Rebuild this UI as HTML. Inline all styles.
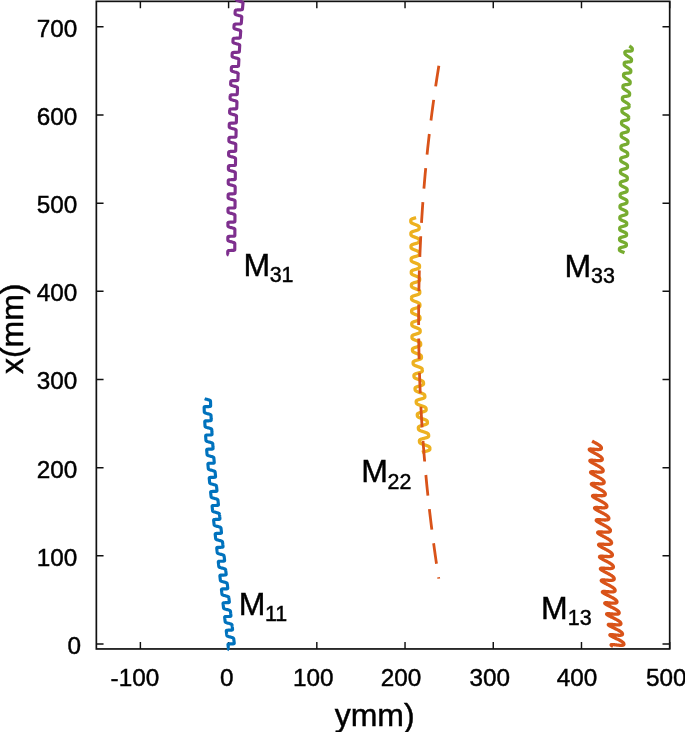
<!DOCTYPE html>
<html><head><meta charset="utf-8"><title>plot</title>
<style>html,body{margin:0;padding:0;background:#fff;overflow:hidden;}svg{display:block;}text{font-family:"Liberation Sans",Arial,sans-serif;fill:#000;stroke:#000;stroke-width:0.45px;}</style></head><body>
<svg width="685" height="732" viewBox="0 0 685 732">
<rect width="685" height="732" fill="#fff"/>
<rect x="96.35" y="1.35" width="573.35" height="647.60" fill="none" stroke="#111" stroke-width="1.70"/>
<path d="M140.38 648.95V641.95M140.38 1.35V8.35M228.60 648.95V641.95M228.60 1.35V8.35M316.82 648.95V641.95M316.82 1.35V8.35M405.04 648.95V641.95M405.04 1.35V8.35M493.26 648.95V641.95M493.26 1.35V8.35M581.48 648.95V641.95M581.48 1.35V8.35M669.70 648.95V641.95M669.70 1.35V8.35M96.35 644.00H103.55M669.70 644.00H662.50M96.35 555.83H103.55M669.70 555.83H662.50M96.35 467.66H103.55M669.70 467.66H662.50M96.35 379.49H103.55M669.70 379.49H662.50M96.35 291.32H103.55M669.70 291.32H662.50M96.35 203.15H103.55M669.70 203.15H662.50M96.35 114.98H103.55M669.70 114.98H662.50M96.35 26.81H103.55M669.70 26.81H662.50" stroke="#111" stroke-width="1.45" fill="none"/>
<path d="M243.82 -5.55L243.80 -5.45L243.79 -5.35L243.78 -5.25L243.76 -5.15L243.74 -5.05L243.71 -4.95L243.67 -4.86L243.62 -4.76L243.55 -4.67L243.44 -4.58L243.28 -4.50L243.06 -4.43L242.74 -4.36L242.30 -4.32L241.75 -4.29L241.08 -4.27L240.35 -4.26L239.61 -4.26L238.93 -4.24L238.34 -4.22L237.87 -4.18L237.51 -4.12L237.24 -4.05L237.05 -3.98L236.90 -3.89L236.80 -3.80L236.73 -3.71L236.67 -3.62L236.63 -3.52L236.59 -3.42L236.57 -3.32L236.54 -3.23L236.53 -3.13L236.51 -3.03L236.49 -2.93L236.48 -2.83L236.47 -2.73L236.46 -2.63L236.45 -2.53L236.43 -2.43L236.42 -2.32L236.41 -2.22L236.40 -2.12L236.39 -2.02L236.38 -1.92L236.38 -1.82L236.37 -1.72L236.36 -1.62L236.35 -1.52L236.34 -1.42L236.33 -1.32L236.33 -1.22L236.32 -1.12L236.31 -1.02L236.31 -0.91L236.30 -0.81L236.30 -0.71L236.31 -0.61L236.31 -0.51L236.32 -0.40L236.34 -0.30L236.38 -0.19L236.43 -0.08L236.50 0.03L236.61 0.14L236.77 0.27L236.99 0.40L237.30 0.54L237.71 0.69L238.24 0.86L238.88 1.05L239.59 1.24L240.31 1.43L240.98 1.62L241.56 1.80L242.01 1.96L242.35 2.10L242.59 2.24L242.74 2.36L242.85 2.47L242.91 2.58L242.95 2.69L242.97 2.79L242.98 2.90L242.99 3.00L242.99 3.10L242.98 3.20L242.98 3.30L242.97 3.40L242.96 3.51L242.95 3.61L242.95 3.71L242.94 3.81L242.93 3.91L242.92 4.01L242.91 4.11L242.90 4.21L242.89 4.31L242.88 4.41L242.87 4.51L242.86 4.61L242.86 4.71L242.85 4.81L242.84 4.91L242.83 5.01L242.82 5.12L242.81 5.22L242.80 5.32L242.79 5.42L242.78 5.52L242.77 5.62L242.77 5.72L242.76 5.82L242.75 5.92L242.74 6.02L242.73 6.12L242.72 6.22L242.71 6.32L242.70 6.42L242.69 6.52L242.68 6.62L242.68 6.73L242.67 6.83L242.66 6.93L242.65 7.03L242.64 7.13L242.63 7.23L242.62 7.33L242.61 7.43L242.60 7.53L242.60 7.63L242.59 7.73L242.58 7.83L242.57 7.93L242.56 8.03L242.55 8.13L242.54 8.23L242.53 8.33L242.52 8.44L242.51 8.54L242.50 8.64L242.49 8.74L242.48 8.84L242.47 8.94L242.45 9.04L242.43 9.14L242.40 9.23L242.36 9.33L242.30 9.42L242.22 9.51L242.09 9.60L241.91 9.68L241.66 9.75L241.30 9.80L240.82 9.84L240.22 9.87L239.53 9.88L238.79 9.89L238.06 9.90L237.41 9.91L236.87 9.95L236.44 9.99L236.12 10.05L235.88 10.12L235.71 10.20L235.58 10.29L235.49 10.38L235.42 10.47L235.37 10.57L235.33 10.66L235.31 10.76L235.28 10.86L235.26 10.96L235.24 11.06L235.23 11.16L235.22 11.26L235.20 11.36L235.19 11.46L235.18 11.56L235.17 11.66L235.16 11.76L235.15 11.86L235.14 11.96L235.14 12.06L235.13 12.16L235.12 12.26L235.11 12.37L235.10 12.47L235.09 12.57L235.09 12.67L235.08 12.77L235.07 12.87L235.07 12.97L235.06 13.07L235.06 13.17L235.05 13.27L235.05 13.37L235.05 13.48L235.06 13.58L235.07 13.68L235.08 13.79L235.11 13.89L235.15 14.00L235.21 14.11L235.29 14.22L235.42 14.34L235.60 14.46L235.85 14.60L236.20 14.74L236.66 14.90L237.23 15.08L237.90 15.27L238.62 15.46L239.33 15.65L239.97 15.84L240.51 16.01L240.92 16.16L241.22 16.30L241.42 16.43L241.56 16.55L241.65 16.66L241.70 16.77L241.74 16.88L241.75 16.98L241.76 17.08L241.76 17.19L241.76 17.29L241.76 17.39L241.75 17.49L241.75 17.59L241.74 17.69L241.73 17.79L241.73 17.89L241.72 17.99L241.71 18.09L241.70 18.20L241.69 18.30L241.69 18.40L241.68 18.50L241.67 18.60L241.66 18.70L241.65 18.80L241.65 18.90L241.64 19.00L241.63 19.10L241.62 19.20L241.61 19.30L241.61 19.40L241.60 19.50L241.59 19.60L241.58 19.70L241.57 19.81L241.57 19.91L241.56 20.01L241.55 20.11L241.54 20.21L241.53 20.31L241.53 20.41L241.52 20.51L241.51 20.61L241.50 20.71L241.49 20.81L241.49 20.91L241.48 21.01L241.47 21.11L241.46 21.21L241.45 21.31L241.45 21.41L241.44 21.52L241.43 21.62L241.42 21.72L241.41 21.82L241.41 21.92L241.40 22.02L241.39 22.12L241.38 22.22L241.37 22.32L241.37 22.42L241.36 22.52L241.35 22.62L241.34 22.72L241.33 22.82L241.32 22.92L241.31 23.02L241.29 23.12L241.28 23.22L241.25 23.32L241.22 23.42L241.18 23.51L241.11 23.61L241.02 23.70L240.88 23.78L240.67 23.86L240.38 23.92L239.98 23.97L239.46 24.01L238.82 24.02L238.11 24.03L237.36 24.04L236.66 24.05L236.05 24.07L235.55 24.11L235.16 24.16L234.87 24.23L234.66 24.30L234.51 24.38L234.40 24.47L234.32 24.56L234.26 24.66L234.22 24.75L234.18 24.85L234.16 24.95L234.13 25.05L234.12 25.15L234.10 25.25L234.09 25.35L234.08 25.45L234.07 25.55L234.06 25.65L234.05 25.75L234.04 25.85L234.03 25.95L234.02 26.05L234.01 26.15L234.00 26.25L234.00 26.35L233.99 26.45L233.98 26.55L233.98 26.65L233.97 26.75L233.96 26.85L233.96 26.95L233.95 27.06L233.95 27.16L233.94 27.26L233.94 27.36L233.94 27.46L233.94 27.56L233.94 27.66L233.95 27.77L233.96 27.87L233.98 27.97L234.01 28.08L234.06 28.19L234.12 28.30L234.22 28.41L234.37 28.53L234.57 28.66L234.86 28.80L235.25 28.95L235.75 29.12L236.36 29.30L237.06 29.49L237.78 29.68L238.48 29.87L239.08 30.05L239.57 30.22L239.94 30.37L240.20 30.50L240.38 30.63L240.50 30.74L240.58 30.85L240.62 30.96L240.65 31.07L240.67 31.17L240.67 31.27L240.68 31.37L240.67 31.48L240.67 31.58L240.67 31.68L240.66 31.78L240.65 31.88L240.65 31.98L240.64 32.08L240.63 32.18L240.63 32.28L240.62 32.38L240.61 32.48L240.61 32.58L240.60 32.68L240.59 32.78L240.58 32.89L240.58 32.99L240.57 33.09L240.56 33.19L240.56 33.29L240.55 33.39L240.54 33.49L240.53 33.59L240.53 33.69L240.52 33.79L240.51 33.89L240.51 33.99L240.50 34.09L240.49 34.19L240.48 34.29L240.48 34.39L240.47 34.50L240.46 34.60L240.46 34.70L240.45 34.80L240.44 34.90L240.43 35.00L240.43 35.10L240.42 35.20L240.41 35.30L240.41 35.40L240.40 35.50L240.39 35.60L240.39 35.70L240.38 35.80L240.37 35.90L240.36 36.00L240.36 36.10L240.35 36.21L240.34 36.31L240.34 36.41L240.33 36.51L240.32 36.61L240.31 36.71L240.31 36.81L240.30 36.91L240.29 37.01L240.28 37.11L240.27 37.21L240.25 37.31L240.23 37.41L240.21 37.51L240.17 37.60L240.12 37.70L240.05 37.79L239.94 37.88L239.78 37.96L239.55 38.03L239.22 38.09L238.78 38.13L238.21 38.16L237.54 38.18L236.81 38.19L236.08 38.19L235.40 38.21L234.83 38.24L234.38 38.28L234.03 38.34L233.77 38.40L233.58 38.48L233.45 38.57L233.35 38.66L233.28 38.75L233.23 38.84L233.19 38.94L233.16 39.04L233.14 39.13L233.12 39.23L233.10 39.33L233.09 39.43L233.08 39.53L233.07 39.63L233.06 39.73L233.05 39.83L233.04 39.93L233.03 40.03L233.02 40.14L233.02 40.24L233.01 40.34L233.00 40.44L233.00 40.54L232.99 40.64L232.98 40.74L232.98 40.84L232.97 40.94L232.97 41.04L232.96 41.14L232.96 41.24L232.95 41.34L232.95 41.44L232.95 41.55L232.95 41.65L232.95 41.75L232.95 41.85L232.96 41.95L232.98 42.06L233.00 42.16L233.04 42.27L233.09 42.38L233.17 42.49L233.29 42.60L233.46 42.73L233.69 42.86L234.01 43.00L234.44 43.16L234.98 43.33L235.63 43.51L236.35 43.71L237.07 43.90L237.74 44.09L238.30 44.26L238.75 44.42L239.08 44.57L239.31 44.70L239.46 44.82L239.57 44.93L239.63 45.04L239.67 45.15L239.69 45.25L239.71 45.36L239.71 45.46L239.71 45.56L239.71 45.66L239.71 45.76L239.70 45.86L239.70 45.96L239.69 46.07L239.69 46.17L239.68 46.27L239.68 46.37L239.67 46.47L239.66 46.57L239.66 46.67L239.65 46.77L239.64 46.87L239.64 46.97L239.63 47.07L239.62 47.17L239.62 47.27L239.61 47.37L239.61 47.47L239.60 47.58L239.59 47.68L239.59 47.78L239.58 47.88L239.57 47.98L239.57 48.08L239.56 48.18L239.56 48.28L239.55 48.38L239.54 48.48L239.54 48.58L239.53 48.68L239.52 48.78L239.52 48.88L239.51 48.98L239.51 49.08L239.50 49.18L239.49 49.29L239.49 49.39L239.48 49.49L239.47 49.59L239.47 49.69L239.46 49.79L239.46 49.89L239.45 49.99L239.44 50.09L239.44 50.19L239.43 50.29L239.43 50.39L239.42 50.49L239.41 50.59L239.41 50.69L239.40 50.79L239.39 50.90L239.39 51.00L239.38 51.10L239.37 51.20L239.36 51.30L239.35 51.40L239.33 51.50L239.31 51.59L239.29 51.69L239.25 51.79L239.19 51.88L239.11 51.97L238.98 52.06L238.80 52.14L238.53 52.20L238.17 52.26L237.68 52.30L237.07 52.32L236.38 52.33L235.64 52.34L234.92 52.35L234.28 52.37L233.75 52.40L233.34 52.45L233.03 52.51L232.80 52.58L232.63 52.66L232.51 52.75L232.43 52.84L232.37 52.93L232.32 53.03L232.29 53.12L232.26 53.22L232.24 53.32L232.22 53.42L232.21 53.52L232.20 53.62L232.18 53.72L232.18 53.82L232.17 53.92L232.16 54.02L232.15 54.12L232.15 54.22L232.14 54.32L232.13 54.42L232.13 54.52L232.12 54.62L232.11 54.72L232.11 54.82L232.10 54.93L232.10 55.03L232.09 55.13L232.09 55.23L232.08 55.33L232.08 55.43L232.08 55.53L232.08 55.63L232.08 55.73L232.08 55.83L232.08 55.94L232.09 56.04L232.10 56.14L232.12 56.25L232.15 56.35L232.19 56.46L232.26 56.57L232.35 56.68L232.48 56.80L232.67 56.92L232.93 57.06L233.29 57.21L233.77 57.37L234.35 57.55L235.03 57.73L235.76 57.93L236.47 58.12L237.10 58.31L237.63 58.47L238.03 58.63L238.32 58.77L238.52 58.89L238.65 59.01L238.74 59.12L238.80 59.23L238.83 59.34L238.85 59.44L238.86 59.54L238.87 59.65L238.87 59.75L238.87 59.85L238.86 59.95L238.86 60.05L238.85 60.15L238.85 60.25L238.84 60.35L238.84 60.45L238.83 60.55L238.83 60.66L238.82 60.76L238.82 60.86L238.81 60.96L238.81 61.06L238.80 61.16L238.80 61.26L238.79 61.36L238.78 61.46L238.78 61.56L238.77 61.66L238.77 61.76L238.76 61.86L238.76 61.96L238.75 62.06L238.75 62.16L238.74 62.26L238.73 62.37L238.73 62.47L238.72 62.57L238.72 62.67L238.71 62.77L238.71 62.87L238.70 62.97L238.70 63.07L238.69 63.17L238.69 63.27L238.68 63.37L238.67 63.47L238.67 63.57L238.66 63.67L238.66 63.77L238.65 63.87L238.65 63.98L238.64 64.08L238.64 64.18L238.63 64.28L238.63 64.38L238.62 64.48L238.62 64.58L238.61 64.68L238.60 64.78L238.60 64.88L238.59 64.98L238.59 65.08L238.58 65.18L238.57 65.28L238.56 65.38L238.56 65.48L238.54 65.58L238.53 65.68L238.51 65.78L238.48 65.88L238.43 65.97L238.37 66.07L238.27 66.16L238.13 66.24L237.92 66.31L237.62 66.38L237.21 66.42L236.68 66.46L236.04 66.48L235.32 66.48L234.58 66.49L233.89 66.50L233.29 66.53L232.80 66.57L232.43 66.62L232.15 66.69L231.95 66.76L231.80 66.84L231.70 66.93L231.62 67.02L231.57 67.12L231.53 67.21L231.50 67.31L231.47 67.41L231.45 67.51L231.44 67.61L231.43 67.71L231.42 67.81L231.41 67.91L231.40 68.01L231.39 68.11L231.38 68.21L231.38 68.31L231.37 68.41L231.37 68.51L231.36 68.61L231.35 68.71L231.35 68.81L231.34 68.91L231.34 69.01L231.34 69.11L231.33 69.21L231.33 69.31L231.32 69.41L231.32 69.52L231.32 69.62L231.32 69.72L231.32 69.82L231.32 69.92L231.32 70.02L231.33 70.12L231.33 70.23L231.35 70.33L231.37 70.43L231.41 70.54L231.46 70.65L231.53 70.76L231.64 70.87L231.79 70.99L232.01 71.12L232.30 71.26L232.70 71.41L233.22 71.58L233.84 71.76L234.55 71.96L235.28 72.15L235.97 72.34L236.56 72.52L237.04 72.68L237.40 72.83L237.66 72.96L237.83 73.09L237.95 73.20L238.02 73.31L238.07 73.42L238.10 73.53L238.12 73.63L238.12 73.73L238.13 73.83L238.13 73.93L238.13 74.04L238.13 74.14L238.12 74.24L238.12 74.34L238.11 74.44L238.11 74.54L238.11 74.64L238.10 74.74L238.10 74.84L238.09 74.94L238.09 75.04L238.08 75.14L238.08 75.24L238.07 75.34L238.07 75.45L238.06 75.55L238.06 75.65L238.05 75.75L238.05 75.85L238.04 75.95L238.04 76.05L238.03 76.15L238.03 76.25L238.03 76.35L238.02 76.45L238.02 76.55L238.01 76.65L238.01 76.75L238.00 76.85L238.00 76.95L237.99 77.06L237.99 77.16L237.98 77.26L237.98 77.36L237.97 77.46L237.97 77.56L237.96 77.66L237.96 77.76L237.95 77.86L237.95 77.96L237.95 78.06L237.94 78.16L237.94 78.26L237.93 78.36L237.93 78.46L237.92 78.56L237.92 78.67L237.91 78.77L237.91 78.87L237.90 78.97L237.90 79.07L237.89 79.17L237.89 79.27L237.88 79.37L237.87 79.47L237.87 79.57L237.86 79.67L237.84 79.77L237.83 79.87L237.80 79.97L237.77 80.06L237.72 80.16L237.65 80.25L237.54 80.34L237.37 80.42L237.13 80.49L236.80 80.55L236.35 80.59L235.77 80.62L235.10 80.63L234.36 80.64L233.63 80.64L232.97 80.66L232.41 80.69L231.97 80.73L231.63 80.79L231.39 80.86L231.21 80.94L231.08 81.02L230.99 81.11L230.92 81.21L230.87 81.30L230.84 81.40L230.81 81.50L230.79 81.59L230.77 81.69L230.76 81.79L230.75 81.89L230.74 81.99L230.73 82.09L230.73 82.19L230.72 82.29L230.71 82.39L230.71 82.49L230.70 82.59L230.70 82.70L230.69 82.80L230.69 82.90L230.68 83.00L230.68 83.10L230.67 83.20L230.67 83.30L230.67 83.40L230.66 83.50L230.66 83.60L230.66 83.70L230.66 83.80L230.66 83.90L230.66 84.01L230.66 84.11L230.67 84.21L230.67 84.31L230.68 84.41L230.70 84.52L230.73 84.62L230.77 84.73L230.83 84.84L230.92 84.95L231.04 85.07L231.21 85.19L231.46 85.32L231.79 85.47L232.23 85.62L232.79 85.80L233.45 85.98L234.17 86.18L234.89 86.37L235.55 86.56L236.11 86.73L236.55 86.89L236.87 87.03L237.09 87.16L237.24 87.28L237.34 87.39L237.40 87.50L237.44 87.61L237.47 87.71L237.48 87.82L237.49 87.92L237.49 88.02L237.49 88.12L237.49 88.22L237.49 88.32L237.49 88.42L237.48 88.53L237.48 88.63L237.48 88.73L237.47 88.83L237.47 88.93L237.47 89.03L237.46 89.13L237.46 89.23L237.45 89.33L237.45 89.43L237.45 89.53L237.44 89.63L237.44 89.73L237.43 89.83L237.43 89.93L237.42 90.03L237.42 90.14L237.42 90.24L237.41 90.34L237.41 90.44L237.40 90.54L237.40 90.64L237.40 90.74L237.39 90.84L237.39 90.94L237.38 91.04L237.38 91.14L237.38 91.24L237.37 91.34L237.37 91.44L237.36 91.54L237.36 91.64L237.36 91.75L237.35 91.85L237.35 91.95L237.34 92.05L237.34 92.15L237.34 92.25L237.33 92.35L237.33 92.45L237.32 92.55L237.32 92.65L237.32 92.75L237.31 92.85L237.31 92.95L237.30 93.05L237.30 93.15L237.29 93.25L237.29 93.35L237.29 93.46L237.28 93.56L237.27 93.66L237.27 93.76L237.26 93.86L237.24 93.96L237.22 94.05L237.20 94.15L237.16 94.25L237.10 94.34L237.02 94.43L236.89 94.52L236.70 94.59L236.43 94.66L236.06 94.71L235.56 94.75L234.95 94.77L234.24 94.78L233.50 94.79L232.79 94.80L232.17 94.82L231.65 94.85L231.25 94.90L230.95 94.97L230.73 95.04L230.57 95.12L230.46 95.21L230.38 95.30L230.32 95.39L230.28 95.49L230.25 95.58L230.22 95.68L230.21 95.78L230.19 95.88L230.18 95.98L230.17 96.08L230.16 96.18L230.15 96.28L230.15 96.38L230.14 96.48L230.14 96.58L230.13 96.68L230.13 96.78L230.12 96.88L230.12 96.98L230.12 97.08L230.11 97.18L230.11 97.28L230.11 97.39L230.10 97.49L230.10 97.59L230.10 97.69L230.10 97.79L230.09 97.89L230.09 97.99L230.09 98.09L230.10 98.19L230.10 98.29L230.11 98.40L230.12 98.50L230.13 98.60L230.15 98.71L230.18 98.81L230.23 98.92L230.30 99.03L230.40 99.14L230.54 99.26L230.74 99.39L231.01 99.52L231.38 99.67L231.87 99.84L232.46 100.01L233.15 100.20L233.88 100.40L234.59 100.59L235.22 100.77L235.73 100.94L236.13 101.09L236.41 101.23L236.60 101.35L236.73 101.47L236.82 101.58L236.87 101.69L236.91 101.80L236.93 101.90L236.94 102.00L236.95 102.11L236.95 102.21L236.95 102.31L236.95 102.41L236.95 102.51L236.95 102.61L236.94 102.71L236.94 102.81L236.94 102.91L236.93 103.01L236.93 103.11L236.93 103.22L236.92 103.32L236.92 103.42L236.92 103.52L236.91 103.62L236.91 103.72L236.91 103.82L236.90 103.92L236.90 104.02L236.90 104.12L236.89 104.22L236.89 104.32L236.89 104.42L236.88 104.52L236.88 104.62L236.88 104.72L236.87 104.83L236.87 104.93L236.86 105.03L236.86 105.13L236.86 105.23L236.85 105.33L236.85 105.43L236.85 105.53L236.84 105.63L236.84 105.73L236.84 105.83L236.83 105.93L236.83 106.03L236.83 106.13L236.82 106.23L236.82 106.33L236.82 106.44L236.81 106.54L236.81 106.64L236.81 106.74L236.80 106.84L236.80 106.94L236.80 107.04L236.79 107.14L236.79 107.24L236.79 107.34L236.78 107.44L236.78 107.54L236.77 107.64L236.77 107.74L236.76 107.84L236.75 107.94L236.74 108.04L236.73 108.14L236.71 108.24L236.68 108.34L236.64 108.43L236.57 108.53L236.47 108.61L236.33 108.70L236.11 108.77L235.80 108.83L235.39 108.88L234.85 108.91L234.20 108.93L233.47 108.94L232.74 108.94L232.06 108.96L231.47 108.98L231.00 109.02L230.63 109.08L230.36 109.14L230.17 109.22L230.03 109.30L229.93 109.39L229.86 109.48L229.81 109.58L229.77 109.67L229.75 109.77L229.72 109.87L229.71 109.97L229.70 110.07L229.69 110.17L229.68 110.27L229.67 110.37L229.66 110.47L229.66 110.57L229.65 110.67L229.65 110.77L229.65 110.87L229.64 110.97L229.64 111.07L229.63 111.17L229.63 111.27L229.63 111.37L229.63 111.47L229.62 111.57L229.62 111.67L229.62 111.77L229.62 111.87L229.62 111.98L229.62 112.08L229.62 112.18L229.62 112.28L229.62 112.38L229.63 112.48L229.63 112.58L229.65 112.69L229.66 112.79L229.69 112.89L229.73 113.00L229.78 113.11L229.86 113.22L229.97 113.33L230.13 113.46L230.36 113.59L230.66 113.73L231.08 113.88L231.60 114.05L232.24 114.23L232.95 114.42L233.68 114.62L234.37 114.81L234.96 114.99L235.43 115.15L235.78 115.29L236.02 115.43L236.19 115.55L236.31 115.66L236.38 115.77L236.43 115.88L236.46 115.99L236.47 116.09L236.48 116.19L236.49 116.29L236.49 116.39L236.49 116.50L236.49 116.60L236.49 116.70L236.49 116.80L236.49 116.90L236.48 117.00L236.48 117.10L236.48 117.20L236.48 117.30L236.47 117.40L236.47 117.50L236.47 117.60L236.46 117.70L236.46 117.80L236.46 117.91L236.46 118.01L236.45 118.11L236.45 118.21L236.45 118.31L236.44 118.41L236.44 118.51L236.44 118.61L236.43 118.71L236.43 118.81L236.43 118.91L236.43 119.01L236.42 119.11L236.42 119.21L236.42 119.31L236.41 119.41L236.41 119.52L236.41 119.62L236.41 119.72L236.40 119.82L236.40 119.92L236.40 120.02L236.39 120.12L236.39 120.22L236.39 120.32L236.39 120.42L236.38 120.52L236.38 120.62L236.38 120.72L236.37 120.82L236.37 120.92L236.37 121.02L236.37 121.13L236.36 121.23L236.36 121.33L236.36 121.43L236.35 121.53L236.35 121.63L236.35 121.73L236.34 121.83L236.34 121.93L236.33 122.03L236.32 122.13L236.31 122.23L236.30 122.33L236.27 122.43L236.24 122.52L236.19 122.62L236.12 122.71L236.00 122.79L235.83 122.87L235.59 122.94L235.24 123.00L234.78 123.04L234.20 123.07L233.52 123.08L232.78 123.09L232.06 123.10L231.41 123.11L230.86 123.14L230.43 123.19L230.11 123.25L229.87 123.32L229.70 123.40L229.58 123.48L229.49 123.57L229.43 123.67L229.38 123.76L229.35 123.86L229.32 123.96L229.31 124.05L229.29 124.15L229.28 124.25L229.27 124.35L229.26 124.45L229.26 124.55L229.25 124.65L229.25 124.75L229.24 124.85L229.24 124.95L229.24 125.05L229.23 125.16L229.23 125.26L229.23 125.36L229.23 125.46L229.22 125.56L229.22 125.66L229.22 125.76L229.22 125.86L229.22 125.96L229.21 126.06L229.21 126.16L229.21 126.26L229.22 126.36L229.22 126.47L229.22 126.57L229.23 126.67L229.24 126.77L229.25 126.87L229.27 126.98L229.31 127.08L229.35 127.19L229.41 127.30L229.50 127.41L229.63 127.53L229.81 127.65L230.06 127.79L230.41 127.93L230.86 128.09L231.43 128.26L232.10 128.45L232.83 128.65L233.55 128.84L234.21 129.02L234.75 129.20L235.18 129.35L235.49 129.49L235.71 129.62L235.85 129.74L235.95 129.85L236.01 129.96L236.05 130.07L236.08 130.17L236.09 130.28L236.10 130.38L236.11 130.48L236.11 130.58L236.11 130.68L236.11 130.78L236.11 130.88L236.11 130.99L236.10 131.09L236.10 131.19L236.10 131.29L236.10 131.39L236.10 131.49L236.09 131.59L236.09 131.69L236.09 131.79L236.09 131.89L236.08 131.99L236.08 132.09L236.08 132.19L236.08 132.29L236.07 132.39L236.07 132.49L236.07 132.60L236.07 132.70L236.06 132.80L236.06 132.90L236.06 133.00L236.06 133.10L236.06 133.20L236.05 133.30L236.05 133.40L236.05 133.50L236.05 133.60L236.04 133.70L236.04 133.80L236.04 133.90L236.04 134.00L236.03 134.10L236.03 134.21L236.03 134.31L236.03 134.41L236.02 134.51L236.02 134.61L236.02 134.71L236.02 134.81L236.02 134.91L236.01 135.01L236.01 135.11L236.01 135.21L236.01 135.31L236.00 135.41L236.00 135.51L236.00 135.61L236.00 135.71L235.99 135.81L235.99 135.92L235.98 136.02L235.98 136.12L235.97 136.22L235.97 136.32L235.95 136.42L235.94 136.51L235.91 136.61L235.87 136.71L235.82 136.80L235.73 136.89L235.60 136.97L235.40 137.05L235.13 137.12L234.74 137.17L234.23 137.20L233.61 137.22L232.90 137.23L232.17 137.24L231.46 137.25L230.85 137.27L230.35 137.31L229.96 137.36L229.67 137.42L229.46 137.50L229.30 137.58L229.20 137.67L229.12 137.76L229.07 137.85L229.03 137.95L229.00 138.04L228.98 138.14L228.96 138.24L228.95 138.34L228.94 138.44L228.93 138.54L228.92 138.64L228.92 138.74L228.91 138.84L228.91 138.94L228.91 139.04L228.90 139.14L228.90 139.24L228.90 139.34L228.89 139.44L228.89 139.54L228.89 139.64L228.89 139.74L228.89 139.85L228.89 139.95L228.88 140.05L228.88 140.15L228.88 140.25L228.88 140.35L228.88 140.45L228.89 140.55L228.89 140.65L228.90 140.75L228.90 140.86L228.92 140.96L228.93 141.06L228.96 141.17L228.99 141.27L229.04 141.38L229.11 141.49L229.22 141.60L229.36 141.72L229.57 141.85L229.85 141.99L230.24 142.14L230.74 142.30L231.35 142.48L232.04 142.67L232.78 142.87L233.48 143.06L234.10 143.24L234.60 143.40L234.98 143.55L235.26 143.69L235.45 143.82L235.58 143.93L235.66 144.05L235.71 144.15L235.75 144.26L235.77 144.36L235.78 144.46L235.79 144.57L235.79 144.67L235.80 144.77L235.80 144.87L235.80 144.97L235.79 145.07L235.79 145.17L235.79 145.27L235.79 145.37L235.79 145.47L235.79 145.57L235.78 145.68L235.78 145.78L235.78 145.88L235.78 145.98L235.78 146.08L235.77 146.18L235.77 146.28L235.77 146.38L235.77 146.48L235.77 146.58L235.76 146.68L235.76 146.78L235.76 146.88L235.76 146.98L235.76 147.08L235.76 147.18L235.75 147.29L235.75 147.39L235.75 147.49L235.75 147.59L235.75 147.69L235.74 147.79L235.74 147.89L235.74 147.99L235.74 148.09L235.74 148.19L235.73 148.29L235.73 148.39L235.73 148.49L235.73 148.59L235.73 148.69L235.72 148.79L235.72 148.89L235.72 149.00L235.72 149.10L235.72 149.20L235.71 149.30L235.71 149.40L235.71 149.50L235.71 149.60L235.71 149.70L235.70 149.80L235.70 149.90L235.70 150.00L235.70 150.10L235.69 150.20L235.69 150.30L235.68 150.40L235.67 150.50L235.66 150.60L235.64 150.70L235.61 150.80L235.57 150.89L235.50 150.98L235.40 151.07L235.25 151.15L235.03 151.23L234.71 151.29L234.28 151.33L233.73 151.36L233.07 151.38L232.35 151.39L231.62 151.39L230.94 151.41L230.37 151.43L229.91 151.48L229.56 151.53L229.30 151.60L229.11 151.68L228.98 151.76L228.89 151.85L228.82 151.94L228.77 152.04L228.74 152.13L228.71 152.23L228.69 152.33L228.68 152.43L228.67 152.53L228.66 152.63L228.65 152.73L228.64 152.83L228.64 152.93L228.64 153.03L228.63 153.13L228.63 153.23L228.63 153.33L228.62 153.43L228.62 153.53L228.62 153.63L228.62 153.73L228.62 153.83L228.62 153.93L228.61 154.03L228.61 154.13L228.61 154.23L228.61 154.33L228.61 154.44L228.61 154.54L228.62 154.64L228.62 154.74L228.62 154.84L228.63 154.94L228.64 155.04L228.65 155.15L228.67 155.25L228.70 155.35L228.74 155.46L228.80 155.57L228.88 155.68L229.00 155.80L229.17 155.92L229.40 156.05L229.72 156.19L230.14 156.35L230.68 156.52L231.33 156.70L232.05 156.89L232.78 157.09L233.46 157.28L234.04 157.45L234.50 157.61L234.84 157.76L235.08 157.89L235.24 158.01L235.35 158.12L235.42 158.24L235.47 158.34L235.50 158.45L235.52 158.55L235.53 158.65L235.53 158.75L235.54 158.85L235.54 158.96L235.54 159.06L235.54 159.16L235.54 159.26L235.54 159.36L235.54 159.46L235.54 159.56L235.53 159.66L235.53 159.76L235.53 159.86L235.53 159.96L235.53 160.06L235.53 160.16L235.53 160.26L235.52 160.37L235.52 160.47L235.52 160.57L235.52 160.67L235.52 160.77L235.52 160.87L235.51 160.97L235.51 161.07L235.51 161.17L235.51 161.27L235.51 161.37L235.51 161.47L235.51 161.57L235.50 161.67L235.50 161.77L235.50 161.87L235.50 161.98L235.50 162.08L235.50 162.18L235.49 162.28L235.49 162.38L235.49 162.48L235.49 162.58L235.49 162.68L235.49 162.78L235.49 162.88L235.48 162.98L235.48 163.08L235.48 163.18L235.48 163.28L235.48 163.38L235.48 163.48L235.47 163.58L235.47 163.69L235.47 163.79L235.47 163.89L235.47 163.99L235.47 164.09L235.46 164.19L235.46 164.29L235.46 164.39L235.45 164.49L235.44 164.59L235.43 164.69L235.42 164.79L235.40 164.89L235.36 164.98L235.31 165.08L235.24 165.17L235.12 165.25L234.94 165.33L234.69 165.40L234.34 165.45L233.87 165.49L233.27 165.52L232.58 165.53L231.85 165.54L231.13 165.55L230.49 165.57L229.96 165.60L229.54 165.64L229.23 165.70L229.00 165.78L228.83 165.86L228.72 165.94L228.63 166.03L228.57 166.12L228.53 166.22L228.50 166.32L228.48 166.42L228.46 166.51L228.45 166.61L228.44 166.71L228.43 166.81L228.43 166.91L228.42 167.01L228.42 167.11L228.41 167.21L228.41 167.31L228.41 167.41L228.41 167.51L228.40 167.62L228.40 167.72L228.40 167.82L228.40 167.92L228.40 168.02L228.40 168.12L228.40 168.22L228.40 168.32L228.40 168.42L228.40 168.52L228.40 168.62L228.40 168.72L228.40 168.82L228.41 168.93L228.41 169.03L228.42 169.13L228.43 169.23L228.45 169.33L228.47 169.44L228.50 169.54L228.55 169.65L228.62 169.76L228.71 169.87L228.84 169.99L229.03 170.11L229.29 170.25L229.65 170.40L230.12 170.56L230.70 170.73L231.38 170.92L232.11 171.11L232.83 171.31L233.47 171.49L234.01 171.66L234.42 171.82L234.73 171.96L234.94 172.08L235.08 172.20L235.18 172.32L235.24 172.42L235.28 172.53L235.30 172.63L235.32 172.74L235.33 172.84L235.33 172.94L235.33 173.04L235.34 173.14L235.34 173.24L235.34 173.34L235.34 173.44L235.34 173.55L235.33 173.65L235.33 173.75L235.33 173.85L235.33 173.95L235.33 174.05L235.33 174.15L235.33 174.25L235.33 174.35L235.33 174.45L235.32 174.55L235.32 174.65L235.32 174.75L235.32 174.85L235.32 174.95L235.32 175.06L235.32 175.16L235.32 175.26L235.31 175.36L235.31 175.46L235.31 175.56L235.31 175.66L235.31 175.76L235.31 175.86L235.31 175.96L235.31 176.06L235.30 176.16L235.30 176.26L235.30 176.36L235.30 176.46L235.30 176.56L235.30 176.66L235.30 176.77L235.30 176.87L235.29 176.97L235.29 177.07L235.29 177.17L235.29 177.27L235.29 177.37L235.29 177.47L235.29 177.57L235.29 177.67L235.28 177.77L235.28 177.87L235.28 177.97L235.28 178.07L235.28 178.17L235.28 178.27L235.27 178.37L235.27 178.48L235.27 178.58L235.26 178.68L235.25 178.78L235.24 178.87L235.23 178.97L235.20 179.07L235.16 179.17L235.10 179.26L235.01 179.35L234.88 179.43L234.68 179.51L234.39 179.57L234.00 179.62L233.48 179.66L232.85 179.68L232.14 179.68L231.40 179.69L230.71 179.70L230.10 179.73L229.61 179.76L229.23 179.82L228.95 179.88L228.75 179.95L228.61 180.04L228.50 180.12L228.43 180.22L228.38 180.31L228.34 180.41L228.31 180.50L228.29 180.60L228.28 180.70L228.27 180.80L228.26 180.90L228.25 181.00L228.25 181.10L228.24 181.20L228.24 181.30L228.24 181.40L228.23 181.50L228.23 181.60L228.23 181.70L228.23 181.80L228.23 181.90L228.23 182.00L228.23 182.10L228.22 182.20L228.22 182.31L228.22 182.41L228.22 182.51L228.22 182.61L228.23 182.71L228.23 182.81L228.23 182.91L228.23 183.01L228.24 183.11L228.24 183.21L228.25 183.32L228.27 183.42L228.29 183.52L228.31 183.63L228.35 183.73L228.40 183.84L228.48 183.95L228.59 184.06L228.74 184.18L228.95 184.31L229.25 184.45L229.64 184.60L230.15 184.77L230.77 184.95L231.48 185.14L232.21 185.34L232.91 185.53L233.52 185.71L234.01 185.87L234.38 186.02L234.65 186.15L234.83 186.28L234.96 186.39L235.04 186.51L235.09 186.61L235.12 186.72L235.15 186.82L235.16 186.92L235.17 187.03L235.17 187.13L235.17 187.23L235.18 187.33L235.18 187.43L235.18 187.53L235.18 187.63L235.18 187.73L235.17 187.83L235.17 187.93L235.17 188.03L235.17 188.14L235.17 188.24L235.17 188.34L235.17 188.44L235.17 188.54L235.17 188.64L235.17 188.74L235.17 188.84L235.16 188.94L235.16 189.04L235.16 189.14L235.16 189.24L235.16 189.34L235.16 189.44L235.16 189.54L235.16 189.64L235.16 189.74L235.16 189.85L235.15 189.95L235.15 190.05L235.15 190.15L235.15 190.25L235.15 190.35L235.15 190.45L235.15 190.55L235.15 190.65L235.15 190.75L235.15 190.85L235.15 190.95L235.14 191.05L235.14 191.15L235.14 191.25L235.14 191.35L235.14 191.46L235.14 191.56L235.14 191.66L235.14 191.76L235.14 191.86L235.14 191.96L235.13 192.06L235.13 192.16L235.13 192.26L235.13 192.36L235.13 192.46L235.13 192.56L235.12 192.66L235.12 192.76L235.11 192.86L235.10 192.96L235.09 193.06L235.07 193.16L235.04 193.26L235.00 193.35L234.93 193.44L234.83 193.53L234.67 193.61L234.44 193.68L234.12 193.74L233.68 193.79L233.12 193.81L232.45 193.83L231.72 193.84L231.00 193.84L230.33 193.86L229.77 193.89L229.32 193.93L228.98 193.99L228.73 194.06L228.55 194.13L228.42 194.22L228.33 194.31L228.27 194.40L228.22 194.49L228.19 194.59L228.17 194.69L228.15 194.79L228.14 194.89L228.13 194.99L228.12 195.09L228.11 195.19L228.11 195.29L228.10 195.39L228.10 195.49L228.10 195.59L228.10 195.69L228.09 195.79L228.09 195.89L228.09 195.99L228.09 196.09L228.09 196.19L228.09 196.29L228.09 196.39L228.09 196.49L228.09 196.59L228.09 196.69L228.09 196.79L228.09 196.90L228.09 197.00L228.10 197.10L228.10 197.20L228.11 197.30L228.11 197.40L228.12 197.50L228.14 197.61L228.16 197.71L228.19 197.81L228.23 197.92L228.29 198.03L228.38 198.14L228.50 198.26L228.68 198.38L228.92 198.51L229.25 198.66L229.68 198.81L230.24 198.98L230.89 199.17L231.61 199.36L232.34 199.56L233.01 199.74L233.58 199.92L234.03 200.08L234.36 200.22L234.60 200.35L234.76 200.47L234.86 200.59L234.93 200.70L234.98 200.80L235.01 200.91L235.02 201.01L235.03 201.11L235.04 201.21L235.05 201.31L235.05 201.42L235.05 201.52L235.05 201.62L235.05 201.72L235.05 201.82L235.05 201.92L235.05 202.02L235.05 202.12L235.05 202.22L235.05 202.32L235.05 202.42L235.05 202.52L235.04 202.62L235.04 202.72L235.04 202.82L235.04 202.93L235.04 203.03L235.04 203.13L235.04 203.23L235.04 203.33L235.04 203.43L235.04 203.53L235.04 203.63L235.04 203.73L235.04 203.83L235.03 203.93L235.03 204.03L235.03 204.13L235.03 204.23L235.03 204.33L235.03 204.43L235.03 204.54L235.03 204.64L235.03 204.74L235.03 204.84L235.03 204.94L235.03 205.04L235.03 205.14L235.03 205.24L235.02 205.34L235.02 205.44L235.02 205.54L235.02 205.64L235.02 205.74L235.02 205.84L235.02 205.94L235.02 206.04L235.02 206.15L235.02 206.25L235.02 206.35L235.01 206.45L235.01 206.55L235.01 206.65L235.01 206.75L235.01 206.85L235.00 206.95L235.00 207.05L234.99 207.15L234.97 207.25L234.95 207.34L234.92 207.44L234.86 207.54L234.78 207.63L234.66 207.71L234.48 207.79L234.22 207.86L233.86 207.91L233.37 207.95L232.77 207.97L232.08 207.98L231.34 207.99L230.63 208.00L230.00 208.02L229.48 208.05L229.07 208.10L228.77 208.16L228.55 208.23L228.39 208.31L228.28 208.40L228.20 208.49L228.14 208.58L228.10 208.68L228.07 208.78L228.05 208.87L228.03 208.97L228.02 209.07L228.01 209.17L228.01 209.27L228.00 209.37L228.00 209.47L227.99 209.57L227.99 209.67L227.99 209.77L227.99 209.87L227.99 209.97L227.98 210.07L227.98 210.18L227.98 210.28L227.98 210.38L227.98 210.48L227.98 210.58L227.98 210.68L227.98 210.78L227.98 210.88L227.98 210.98L227.99 211.08L227.99 211.18L227.99 211.28L228.00 211.39L228.00 211.49L228.01 211.59L228.02 211.69L228.04 211.79L228.07 211.90L228.10 212.00L228.15 212.11L228.22 212.22L228.32 212.33L228.46 212.45L228.65 212.58L228.92 212.71L229.29 212.86L229.77 213.02L230.36 213.20L231.05 213.39L231.78 213.58L232.50 213.78L233.13 213.96L233.66 214.13L234.06 214.28L234.36 214.42L234.56 214.55L234.70 214.66L234.79 214.78L234.85 214.88L234.89 214.99L234.91 215.09L234.93 215.20L234.94 215.30L234.94 215.40L234.95 215.50L234.95 215.60L234.95 215.70L234.95 215.80L234.95 215.90L234.95 216.01L234.95 216.11L234.95 216.21L234.95 216.31L234.95 216.41L234.95 216.51L234.95 216.61L234.95 216.71L234.95 216.81L234.95 216.91L234.95 217.01L234.94 217.11L234.94 217.21L234.94 217.31L234.94 217.41L234.94 217.51L234.94 217.62L234.94 217.72L234.94 217.82L234.94 217.92L234.94 218.02L234.94 218.12L234.94 218.22L234.94 218.32L234.94 218.42L234.94 218.52L234.94 218.62L234.93 218.72L234.93 218.82L234.93 218.92L234.93 219.02L234.93 219.12L234.93 219.23L234.93 219.33L234.93 219.43L234.93 219.53L234.93 219.63L234.93 219.73L234.93 219.83L234.93 219.93L234.93 220.03L234.93 220.13L234.93 220.23L234.92 220.33L234.92 220.43L234.92 220.53L234.92 220.63L234.92 220.73L234.92 220.83L234.92 220.94L234.91 221.04L234.91 221.14L234.90 221.24L234.89 221.33L234.87 221.43L234.85 221.53L234.81 221.63L234.75 221.72L234.65 221.81L234.51 221.89L234.31 221.96L234.01 222.03L233.60 222.08L233.08 222.11L232.44 222.13L231.72 222.14L230.99 222.14L230.30 222.15L229.71 222.18L229.23 222.22L228.86 222.27L228.59 222.34L228.39 222.41L228.25 222.49L228.15 222.58L228.08 222.67L228.03 222.77L228.00 222.87L227.97 222.96L227.95 223.06L227.94 223.16L227.93 223.26L227.92 223.36L227.92 223.46L227.91 223.56L227.91 223.66L227.91 223.76L227.90 223.86L227.90 223.96L227.90 224.06L227.90 224.16L227.90 224.26L227.90 224.36L227.90 224.46L227.90 224.56L227.90 224.66L227.90 224.76L227.90 224.87L227.90 224.97L227.90 225.07L227.90 225.17L227.90 225.27L227.90 225.37L227.91 225.47L227.91 225.57L227.92 225.67L227.93 225.78L227.94 225.88L227.96 225.98L227.99 226.09L228.03 226.19L228.09 226.30L228.17 226.41L228.28 226.53L228.44 226.65L228.66 226.78L228.96 226.92L229.37 227.07L229.89 227.24L230.52 227.42L231.23 227.61L231.96 227.81L232.66 227.99L233.26 228.17L233.74 228.34L234.10 228.48L234.36 228.62L234.53 228.74L234.65 228.86L234.73 228.97L234.78 229.07L234.82 229.18L234.84 229.28L234.85 229.38L234.86 229.49L234.86 229.59L234.87 229.69L234.87 229.79L234.87 229.89L234.87 229.99L234.87 230.09L234.87 230.19L234.87 230.29L234.87 230.39L234.87 230.49L234.87 230.59L234.87 230.70L234.87 230.80L234.87 230.90L234.87 231.00L234.87 231.10L234.86 231.20L234.86 231.30L234.86 231.40L234.86 231.50L234.86 231.60L234.86 231.70L234.86 231.80L234.86 231.90L234.86 232.00L234.86 232.10L234.86 232.20L234.86 232.31L234.86 232.41L234.86 232.51L234.86 232.61L234.86 232.71L234.86 232.81L234.86 232.91L234.86 233.01L234.85 233.11L234.85 233.21L234.85 233.31L234.85 233.41L234.85 233.51L234.85 233.61L234.85 233.71L234.85 233.81L234.85 233.92L234.85 234.02L234.85 234.12L234.85 234.22L234.85 234.32L234.85 234.42L234.85 234.52L234.85 234.62L234.85 234.72L234.84 234.82L234.84 234.92L234.84 235.02L234.84 235.12L234.83 235.22L234.83 235.32L234.82 235.42L234.81 235.52L234.79 235.62L234.76 235.72L234.71 235.81L234.64 235.90L234.53 235.99L234.37 236.07L234.13 236.14L233.80 236.20L233.35 236.24L232.78 236.27L232.10 236.28L231.37 236.29L230.65 236.29L229.99 236.31L229.44 236.34L229.01 236.39L228.68 236.44L228.43 236.51L228.26 236.59L228.14 236.68L228.05 236.77L227.99 236.86L227.94 236.95L227.91 237.05L227.89 237.15L227.87 237.25L227.86 237.35L227.85 237.45L227.85 237.55L227.84 237.65L227.84 237.75L227.83 237.85L227.83 237.95L227.83 238.05L227.83 238.15L227.83 238.25L227.82 238.35L227.82 238.45L227.82 238.55L227.82 238.65L227.82 238.75L227.82 238.85L227.82 238.95L227.82 239.05L227.82 239.15L227.82 239.25L227.83 239.35L227.83 239.46L227.83 239.56L227.84 239.66L227.84 239.76L227.85 239.86L227.86 239.96L227.88 240.07L227.90 240.17L227.93 240.27L227.98 240.38L228.04 240.49L228.13 240.60L228.26 240.72L228.44 240.84L228.68 240.98L229.02 241.12L229.47 241.28L230.04 241.45L230.70 241.64L231.43 241.83L232.15 242.03L232.82 242.21L233.37 242.38L233.81 242.54L234.13 242.68L234.36 242.81L234.51 242.93L234.61 243.05L234.68 243.16L234.72 243.26L234.75 243.37L234.77 243.47L234.78 243.57L234.79 243.67L234.79 243.77L234.79 243.88L234.80 243.98L234.80 244.08L234.80 244.18L234.80 244.28L234.80 244.38L234.80 244.48L234.80 244.58L234.80 244.68L234.80 244.78L234.80 244.88L234.79 244.98L234.79 245.08L234.79 245.18L234.79 245.28L234.79 245.39L234.79 245.49L234.79 245.59L234.79 245.69L234.79 245.79L234.79 245.89L234.79 245.99L234.79 246.09L234.79 246.19L234.79 246.29L234.79 246.39L234.79 246.49L234.79 246.59L234.79 246.69L234.79 246.79L234.79 246.89L234.79 247.00L234.78 247.10L234.78 247.20L234.78 247.30L234.78 247.40L234.78 247.50L234.78 247.60L234.78 247.70L234.78 247.80L234.78 247.90L234.78 248.00L234.78 248.10L234.78 248.20L234.78 248.30L234.78 248.40L234.78 248.50L234.78 248.60L234.78 248.71L234.78 248.81L234.77 248.91L234.77 249.01L234.77 249.11L234.77 249.21L234.77 249.31L234.76 249.41L234.76 249.51L234.75 249.61L234.73 249.71L234.71 249.80L234.67 249.90L234.62 249.99L234.54 250.08L234.41 250.17L234.22 250.25L233.95 250.31L233.58 250.36L233.08 250.40L232.47 250.42L231.77 250.43L231.03 250.44L230.33 250.45L229.71 250.47L229.20 250.51L228.80 250.56L228.51 250.62L228.29 250.69L228.14 250.77L228.03 250.86L227.96 250.95L227.90 251.04L227.86 251.14L227.83 251.24L227.81 251.33L227.80 251.43L227.79 251.53L227.78 251.63L227.77 251.73L227.77 251.83L227.76 251.93L227.76 252.03L227.76 252.13L227.76 252.23L227.76 252.33L227.75 252.43L227.75 252.53L227.75 252.64L227.75 252.74L227.75 252.84L227.75 252.94L227.75 253.04L227.75 253.14L227.75 253.24L227.75 253.34L227.75 253.44L227.76 253.54L227.76 253.64L227.76 253.74L227.77 253.85L227.77 253.95L227.78 254.05L227.80 254.15L227.82 254.25L227.84 254.36L227.88 254.46L227.93 254.57L228.00 254.68L228.10 254.79L228.25 254.91L228.45 255.04L228.73 255.18" fill="none" stroke="#7E2F8E" stroke-width="3.15" stroke-linejoin="round" stroke-linecap="butt"/>
<path d="M204.69 398.66L205.03 398.80L205.49 398.96L206.07 399.14L206.73 399.32L207.43 399.52L208.11 399.71L208.71 399.88L209.21 400.05L209.59 400.20L209.87 400.33L210.07 400.45L210.21 400.57L210.31 400.68L210.37 400.78L210.42 400.89L210.45 400.99L210.47 401.09L210.49 401.19L210.50 401.28L210.51 401.38L210.51 401.48L210.52 401.58L210.52 401.67L210.53 401.77L210.53 401.87L210.53 401.96L210.54 402.06L210.54 402.16L210.54 402.25L210.55 402.35L210.55 402.45L210.55 402.54L210.55 402.64L210.56 402.74L210.56 402.83L210.56 402.93L210.56 403.03L210.57 403.12L210.57 403.22L210.57 403.32L210.57 403.41L210.58 403.51L210.58 403.61L210.58 403.70L210.59 403.80L210.59 403.90L210.59 403.99L210.59 404.09L210.60 404.19L210.60 404.28L210.60 404.38L210.60 404.48L210.61 404.57L210.61 404.67L210.61 404.77L210.61 404.86L210.62 404.96L210.62 405.06L210.62 405.15L210.62 405.25L210.62 405.34L210.62 405.44L210.62 405.54L210.62 405.63L210.61 405.73L210.60 405.82L210.59 405.92L210.56 406.01L210.52 406.10L210.46 406.19L210.38 406.27L210.24 406.35L210.05 406.42L209.78 406.48L209.41 406.53L208.92 406.56L208.33 406.57L207.66 406.58L206.96 406.58L206.30 406.58L205.73 406.60L205.27 406.64L204.92 406.68L204.67 406.75L204.49 406.82L204.37 406.90L204.29 406.98L204.24 407.07L204.20 407.16L204.18 407.26L204.16 407.35L204.16 407.45L204.15 407.54L204.15 407.64L204.15 407.73L204.15 407.83L204.15 407.93L204.15 408.02L204.15 408.12L204.16 408.22L204.16 408.31L204.16 408.41L204.17 408.51L204.17 408.60L204.17 408.70L204.18 408.80L204.18 408.89L204.18 408.99L204.19 409.09L204.19 409.18L204.19 409.28L204.20 409.38L204.20 409.47L204.21 409.57L204.21 409.67L204.21 409.76L204.22 409.86L204.22 409.96L204.22 410.05L204.23 410.15L204.23 410.24L204.23 410.34L204.24 410.44L204.24 410.53L204.25 410.63L204.25 410.73L204.25 410.82L204.26 410.92L204.26 411.02L204.27 411.12L204.27 411.21L204.28 411.31L204.28 411.41L204.29 411.50L204.29 411.60L204.30 411.70L204.31 411.79L204.32 411.89L204.33 411.99L204.35 412.09L204.38 412.19L204.41 412.29L204.47 412.39L204.54 412.50L204.65 412.61L204.81 412.73L205.03 412.85L205.34 412.99L205.76 413.15L206.30 413.31L206.93 413.50L207.63 413.69L208.33 413.88L208.97 414.06L209.51 414.23L209.94 414.39L210.26 414.53L210.49 414.65L210.65 414.77L210.76 414.88L210.84 414.99L210.89 415.09L210.93 415.19L210.95 415.29L210.97 415.39L210.99 415.49L211.00 415.59L211.01 415.69L211.02 415.78L211.02 415.88L211.03 415.98L211.03 416.07L211.04 416.17L211.04 416.27L211.05 416.36L211.05 416.46L211.06 416.56L211.06 416.65L211.07 416.75L211.07 416.85L211.08 416.94L211.08 417.04L211.09 417.14L211.09 417.23L211.10 417.33L211.10 417.43L211.10 417.52L211.11 417.62L211.11 417.72L211.12 417.81L211.12 417.91L211.13 418.01L211.13 418.10L211.14 418.20L211.14 418.30L211.15 418.39L211.15 418.49L211.15 418.59L211.16 418.68L211.16 418.78L211.17 418.88L211.17 418.97L211.18 419.07L211.18 419.17L211.19 419.26L211.19 419.36L211.19 419.46L211.20 419.55L211.20 419.65L211.20 419.75L211.20 419.84L211.19 419.94L211.19 420.03L211.18 420.13L211.15 420.22L211.12 420.31L211.07 420.40L210.99 420.48L210.87 420.56L210.70 420.64L210.44 420.70L210.09 420.75L209.63 420.78L209.06 420.80L208.40 420.80L207.70 420.80L207.03 420.81L206.44 420.82L205.96 420.85L205.59 420.90L205.32 420.96L205.13 421.03L205.01 421.11L204.92 421.19L204.86 421.28L204.83 421.37L204.81 421.46L204.79 421.56L204.79 421.65L204.78 421.75L204.78 421.85L204.78 421.94L204.78 422.04L204.79 422.13L204.79 422.23L204.80 422.33L204.80 422.42L204.80 422.52L204.81 422.62L204.81 422.71L204.82 422.81L204.82 422.91L204.83 423.00L204.83 423.10L204.84 423.20L204.85 423.29L204.85 423.39L204.86 423.49L204.86 423.58L204.87 423.68L204.87 423.78L204.88 423.87L204.88 423.97L204.89 424.07L204.89 424.16L204.90 424.26L204.90 424.36L204.91 424.45L204.92 424.55L204.92 424.65L204.93 424.74L204.93 424.84L204.94 424.94L204.94 425.03L204.95 425.13L204.96 425.23L204.96 425.32L204.97 425.42L204.97 425.52L204.98 425.61L204.99 425.71L205.00 425.81L205.00 425.90L205.01 426.00L205.03 426.10L205.04 426.20L205.06 426.30L205.09 426.40L205.13 426.50L205.18 426.60L205.26 426.71L205.36 426.82L205.52 426.93L205.75 427.06L206.06 427.20L206.48 427.35L207.01 427.52L207.65 427.70L208.34 427.89L209.05 428.09L209.69 428.27L210.24 428.44L210.67 428.59L210.99 428.73L211.23 428.86L211.39 428.98L211.50 429.09L211.58 429.20L211.64 429.30L211.68 429.40L211.70 429.50L211.73 429.60L211.74 429.70L211.75 429.80L211.77 429.89L211.77 429.99L211.78 430.09L211.79 430.18L211.80 430.28L211.80 430.38L211.81 430.48L211.82 430.57L211.82 430.67L211.83 430.77L211.84 430.86L211.84 430.96L211.85 431.06L211.86 431.15L211.86 431.25L211.87 431.35L211.87 431.44L211.88 431.54L211.89 431.64L211.89 431.73L211.90 431.83L211.90 431.93L211.91 432.02L211.92 432.12L211.92 432.22L211.93 432.31L211.93 432.41L211.94 432.51L211.95 432.60L211.95 432.70L211.96 432.80L211.97 432.89L211.97 432.99L211.98 433.08L211.98 433.18L211.99 433.28L212.00 433.37L212.00 433.47L212.01 433.57L212.01 433.66L212.02 433.76L212.02 433.86L212.02 433.95L212.02 434.05L212.02 434.14L212.01 434.24L212.00 434.33L211.98 434.43L211.95 434.52L211.89 434.61L211.81 434.69L211.68 434.77L211.50 434.84L211.24 434.90L210.87 434.95L210.39 434.98L209.81 434.99L209.13 435.00L208.44 435.00L207.78 435.00L207.20 435.02L206.74 435.05L206.39 435.10L206.14 435.16L205.96 435.23L205.84 435.31L205.77 435.40L205.72 435.49L205.68 435.58L205.67 435.67L205.65 435.77L205.65 435.86L205.65 435.96L205.65 436.05L205.65 436.15L205.66 436.25L205.66 436.34L205.67 436.44L205.67 436.53L205.68 436.63L205.68 436.73L205.69 436.82L205.70 436.92L205.70 437.02L205.71 437.11L205.72 437.21L205.72 437.31L205.73 437.40L205.74 437.50L205.74 437.60L205.75 437.69L205.76 437.79L205.76 437.89L205.77 437.98L205.78 438.08L205.78 438.18L205.79 438.27L205.80 438.37L205.80 438.47L205.81 438.56L205.82 438.66L205.83 438.76L205.83 438.85L205.84 438.95L205.85 439.05L205.85 439.14L205.86 439.24L205.87 439.34L205.87 439.43L205.88 439.53L205.89 439.63L205.90 439.72L205.91 439.82L205.91 439.92L205.92 440.02L205.93 440.11L205.95 440.21L205.96 440.31L205.98 440.41L206.00 440.50L206.03 440.60L206.08 440.71L206.14 440.81L206.22 440.92L206.35 441.03L206.53 441.15L206.78 441.28L207.13 441.42L207.59 441.58L208.16 441.76L208.82 441.94L209.53 442.13L210.23 442.32L210.85 442.50L211.35 442.67L211.75 442.82L212.04 442.95L212.25 443.08L212.39 443.19L212.49 443.30L212.57 443.41L212.62 443.51L212.65 443.61L212.68 443.71L212.70 443.81L212.71 443.91L212.73 444.00L212.74 444.10L212.75 444.20L212.76 444.30L212.77 444.39L212.78 444.49L212.78 444.59L212.79 444.68L212.80 444.78L212.81 444.88L212.81 444.97L212.82 445.07L212.83 445.17L212.84 445.26L212.84 445.36L212.85 445.46L212.86 445.55L212.87 445.65L212.87 445.75L212.88 445.84L212.89 445.94L212.90 446.04L212.90 446.13L212.91 446.23L212.92 446.33L212.93 446.42L212.93 446.52L212.94 446.62L212.95 446.71L212.96 446.81L212.96 446.91L212.97 447.00L212.98 447.10L212.99 447.20L212.99 447.29L213.00 447.39L213.01 447.49L213.01 447.58L213.02 447.68L213.03 447.78L213.03 447.87L213.04 447.97L213.04 448.06L213.04 448.16L213.05 448.26L213.04 448.35L213.04 448.45L213.02 448.54L213.00 448.63L212.95 448.72L212.89 448.81L212.79 448.89L212.64 448.97L212.41 449.03L212.10 449.08L211.68 449.12L211.14 449.14L210.51 449.15L209.82 449.15L209.13 449.16L208.51 449.17L207.99 449.19L207.59 449.23L207.29 449.29L207.08 449.36L206.94 449.43L206.85 449.51L206.79 449.60L206.75 449.69L206.73 449.78L206.71 449.88L206.71 449.97L206.71 450.07L206.71 450.16L206.71 450.26L206.72 450.36L206.72 450.45L206.73 450.55L206.73 450.65L206.74 450.74L206.75 450.84L206.76 450.94L206.76 451.03L206.77 451.13L206.78 451.23L206.79 451.32L206.79 451.42L206.80 451.52L206.81 451.61L206.82 451.71L206.83 451.81L206.83 451.90L206.84 452.00L206.85 452.10L206.86 452.19L206.87 452.29L206.87 452.39L206.88 452.48L206.89 452.58L206.90 452.68L206.91 452.77L206.91 452.87L206.92 452.97L206.93 453.06L206.94 453.16L206.95 453.26L206.95 453.35L206.96 453.45L206.97 453.55L206.98 453.64L206.99 453.74L207.00 453.84L207.01 453.93L207.02 454.03L207.03 454.13L207.04 454.22L207.05 454.32L207.06 454.42L207.08 454.52L207.10 454.61L207.13 454.71L207.17 454.82L207.23 454.92L207.31 455.02L207.42 455.14L207.58 455.25L207.81 455.38L208.12 455.52L208.55 455.67L209.09 455.84L209.73 456.02L210.44 456.22L211.15 456.41L211.80 456.59L212.34 456.76L212.77 456.92L213.09 457.06L213.32 457.18L213.49 457.30L213.60 457.41L213.68 457.52L213.74 457.62L213.78 457.72L213.81 457.82L213.83 457.92L213.85 458.02L213.86 458.12L213.88 458.21L213.89 458.31L213.90 458.41L213.91 458.50L213.92 458.60L213.93 458.70L213.94 458.79L213.95 458.89L213.95 458.99L213.96 459.08L213.97 459.18L213.98 459.28L213.99 459.37L214.00 459.47L214.00 459.57L214.01 459.66L214.02 459.76L214.03 459.86L214.04 459.95L214.05 460.05L214.06 460.15L214.06 460.24L214.07 460.34L214.08 460.44L214.09 460.53L214.10 460.63L214.11 460.73L214.11 460.82L214.12 460.92L214.13 461.02L214.14 461.11L214.15 461.21L214.16 461.31L214.16 461.40L214.17 461.50L214.18 461.60L214.19 461.69L214.20 461.79L214.20 461.89L214.21 461.98L214.22 462.08L214.22 462.18L214.23 462.27L214.23 462.37L214.23 462.46L214.22 462.56L214.21 462.65L214.19 462.74L214.15 462.83L214.09 462.92L213.99 463.00L213.85 463.08L213.64 463.15L213.34 463.20L212.94 463.24L212.42 463.27L211.79 463.28L211.10 463.28L210.41 463.28L209.78 463.29L209.25 463.31L208.83 463.35L208.52 463.40L208.31 463.47L208.16 463.55L208.06 463.63L208.00 463.71L207.96 463.80L207.94 463.90L207.92 463.99L207.92 464.08L207.92 464.18L207.92 464.28L207.92 464.37L207.93 464.47L207.93 464.56L207.94 464.66L207.95 464.76L207.96 464.85L207.96 464.95L207.97 465.05L207.98 465.14L207.99 465.24L208.00 465.34L208.01 465.43L208.02 465.53L208.02 465.63L208.03 465.72L208.04 465.82L208.05 465.92L208.06 466.01L208.07 466.11L208.08 466.21L208.09 466.30L208.10 466.40L208.10 466.50L208.11 466.59L208.12 466.69L208.13 466.79L208.14 466.88L208.15 466.98L208.16 467.08L208.17 467.17L208.18 467.27L208.18 467.37L208.19 467.46L208.20 467.56L208.21 467.66L208.22 467.75L208.23 467.85L208.24 467.95L208.25 468.04L208.26 468.14L208.27 468.24L208.28 468.33L208.30 468.43L208.31 468.53L208.33 468.63L208.36 468.73L208.39 468.83L208.43 468.93L208.48 469.03L208.56 469.14L208.68 469.25L208.84 469.36L209.07 469.49L209.40 469.63L209.83 469.79L210.37 469.96L211.02 470.14L211.73 470.33L212.44 470.52L213.09 470.71L213.63 470.88L214.06 471.03L214.37 471.17L214.60 471.30L214.76 471.41L214.88 471.52L214.95 471.63L215.01 471.73L215.05 471.83L215.08 471.93L215.10 472.03L215.12 472.13L215.14 472.23L215.15 472.32L215.16 472.42L215.18 472.52L215.19 472.62L215.20 472.71L215.21 472.81L215.22 472.91L215.23 473.00L215.24 473.10L215.24 473.20L215.25 473.29L215.26 473.39L215.27 473.49L215.28 473.58L215.29 473.68L215.30 473.78L215.31 473.87L215.32 473.97L215.33 474.07L215.34 474.16L215.35 474.26L215.36 474.36L215.36 474.45L215.37 474.55L215.38 474.65L215.39 474.74L215.40 474.84L215.41 474.94L215.42 475.03L215.43 475.13L215.44 475.23L215.45 475.32L215.46 475.42L215.47 475.52L215.47 475.61L215.48 475.71L215.49 475.81L215.50 475.90L215.51 476.00L215.52 476.09L215.52 476.19L215.53 476.29L215.53 476.38L215.54 476.48L215.54 476.57L215.53 476.67L215.52 476.76L215.49 476.85L215.45 476.94L215.38 477.03L215.28 477.11L215.13 477.19L214.90 477.25L214.58 477.30L214.15 477.34L213.61 477.36L212.96 477.37L212.26 477.37L211.58 477.37L210.97 477.38L210.46 477.41L210.07 477.45L209.79 477.51L209.59 477.58L209.46 477.65L209.37 477.74L209.31 477.82L209.28 477.91L209.26 478.01L209.25 478.10L209.24 478.20L209.24 478.29L209.25 478.39L209.25 478.48L209.26 478.58L209.27 478.68L209.27 478.77L209.28 478.87L209.29 478.97L209.30 479.06L209.31 479.16L209.32 479.26L209.33 479.35L209.34 479.45L209.35 479.54L209.36 479.64L209.37 479.74L209.37 479.83L209.38 479.93L209.39 480.03L209.40 480.12L209.41 480.22L209.42 480.32L209.43 480.41L209.44 480.51L209.45 480.61L209.46 480.70L209.47 480.80L209.48 480.90L209.49 480.99L209.50 481.09L209.51 481.19L209.52 481.28L209.53 481.38L209.54 481.48L209.55 481.57L209.56 481.67L209.57 481.77L209.58 481.86L209.59 481.96L209.60 482.06L209.61 482.16L209.62 482.25L209.63 482.35L209.65 482.45L209.66 482.54L209.68 482.64L209.70 482.74L209.73 482.84L209.76 482.94L209.81 483.04L209.87 483.14L209.96 483.25L210.10 483.37L210.28 483.49L210.55 483.62L210.91 483.76L211.39 483.92L211.98 484.10L212.67 484.29L213.39 484.48L214.08 484.67L214.69 484.85L215.19 485.01L215.57 485.16L215.85 485.29L216.05 485.42L216.18 485.53L216.28 485.64L216.35 485.74L216.40 485.85L216.44 485.95L216.46 486.05L216.49 486.14L216.50 486.24L216.52 486.34L216.53 486.44L216.55 486.53L216.56 486.63L216.57 486.73L216.58 486.82L216.59 486.92L216.60 487.02L216.61 487.11L216.62 487.21L216.63 487.31L216.64 487.40L216.65 487.50L216.66 487.60L216.67 487.69L216.68 487.79L216.69 487.89L216.70 487.98L216.71 488.08L216.72 488.18L216.73 488.27L216.74 488.37L216.75 488.47L216.76 488.56L216.77 488.66L216.78 488.76L216.79 488.85L216.80 488.95L216.81 489.05L216.82 489.14L216.83 489.24L216.84 489.34L216.85 489.43L216.86 489.53L216.87 489.63L216.87 489.72L216.88 489.82L216.89 489.92L216.90 490.01L216.91 490.11L216.92 490.21L216.93 490.30L216.93 490.40L216.94 490.49L216.94 490.59L216.93 490.68L216.92 490.78L216.91 490.87L216.87 490.96L216.82 491.05L216.74 491.13L216.61 491.21L216.42 491.28L216.14 491.34L215.76 491.38L215.26 491.41L214.66 491.42L213.97 491.42L213.27 491.42L212.62 491.43L212.07 491.45L211.63 491.49L211.30 491.54L211.07 491.60L210.91 491.67L210.81 491.76L210.74 491.84L210.70 491.93L210.68 492.02L210.66 492.12L210.66 492.21L210.66 492.31L210.66 492.40L210.67 492.50L210.67 492.59L210.68 492.69L210.69 492.79L210.70 492.88L210.71 492.98L210.72 493.08L210.72 493.17L210.73 493.27L210.74 493.37L210.75 493.46L210.76 493.56L210.77 493.66L210.78 493.75L210.79 493.85L210.80 493.95L210.81 494.04L210.82 494.14L210.83 494.24L210.84 494.33L210.85 494.43L210.86 494.53L210.87 494.62L210.88 494.72L210.89 494.82L210.90 494.91L210.91 495.01L210.92 495.11L210.93 495.20L210.94 495.30L210.96 495.40L210.97 495.49L210.98 495.59L210.99 495.69L211.00 495.78L211.01 495.88L211.02 495.98L211.03 496.07L211.04 496.17L211.05 496.27L211.06 496.36L211.08 496.46L211.09 496.56L211.11 496.66L211.13 496.75L211.15 496.85L211.19 496.95L211.23 497.05L211.29 497.16L211.37 497.26L211.50 497.38L211.67 497.49L211.91 497.62L212.25 497.76L212.70 497.92L213.26 498.09L213.93 498.28L214.65 498.47L215.35 498.66L215.99 498.85L216.52 499.01L216.93 499.16L217.23 499.30L217.45 499.43L217.60 499.54L217.71 499.65L217.78 499.76L217.84 499.86L217.88 499.96L217.91 500.06L217.93 500.16L217.95 500.26L217.97 500.35L217.98 500.45L217.99 500.55L218.01 500.64L218.02 500.74L218.03 500.84L218.04 500.93L218.05 501.03L218.06 501.13L218.07 501.23L218.08 501.32L218.09 501.42L218.10 501.52L218.11 501.61L218.12 501.71L218.13 501.81L218.14 501.90L218.15 502.00L218.16 502.10L218.17 502.19L218.18 502.29L218.20 502.38L218.21 502.48L218.22 502.58L218.23 502.67L218.24 502.77L218.25 502.87L218.26 502.96L218.27 503.06L218.28 503.16L218.29 503.25L218.30 503.35L218.31 503.45L218.32 503.54L218.33 503.64L218.34 503.74L218.35 503.83L218.36 503.93L218.37 504.03L218.38 504.12L218.38 504.22L218.39 504.32L218.40 504.41L218.40 504.51L218.40 504.60L218.40 504.70L218.39 504.79L218.38 504.89L218.35 504.98L218.30 505.07L218.22 505.15L218.09 505.23L217.91 505.30L217.64 505.36L217.27 505.40L216.78 505.43L216.18 505.44L215.50 505.45L214.80 505.45L214.14 505.45L213.58 505.47L213.13 505.50L212.80 505.55L212.56 505.62L212.40 505.69L212.29 505.77L212.22 505.86L212.18 505.95L212.15 506.04L212.14 506.13L212.14 506.23L212.13 506.32L212.14 506.42L212.14 506.51L212.15 506.61L212.16 506.71L212.17 506.80L212.18 506.90L212.19 506.99L212.20 507.09L212.21 507.19L212.22 507.28L212.23 507.38L212.24 507.48L212.25 507.57L212.26 507.67L212.27 507.77L212.28 507.86L212.29 507.96L212.30 508.06L212.31 508.15L212.32 508.25L212.33 508.35L212.34 508.44L212.35 508.54L212.36 508.64L212.37 508.73L212.38 508.83L212.39 508.93L212.40 509.02L212.41 509.12L212.42 509.22L212.43 509.31L212.44 509.41L212.45 509.51L212.46 509.60L212.48 509.70L212.49 509.80L212.50 509.89L212.51 509.99L212.52 510.09L212.53 510.18L212.54 510.28L212.56 510.38L212.57 510.48L212.59 510.57L212.60 510.67L212.62 510.77L212.65 510.87L212.68 510.97L212.73 511.07L212.79 511.17L212.88 511.28L213.00 511.39L213.18 511.51L213.43 511.64L213.78 511.78L214.24 511.94L214.81 512.11L215.49 512.30L216.21 512.50L216.91 512.69L217.54 512.87L218.06 513.03L218.46 513.18L218.76 513.32L218.97 513.44L219.11 513.56L219.22 513.67L219.29 513.77L219.34 513.87L219.38 513.98L219.41 514.07L219.43 514.17L219.45 514.27L219.47 514.37L219.48 514.47L219.50 514.56L219.51 514.66L219.52 514.76L219.53 514.85L219.54 514.95L219.56 515.05L219.57 515.14L219.58 515.24L219.59 515.34L219.60 515.43L219.61 515.53L219.62 515.63L219.63 515.72L219.64 515.82L219.65 515.92L219.66 516.01L219.67 516.11L219.68 516.21L219.69 516.30L219.70 516.40L219.71 516.50L219.73 516.59L219.74 516.69L219.75 516.79L219.76 516.88L219.77 516.98L219.78 517.08L219.79 517.17L219.80 517.27L219.81 517.37L219.82 517.46L219.83 517.56L219.84 517.66L219.85 517.75L219.86 517.85L219.87 517.95L219.88 518.04L219.89 518.14L219.90 518.23L219.91 518.33L219.91 518.43L219.92 518.52L219.92 518.62L219.91 518.71L219.90 518.81L219.89 518.90L219.85 518.99L219.79 519.08L219.71 519.16L219.57 519.24L219.37 519.30L219.07 519.36L218.67 519.40L218.15 519.43L217.53 519.44L216.84 519.44L216.14 519.44L215.50 519.44L214.96 519.47L214.55 519.50L214.24 519.56L214.03 519.62L213.88 519.70L213.79 519.78L213.73 519.87L213.69 519.96L213.67 520.05L213.66 520.15L213.65 520.24L213.66 520.34L213.66 520.43L213.67 520.53L213.67 520.62L213.68 520.72L213.69 520.82L213.70 520.91L213.71 521.01L213.72 521.11L213.73 521.20L213.74 521.30L213.75 521.40L213.76 521.49L213.77 521.59L213.78 521.69L213.79 521.78L213.80 521.88L213.81 521.98L213.82 522.07L213.84 522.17L213.85 522.27L213.86 522.36L213.87 522.46L213.88 522.56L213.89 522.65L213.90 522.75L213.91 522.85L213.92 522.94L213.93 523.04L213.94 523.14L213.95 523.23L213.96 523.33L213.97 523.43L213.99 523.52L214.00 523.62L214.01 523.72L214.02 523.81L214.03 523.91L214.04 524.01L214.05 524.10L214.06 524.20L214.08 524.30L214.09 524.39L214.10 524.49L214.12 524.59L214.14 524.69L214.16 524.78L214.19 524.88L214.23 524.98L214.28 525.09L214.35 525.19L214.45 525.30L214.60 525.41L214.80 525.54L215.09 525.67L215.49 525.82L216.00 525.99L216.62 526.17L217.33 526.36L218.05 526.55L218.73 526.74L219.32 526.91L219.78 527.07L220.14 527.22L220.39 527.35L220.57 527.47L220.70 527.58L220.79 527.69L220.85 527.79L220.90 527.89L220.93 527.99L220.96 528.09L220.98 528.19L221.00 528.29L221.01 528.38L221.03 528.48L221.04 528.58L221.05 528.67L221.06 528.77L221.07 528.87L221.09 528.96L221.10 529.06L221.11 529.16L221.12 529.25L221.13 529.35L221.14 529.45L221.15 529.54L221.16 529.64L221.17 529.74L221.18 529.83L221.19 529.93L221.21 530.03L221.22 530.12L221.23 530.22L221.24 530.32L221.25 530.41L221.26 530.51L221.27 530.61L221.28 530.70L221.29 530.80L221.30 530.90L221.31 530.99L221.32 531.09L221.33 531.19L221.34 531.28L221.35 531.38L221.37 531.48L221.38 531.57L221.39 531.67L221.40 531.77L221.41 531.86L221.42 531.96L221.43 532.06L221.44 532.15L221.44 532.25L221.45 532.35L221.46 532.44L221.46 532.54L221.46 532.63L221.45 532.73L221.44 532.82L221.41 532.91L221.36 533.00L221.29 533.09L221.17 533.16L221.00 533.24L220.75 533.30L220.39 533.34L219.92 533.37L219.33 533.39L218.66 533.39L217.95 533.39L217.28 533.40L216.70 533.41L216.24 533.44L215.89 533.49L215.64 533.55L215.48 533.62L215.36 533.70L215.29 533.79L215.25 533.88L215.22 533.97L215.21 534.06L215.20 534.16L215.20 534.25L215.20 534.35L215.21 534.45L215.22 534.54L215.22 534.64L215.23 534.73L215.24 534.83L215.25 534.93L215.26 535.02L215.27 535.12L215.28 535.22L215.29 535.31L215.31 535.41L215.32 535.51L215.33 535.60L215.34 535.70L215.35 535.80L215.36 535.89L215.37 535.99L215.38 536.09L215.39 536.18L215.40 536.28L215.41 536.38L215.42 536.47L215.43 536.57L215.45 536.67L215.46 536.76L215.47 536.86L215.48 536.96L215.49 537.05L215.50 537.15L215.51 537.25L215.52 537.34L215.53 537.44L215.54 537.54L215.55 537.63L215.57 537.73L215.58 537.83L215.59 537.92L215.60 538.02L215.61 538.12L215.62 538.21L215.64 538.31L215.65 538.41L215.67 538.51L215.69 538.60L215.71 538.70L215.74 538.80L215.77 538.90L215.82 539.00L215.88 539.11L215.98 539.21L216.11 539.33L216.30 539.45L216.57 539.58L216.94 539.73L217.42 539.89L218.02 540.06L218.72 540.25L219.44 540.45L220.14 540.64L220.75 540.82L221.25 540.98L221.62 541.13L221.90 541.26L222.09 541.38L222.23 541.49L222.33 541.60L222.39 541.71L222.44 541.81L222.48 541.91L222.51 542.01L222.53 542.11L222.55 542.20L222.56 542.30L222.58 542.40L222.59 542.49L222.60 542.59L222.62 542.69L222.63 542.79L222.64 542.88L222.65 542.98L222.66 543.08L222.67 543.17L222.68 543.27L222.69 543.37L222.71 543.46L222.72 543.56L222.73 543.66L222.74 543.75L222.75 543.85L222.76 543.95L222.77 544.04L222.78 544.14L222.79 544.24L222.80 544.33L222.81 544.43L222.82 544.53L222.84 544.62L222.85 544.72L222.86 544.82L222.87 544.91L222.88 545.01L222.89 545.11L222.90 545.20L222.91 545.30L222.92 545.40L222.93 545.49L222.94 545.59L222.95 545.69L222.96 545.78L222.97 545.88L222.98 545.97L222.99 546.07L223.00 546.17L223.01 546.26L223.01 546.36L223.02 546.46L223.02 546.55L223.01 546.64L223.00 546.74L222.97 546.83L222.93 546.92L222.86 547.00L222.74 547.08L222.57 547.16L222.33 547.22L221.98 547.27L221.51 547.30L220.93 547.31L220.26 547.32L219.55 547.32L218.88 547.32L218.29 547.33L217.82 547.36L217.47 547.41L217.21 547.47L217.04 547.54L216.93 547.62L216.85 547.71L216.81 547.80L216.78 547.89L216.77 547.98L216.76 548.08L216.76 548.17L216.76 548.27L216.77 548.36L216.78 548.46L216.79 548.56L216.79 548.65L216.80 548.75L216.81 548.85L216.82 548.94L216.83 549.04L216.85 549.13L216.86 549.23L216.87 549.33L216.88 549.42L216.89 549.52L216.90 549.62L216.91 549.71L216.92 549.81L216.93 549.91L216.94 550.00L216.95 550.10L216.96 550.20L216.97 550.29L216.99 550.39L217.00 550.49L217.01 550.58L217.02 550.68L217.03 550.78L217.04 550.87L217.05 550.97L217.06 551.07L217.07 551.16L217.08 551.26L217.10 551.36L217.11 551.45L217.12 551.55L217.13 551.65L217.14 551.74L217.15 551.84L217.16 551.94L217.18 552.03L217.19 552.13L217.20 552.23L217.22 552.33L217.23 552.42L217.25 552.52L217.27 552.62L217.30 552.72L217.34 552.82L217.39 552.92L217.45 553.02L217.55 553.13L217.69 553.25L217.89 553.37L218.16 553.50L218.55 553.65L219.04 553.81L219.66 553.99L220.36 554.18L221.09 554.38L221.78 554.57L222.38 554.74L222.86 554.90L223.23 555.05L223.49 555.18L223.68 555.30L223.81 555.41L223.90 555.52L223.97 555.63L224.01 555.73L224.05 555.83L224.07 555.93L224.10 556.02L224.11 556.12L224.13 556.22L224.14 556.32L224.16 556.41L224.17 556.51L224.18 556.61L224.19 556.70L224.21 556.80L224.22 556.90L224.23 556.99L224.24 557.09L224.25 557.19L224.26 557.28L224.27 557.38L224.28 557.48L224.29 557.57L224.31 557.67L224.32 557.77L224.33 557.86L224.34 557.96L224.35 558.06L224.36 558.15L224.37 558.25L224.38 558.35L224.39 558.44L224.40 558.54L224.41 558.64L224.43 558.73L224.44 558.83L224.45 558.93L224.46 559.02L224.47 559.12L224.48 559.22L224.49 559.31L224.50 559.41L224.51 559.51L224.52 559.60L224.53 559.70L224.54 559.80L224.55 559.89L224.56 559.99L224.57 560.09L224.58 560.18L224.58 560.28L224.58 560.37L224.58 560.47L224.58 560.56L224.56 560.65L224.53 560.75L224.48 560.83L224.40 560.92L224.27 561.00L224.08 561.07L223.81 561.12L223.43 561.17L222.93 561.19L222.32 561.21L221.63 561.21L220.92 561.21L220.27 561.21L219.71 561.23L219.27 561.27L218.95 561.32L218.72 561.38L218.57 561.46L218.47 561.54L218.40 561.62L218.37 561.71L218.34 561.81L218.33 561.90L218.33 561.99L218.33 562.09L218.33 562.18L218.34 562.28L218.35 562.38L218.36 562.47L218.37 562.57L218.38 562.67L218.39 562.76L218.40 562.86L218.41 562.96L218.42 563.05L218.43 563.15L218.44 563.25L218.45 563.34L218.46 563.44L218.47 563.54L218.48 563.63L218.49 563.73L218.50 563.83L218.51 563.92L218.53 564.02L218.54 564.12L218.55 564.21L218.56 564.31L218.57 564.41L218.58 564.50L218.59 564.60L218.60 564.70L218.61 564.79L218.62 564.89L218.63 564.99L218.65 565.08L218.66 565.18L218.67 565.28L218.68 565.37L218.69 565.47L218.70 565.57L218.71 565.66L218.73 565.76L218.74 565.86L218.75 565.95L218.76 566.05L218.78 566.15L218.79 566.24L218.81 566.34L218.83 566.44L218.85 566.54L218.88 566.64L218.93 566.74L218.98 566.84L219.06 566.95L219.17 567.06L219.34 567.17L219.57 567.30L219.89 567.44L220.32 567.59L220.87 567.77L221.53 567.95L222.26 568.14L222.98 568.34L223.63 568.52L224.18 568.69L224.61 568.85L224.93 568.98L225.15 569.11L225.31 569.23L225.43 569.34L225.50 569.44L225.56 569.55L225.60 569.65L225.63 569.75L225.65 569.84L225.67 569.94L225.69 570.04L225.71 570.14L225.72 570.23L225.73 570.33L225.75 570.43L225.76 570.52L225.77 570.62L225.78 570.72L225.79 570.81L225.80 570.91L225.81 571.01L225.83 571.10L225.84 571.20L225.85 571.30L225.86 571.39L225.87 571.49L225.88 571.59L225.89 571.68L225.90 571.78L225.91 571.88L225.93 571.97L225.94 572.07L225.95 572.17L225.96 572.26L225.97 572.36L225.98 572.46L225.99 572.55L226.00 572.65L226.01 572.75L226.02 572.84L226.03 572.94L226.05 573.04L226.06 573.13L226.07 573.23L226.08 573.33L226.09 573.42L226.10 573.52L226.11 573.62L226.12 573.71L226.13 573.81L226.14 573.91L226.14 574.00L226.15 574.10L226.15 574.19L226.15 574.29L226.15 574.38L226.14 574.48L226.11 574.57L226.07 574.66L226.01 574.75L225.90 574.83L225.74 574.90L225.50 574.96L225.17 575.01L224.71 575.04L224.14 575.06L223.47 575.07L222.76 575.06L222.08 575.07L221.48 575.08L221.00 575.11L220.63 575.15L220.37 575.21L220.19 575.28L220.07 575.36L220.00 575.45L219.95 575.54L219.92 575.63L219.91 575.72L219.90 575.82L219.90 575.91L219.90 576.01L219.91 576.10L219.92 576.20L219.92 576.29L219.93 576.39L219.94 576.49L219.95 576.58L219.96 576.68L219.97 576.78L219.99 576.87L220.00 576.97L220.01 577.07L220.02 577.16L220.03 577.26L220.04 577.36L220.05 577.45L220.06 577.55L220.07 577.65L220.08 577.74L220.09 577.84L220.11 577.94L220.12 578.03L220.13 578.13L220.14 578.23L220.15 578.32L220.16 578.42L220.17 578.52L220.18 578.61L220.19 578.71L220.20 578.81L220.22 578.90L220.23 579.00L220.24 579.10L220.25 579.19L220.26 579.29L220.27 579.39L220.28 579.48L220.29 579.58L220.31 579.68L220.32 579.77L220.33 579.87L220.35 579.97L220.36 580.07L220.38 580.16L220.40 580.26L220.42 580.36L220.45 580.46L220.49 580.56L220.54 580.66L220.61 580.77L220.72 580.88L220.87 580.99L221.08 581.11L221.38 581.25L221.78 581.40L222.31 581.57L222.95 581.75L223.67 581.94L224.40 582.14L225.07 582.33L225.65 582.50L226.10 582.66L226.44 582.80L226.69 582.93L226.86 583.04L226.98 583.16L227.06 583.26L227.12 583.37L227.17 583.47L227.20 583.57L227.22 583.67L227.25 583.76L227.26 583.86L227.28 583.96L227.29 584.06L227.31 584.15L227.32 584.25L227.33 584.35L227.34 584.44L227.35 584.54L227.37 584.64L227.38 584.73L227.39 584.83L227.40 584.93L227.41 585.02L227.42 585.12L227.43 585.22L227.44 585.31L227.45 585.41L227.47 585.51L227.48 585.60L227.49 585.70L227.50 585.80L227.51 585.89L227.52 585.99L227.53 586.09L227.54 586.18L227.55 586.28L227.56 586.38L227.58 586.47L227.59 586.57L227.60 586.67L227.61 586.76L227.62 586.86L227.63 586.96L227.64 587.05L227.65 587.15L227.66 587.25L227.67 587.34L227.68 587.44L227.69 587.54L227.70 587.63L227.71 587.73L227.72 587.82L227.73 587.92L227.73 588.02L227.73 588.11L227.73 588.21L227.72 588.30L227.69 588.39L227.65 588.48L227.59 588.57L227.48 588.65L227.33 588.72L227.10 588.79L226.77 588.84L226.32 588.87L225.75 588.89L225.09 588.89L224.38 588.89L223.69 588.89L223.08 588.90L222.59 588.93L222.22 588.98L221.95 589.04L221.77 589.11L221.65 589.19L221.58 589.27L221.53 589.36L221.50 589.45L221.48 589.54L221.48 589.64L221.48 589.73L221.48 589.83L221.49 589.92L221.49 590.02L221.50 590.12L221.51 590.21L221.52 590.31L221.53 590.41L221.54 590.50L221.55 590.60L221.56 590.70L221.57 590.79L221.58 590.89L221.60 590.99L221.61 591.08L221.62 591.18L221.63 591.28L221.64 591.37L221.65 591.47L221.66 591.57L221.67 591.66L221.68 591.76L221.69 591.86L221.71 591.95L221.72 592.05L221.73 592.15L221.74 592.24L221.75 592.34L221.76 592.44L221.77 592.53L221.78 592.63L221.79 592.73L221.81 592.82L221.82 592.92L221.83 593.02L221.84 593.11L221.85 593.21L221.86 593.31L221.87 593.40L221.89 593.50L221.90 593.60L221.91 593.69L221.93 593.79L221.94 593.89L221.96 593.98L221.98 594.08L222.00 594.18L222.03 594.28L222.07 594.38L222.13 594.48L222.20 594.59L222.31 594.70L222.46 594.81L222.68 594.94L222.99 595.08L223.41 595.23L223.96 595.40L224.61 595.58L225.33 595.78L226.06 595.97L226.73 596.16L227.29 596.33L227.73 596.48L228.06 596.62L228.29 596.75L228.46 596.87L228.57 596.98L228.65 597.09L228.71 597.19L228.75 597.29L228.78 597.39L228.81 597.49L228.83 597.58L228.85 597.68L228.86 597.78L228.88 597.88L228.89 597.97L228.90 598.07L228.91 598.17L228.93 598.26L228.94 598.36L228.95 598.46L228.96 598.55L228.97 598.65L228.98 598.75L228.99 598.84L229.01 598.94L229.02 599.04L229.03 599.13L229.04 599.23L229.05 599.33L229.06 599.42L229.07 599.52L229.08 599.62L229.09 599.71L229.11 599.81L229.12 599.91L229.13 600.00L229.14 600.10L229.15 600.20L229.16 600.29L229.17 600.39L229.18 600.49L229.19 600.58L229.21 600.68L229.22 600.78L229.23 600.87L229.24 600.97L229.25 601.07L229.26 601.16L229.27 601.26L229.28 601.36L229.29 601.45L229.30 601.55L229.31 601.65L229.31 601.74L229.32 601.84L229.32 601.93L229.31 602.03L229.30 602.12L229.27 602.21L229.22 602.30L229.15 602.39L229.04 602.46L228.86 602.54L228.60 602.60L228.24 602.64L227.76 602.67L227.17 602.69L226.48 602.69L225.77 602.69L225.10 602.69L224.52 602.70L224.06 602.74L223.72 602.79L223.48 602.85L223.32 602.92L223.21 603.00L223.15 603.09L223.10 603.18L223.08 603.27L223.07 603.36L223.06 603.46L223.06 603.55L223.07 603.65L223.08 603.74L223.08 603.84L223.09 603.94L223.10 604.03L223.11 604.13L223.12 604.23L223.13 604.32L223.14 604.42L223.15 604.52L223.17 604.61L223.18 604.71L223.19 604.81L223.20 604.90L223.21 605.00L223.22 605.10L223.23 605.19L223.24 605.29L223.25 605.39L223.27 605.48L223.28 605.58L223.29 605.68L223.30 605.77L223.31 605.87L223.32 605.97L223.33 606.06L223.34 606.16L223.36 606.26L223.37 606.35L223.38 606.45L223.39 606.55L223.40 606.64L223.41 606.74L223.42 606.84L223.44 606.93L223.45 607.03L223.46 607.13L223.47 607.22L223.48 607.32L223.50 607.42L223.51 607.51L223.52 607.61L223.54 607.71L223.56 607.81L223.58 607.90L223.61 608.00L223.64 608.10L223.68 608.20L223.75 608.31L223.83 608.41L223.96 608.53L224.14 608.65L224.40 608.78L224.75 608.92L225.23 609.08L225.82 609.26L226.51 609.45L227.25 609.64L227.96 609.83L228.59 610.01L229.10 610.18L229.49 610.33L229.77 610.46L229.97 610.58L230.11 610.70L230.21 610.81L230.28 610.91L230.33 611.01L230.36 611.11L230.39 611.21L230.41 611.31L230.43 611.41L230.45 611.50L230.46 611.60L230.48 611.70L230.49 611.80L230.50 611.89L230.52 611.99L230.53 612.09L230.54 612.18L230.55 612.28L230.56 612.38L230.57 612.47L230.59 612.57L230.60 612.67L230.61 612.76L230.62 612.86L230.63 612.96L230.64 613.05L230.65 613.15L230.66 613.25L230.68 613.34L230.69 613.44L230.70 613.54L230.71 613.63L230.72 613.73L230.73 613.83L230.74 613.92L230.76 614.02L230.77 614.12L230.78 614.21L230.79 614.31L230.80 614.41L230.81 614.50L230.82 614.60L230.83 614.70L230.84 614.79L230.86 614.89L230.87 614.98L230.88 615.08L230.89 615.18L230.90 615.27L230.90 615.37L230.91 615.47L230.92 615.56L230.92 615.66L230.91 615.75L230.90 615.85L230.88 615.94L230.85 616.03L230.79 616.12L230.69 616.20L230.54 616.27L230.32 616.34L230.01 616.39L229.58 616.43L229.02 616.45L228.36 616.45L227.65 616.45L226.96 616.45L226.33 616.46L225.83 616.49L225.44 616.53L225.17 616.59L224.98 616.65L224.85 616.73L224.77 616.82L224.72 616.91L224.69 617.00L224.68 617.09L224.67 617.18L224.67 617.28L224.67 617.37L224.68 617.47L224.69 617.57L224.70 617.66L224.71 617.76L224.72 617.86L224.73 617.95L224.74 618.05L224.75 618.14L224.76 618.24L224.77 618.34L224.78 618.43L224.79 618.53L224.80 618.63L224.81 618.72L224.83 618.82L224.84 618.92L224.85 619.01L224.86 619.11L224.87 619.21L224.88 619.30L224.89 619.40L224.91 619.50L224.92 619.59L224.93 619.69L224.94 619.79L224.95 619.88L224.96 619.98L224.97 620.08L224.99 620.17L225.00 620.27L225.01 620.37L225.02 620.46L225.03 620.56L225.04 620.66L225.06 620.75L225.07 620.85L225.08 620.95L225.09 621.04L225.11 621.14L225.12 621.24L225.13 621.34L225.15 621.43L225.17 621.53L225.19 621.63L225.21 621.73L225.24 621.83L225.29 621.93L225.34 622.03L225.43 622.14L225.54 622.25L225.71 622.36L225.94 622.49L226.27 622.63L226.72 622.79L227.29 622.96L227.96 623.15L228.69 623.34L229.42 623.54L230.07 623.72L230.61 623.89L231.03 624.04L231.33 624.18L231.55 624.30L231.70 624.42L231.81 624.53L231.88 624.63L231.94 624.74L231.98 624.84L232.01 624.94L232.03 625.03L232.05 625.13L232.07 625.23L232.08 625.33L232.10 625.42L232.11 625.52L232.12 625.62L232.13 625.71L232.15 625.81L232.16 625.91L232.17 626.00L232.18 626.10L232.19 626.20L232.21 626.29L232.22 626.39L232.23 626.49L232.24 626.58L232.25 626.68L232.26 626.78L232.28 626.87L232.29 626.97L232.30 627.07L232.31 627.16L232.32 627.26L232.33 627.36L232.35 627.45L232.36 627.55L232.37 627.65L232.38 627.74L232.39 627.84L232.40 627.94L232.41 628.03L232.43 628.13L232.44 628.23L232.45 628.32L232.46 628.42L232.47 628.52L232.48 628.61L232.49 628.71L232.50 628.81L232.51 628.90L232.52 629.00L232.53 629.10L232.54 629.19L232.55 629.29L232.55 629.38L232.55 629.48L232.54 629.57L232.52 629.66L232.48 629.75L232.43 629.84L232.33 629.92L232.19 630.00L231.98 630.07L231.67 630.12L231.25 630.16L230.70 630.18L230.05 630.18L229.34 630.18L228.64 630.18L228.01 630.19L227.49 630.21L227.10 630.26L226.82 630.31L226.62 630.38L226.49 630.46L226.41 630.54L226.36 630.63L226.33 630.72L226.31 630.81L226.31 630.91L226.31 631.00L226.31 631.10L226.32 631.19L226.32 631.29L226.33 631.39L226.34 631.48L226.35 631.58L226.37 631.68L226.38 631.77L226.39 631.87L226.40 631.97L226.41 632.06L226.42 632.16L226.43 632.26L226.44 632.35L226.46 632.45L226.47 632.55L226.48 632.64L226.49 632.74L226.50 632.84L226.51 632.93L226.53 633.03L226.54 633.13L226.55 633.22L226.56 633.32L226.57 633.42L226.59 633.51L226.60 633.61L226.61 633.71L226.62 633.80L226.63 633.90L226.64 634.00L226.66 634.09L226.67 634.19L226.68 634.29L226.69 634.38L226.70 634.48L226.72 634.58L226.73 634.67L226.74 634.77L226.76 634.87L226.77 634.96L226.78 635.06L226.80 635.16L226.82 635.25L226.84 635.35L226.87 635.45L226.90 635.55L226.94 635.65L227.00 635.76L227.08 635.86L227.20 635.97L227.38 636.09L227.62 636.22L227.96 636.36L228.42 636.52L229.00 636.69L229.68 636.88L230.42 637.08L231.14 637.27L231.78 637.45L232.31 637.62L232.72 637.77L233.02 637.91L233.23 638.03L233.37 638.14L233.48 638.25L233.55 638.36L233.60 638.46L233.64 638.56L233.67 638.66L233.69 638.76L233.71 638.86L233.73 638.95L233.74 639.05L233.76 639.15L233.77 639.24L233.79 639.34L233.80 639.44L233.81 639.53L233.82 639.63L233.84 639.73L233.85 639.82L233.86 639.92L233.87 640.02L233.88 640.11L233.90 640.21L233.91 640.31L233.92 640.40L233.93 640.50L233.94 640.60L233.96 640.69L233.97 640.79L233.98 640.89L233.99 640.98L234.00 641.08L234.02 641.18L234.03 641.27L234.04 641.37L234.05 641.47L234.06 641.56L234.08 641.66L234.09 641.76L234.10 641.85L234.11 641.95L234.12 642.05L234.13 642.14L234.15 642.24L234.16 642.34L234.17 642.43L234.18 642.53L234.19 642.63L234.20 642.72L234.21 642.82L234.22 642.92L234.22 643.01L234.22 643.11L234.22 643.20L234.21 643.29L234.19 643.39L234.15 643.48L234.09 643.56L233.98 643.64L233.83 643.72L233.59 643.78L233.26 643.83L232.80 643.86L232.23 643.88L231.55 643.88L230.84 643.88L230.15 643.88L229.54 643.89L229.06 643.92L228.70 643.97L228.44 644.03L228.27 644.10L228.15 644.18L228.08 644.26L228.03 644.35L228.01 644.44L228.00 644.54L227.99 644.63L227.99 644.73L228.00 644.82L228.01 644.92L228.01 645.02L228.02 645.11L228.03 645.21L228.05 645.30L228.06 645.40L228.07 645.50L228.08 645.59L228.09 645.69L228.10 645.79L228.12 645.88L228.13 645.98L228.14 646.08L228.15 646.17L228.16 646.27L228.18 646.37L228.19 646.46L228.20 646.56L228.21 646.66L228.23 646.75L228.24 646.85L228.25 646.95L228.26 647.04L228.27 647.14L228.29 647.24L228.30 647.33L228.31 647.43L228.32 647.53L228.34 647.62L228.35 647.72L228.36 647.82L228.37 647.91L228.38 648.01L228.40 648.11L228.41 648.20L228.42 648.30L228.44 648.40L228.45 648.49L228.46 648.59L228.48 648.69L228.49 648.79L228.51 648.88L228.53 648.98L228.55 649.08L228.58 649.18L228.62 649.28L228.67 649.38L228.74 649.48L228.83 649.59L228.97 649.71L229.17 649.83" fill="none" stroke="#0072BD" stroke-width="3.15" stroke-linejoin="round" stroke-linecap="butt"/>
<path d="M629.31 46.00L629.59 46.18L629.86 46.37L630.13 46.55L630.38 46.72L630.62 46.90L630.85 47.07L631.06 47.23L631.26 47.39L631.43 47.54L631.59 47.69L631.73 47.83L631.85 47.96L631.96 48.09L632.04 48.22L632.11 48.34L632.17 48.45L632.21 48.56L632.24 48.67L632.27 48.77L632.28 48.87L632.29 48.97L632.29 49.06L632.29 49.16L632.28 49.26L632.28 49.35L632.27 49.44L632.26 49.54L632.26 49.63L632.25 49.73L632.24 49.82L632.23 49.91L632.22 50.01L632.20 50.10L632.18 50.19L632.16 50.27L632.12 50.36L632.08 50.44L632.02 50.52L631.96 50.60L631.88 50.67L631.78 50.73L631.67 50.79L631.54 50.85L631.39 50.90L631.22 50.94L631.04 50.97L630.83 51.01L630.62 51.03L630.38 51.05L630.13 51.07L629.87 51.08L629.60 51.09L629.32 51.10L629.03 51.11L628.74 51.11L628.45 51.11L628.16 51.12L627.88 51.12L627.60 51.13L627.33 51.14L627.07 51.16L626.82 51.18L626.59 51.20L626.37 51.23L626.17 51.26L625.99 51.30L625.83 51.35L625.68 51.40L625.55 51.45L625.44 51.51L625.35 51.58L625.27 51.65L625.20 51.73L625.15 51.81L625.10 51.89L625.07 51.98L625.04 52.07L625.03 52.16L625.01 52.25L625.00 52.34L624.99 52.44L624.98 52.53L624.97 52.63L624.97 52.72L624.96 52.82L624.96 52.91L624.95 53.00L624.94 53.10L624.94 53.20L624.94 53.29L624.95 53.39L624.96 53.49L624.98 53.59L625.01 53.70L625.05 53.81L625.10 53.92L625.16 54.04L625.24 54.16L625.34 54.29L625.45 54.42L625.58 54.55L625.73 54.69L625.89 54.84L626.07 54.99L626.27 55.15L626.49 55.31L626.71 55.48L626.96 55.65L627.21 55.82L627.47 56.00L627.73 56.18L628.01 56.36L628.28 56.54L628.55 56.72L628.82 56.90L629.09 57.07L629.34 57.25L629.59 57.42L629.83 57.59L630.05 57.75L630.26 57.91L630.45 58.06L630.62 58.21L630.78 58.36L630.92 58.49L631.04 58.63L631.15 58.75L631.24 58.88L631.31 58.99L631.37 59.11L631.42 59.22L631.46 59.32L631.48 59.43L631.50 59.53L631.51 59.63L631.51 59.72L631.51 59.82L631.51 59.91L631.51 60.01L631.50 60.10L631.50 60.19L631.49 60.29L631.48 60.38L631.48 60.47L631.47 60.57L631.46 60.66L631.45 60.75L631.43 60.84L631.41 60.93L631.39 61.02L631.36 61.11L631.32 61.19L631.26 61.27L631.20 61.34L631.12 61.42L631.03 61.48L630.92 61.55L630.80 61.61L630.66 61.66L630.50 61.71L630.33 61.75L630.14 61.79L629.93 61.82L629.71 61.85L629.48 61.88L629.23 61.90L628.97 61.92L628.70 61.94L628.43 61.95L628.15 61.96L627.86 61.98L627.58 61.99L627.30 62.00L627.03 62.02L626.76 62.03L626.50 62.05L626.25 62.07L626.02 62.10L625.79 62.13L625.59 62.17L625.40 62.21L625.22 62.25L625.07 62.30L624.93 62.36L624.80 62.42L624.70 62.48L624.60 62.55L624.53 62.62L624.46 62.70L624.41 62.78L624.37 62.87L624.33 62.95L624.31 63.04L624.29 63.13L624.27 63.22L624.26 63.32L624.25 63.41L624.25 63.51L624.24 63.60L624.23 63.70L624.23 63.79L624.22 63.88L624.22 63.98L624.21 64.07L624.21 64.17L624.21 64.27L624.21 64.36L624.22 64.46L624.23 64.56L624.26 64.67L624.29 64.77L624.33 64.88L624.38 64.99L624.45 65.11L624.53 65.23L624.63 65.35L624.74 65.48L624.87 65.61L625.01 65.75L625.17 65.89L625.35 66.04L625.54 66.19L625.75 66.35L625.97 66.50L626.20 66.67L626.45 66.83L626.70 67.00L626.96 67.17L627.22 67.34L627.49 67.51L627.76 67.69L628.02 67.86L628.28 68.03L628.53 68.19L628.78 68.36L629.01 68.52L629.24 68.68L629.44 68.84L629.64 68.99L629.82 69.13L629.98 69.27L630.13 69.41L630.26 69.54L630.37 69.67L630.47 69.79L630.55 69.91L630.62 70.03L630.67 70.14L630.72 70.24L630.75 70.35L630.78 70.45L630.79 70.55L630.80 70.65L630.81 70.74L630.81 70.84L630.80 70.93L630.80 71.03L630.80 71.12L630.79 71.21L630.79 71.31L630.78 71.40L630.77 71.49L630.77 71.59L630.76 71.68L630.75 71.77L630.74 71.86L630.72 71.95L630.70 72.04L630.67 72.13L630.63 72.21L630.59 72.30L630.53 72.37L630.46 72.45L630.38 72.52L630.28 72.59L630.17 72.66L630.04 72.71L629.90 72.77L629.74 72.82L629.57 72.87L629.38 72.91L629.17 72.95L628.95 72.98L628.72 73.01L628.47 73.04L628.22 73.07L627.96 73.09L627.69 73.11L627.42 73.13L627.14 73.15L626.87 73.17L626.60 73.19L626.33 73.22L626.07 73.24L625.82 73.27L625.58 73.30L625.35 73.33L625.13 73.36L624.93 73.41L624.74 73.45L624.57 73.50L624.42 73.55L624.28 73.61L624.15 73.67L624.04 73.74L623.95 73.81L623.87 73.88L623.81 73.96L623.75 74.04L623.71 74.13L623.67 74.21L623.64 74.30L623.62 74.39L623.61 74.48L623.59 74.58L623.58 74.67L623.58 74.76L623.57 74.86L623.57 74.95L623.56 75.05L623.55 75.14L623.55 75.24L623.55 75.33L623.54 75.43L623.54 75.52L623.54 75.62L623.55 75.72L623.56 75.81L623.57 75.91L623.59 76.02L623.62 76.12L623.67 76.23L623.72 76.34L623.78 76.45L623.86 76.57L623.96 76.69L624.06 76.81L624.19 76.94L624.33 77.08L624.48 77.21L624.65 77.35L624.84 77.50L625.04 77.65L625.25 77.80L625.47 77.96L625.71 78.11L625.95 78.27L626.21 78.44L626.46 78.60L626.72 78.76L626.98 78.93L627.24 79.09L627.50 79.25L627.75 79.42L627.99 79.58L628.23 79.73L628.45 79.89L628.66 80.04L628.86 80.19L629.05 80.33L629.22 80.47L629.37 80.60L629.51 80.74L629.64 80.86L629.74 80.99L629.84 81.10L629.92 81.22L629.98 81.33L630.04 81.44L630.08 81.55L630.11 81.65L630.13 81.75L630.15 81.85L630.16 81.95L630.17 82.04L630.17 82.14L630.17 82.23L630.16 82.33L630.16 82.42L630.16 82.51L630.15 82.61L630.15 82.70L630.14 82.79L630.13 82.89L630.13 82.98L630.12 83.07L630.11 83.16L630.09 83.25L630.08 83.34L630.05 83.43L630.02 83.52L629.98 83.60L629.93 83.69L629.87 83.76L629.80 83.84L629.71 83.91L629.61 83.98L629.50 84.05L629.37 84.11L629.22 84.17L629.06 84.22L628.89 84.27L628.70 84.32L628.49 84.36L628.28 84.40L628.05 84.44L627.81 84.47L627.56 84.50L627.30 84.53L627.04 84.56L626.77 84.59L626.51 84.62L626.24 84.64L625.98 84.67L625.72 84.70L625.46 84.73L625.22 84.77L624.98 84.80L624.76 84.84L624.54 84.88L624.35 84.93L624.16 84.98L623.99 85.03L623.84 85.09L623.70 85.15L623.57 85.21L623.46 85.28L623.37 85.35L623.29 85.43L623.22 85.51L623.16 85.59L623.12 85.67L623.08 85.76L623.05 85.85L623.03 85.94L623.01 86.03L622.99 86.12L622.98 86.21L622.98 86.31L622.97 86.40L622.97 86.50L622.96 86.59L622.96 86.68L622.95 86.78L622.95 86.87L622.94 86.97L622.94 87.06L622.94 87.16L622.94 87.26L622.95 87.35L622.96 87.45L622.98 87.55L623.00 87.65L623.03 87.76L623.07 87.86L623.13 87.97L623.19 88.08L623.27 88.20L623.36 88.32L623.47 88.44L623.59 88.56L623.72 88.69L623.87 88.82L624.04 88.96L624.22 89.10L624.41 89.24L624.62 89.39L624.84 89.54L625.07 89.69L625.30 89.84L625.55 89.99L625.80 90.15L626.05 90.31L626.31 90.46L626.56 90.62L626.81 90.78L627.06 90.93L627.30 91.09L627.54 91.24L627.76 91.39L627.98 91.53L628.18 91.68L628.37 91.82L628.55 91.95L628.71 92.09L628.85 92.22L628.98 92.34L629.10 92.47L629.20 92.58L629.29 92.70L629.36 92.81L629.42 92.92L629.47 93.03L629.51 93.13L629.54 93.23L629.57 93.33L629.58 93.43L629.59 93.53L629.60 93.62L629.60 93.72L629.60 93.81L629.59 93.91L629.59 94.00L629.59 94.09L629.58 94.19L629.58 94.28L629.57 94.37L629.57 94.47L629.56 94.56L629.56 94.65L629.55 94.74L629.53 94.84L629.52 94.93L629.49 95.02L629.46 95.10L629.43 95.19L629.38 95.27L629.33 95.35L629.26 95.43L629.18 95.51L629.09 95.58L628.98 95.65L628.86 95.72L628.72 95.78L628.57 95.84L628.41 95.89L628.23 95.95L628.04 96.00L627.83 96.04L627.61 96.09L627.39 96.13L627.15 96.17L626.90 96.21L626.65 96.24L626.39 96.28L626.13 96.31L625.87 96.35L625.61 96.38L625.35 96.42L625.10 96.45L624.85 96.49L624.61 96.53L624.38 96.57L624.17 96.62L623.96 96.67L623.77 96.72L623.59 96.77L623.43 96.83L623.28 96.89L623.14 96.96L623.02 97.02L622.92 97.10L622.83 97.17L622.75 97.25L622.68 97.33L622.62 97.41L622.58 97.50L622.54 97.58L622.51 97.67L622.49 97.76L622.47 97.85L622.46 97.95L622.45 98.04L622.44 98.13L622.44 98.23L622.43 98.32L622.43 98.42L622.42 98.51L622.42 98.61L622.42 98.70L622.41 98.79L622.41 98.89L622.41 98.99L622.41 99.08L622.42 99.18L622.43 99.28L622.44 99.37L622.46 99.47L622.49 99.58L622.53 99.68L622.57 99.79L622.63 99.89L622.70 100.00L622.78 100.12L622.88 100.24L622.99 100.36L623.11 100.48L623.25 100.60L623.41 100.73L623.58 100.87L623.76 101.00L623.95 101.14L624.16 101.28L624.38 101.42L624.60 101.57L624.84 101.72L625.08 101.87L625.33 102.02L625.58 102.17L625.83 102.32L626.08 102.47L626.33 102.61L626.57 102.76L626.81 102.91L627.04 103.06L627.26 103.20L627.47 103.34L627.67 103.48L627.86 103.61L628.03 103.74L628.19 103.87L628.33 104.00L628.46 104.12L628.58 104.24L628.68 104.36L628.77 104.47L628.85 104.58L628.91 104.69L628.96 104.80L629.00 104.90L629.03 105.00L629.06 105.10L629.07 105.20L629.09 105.29L629.09 105.39L629.10 105.48L629.10 105.58L629.09 105.67L629.09 105.77L629.09 105.86L629.08 105.95L629.08 106.05L629.08 106.14L629.07 106.23L629.07 106.33L629.06 106.42L629.05 106.51L629.04 106.60L629.03 106.70L629.01 106.79L628.99 106.87L628.96 106.96L628.92 107.05L628.87 107.13L628.81 107.21L628.74 107.29L628.66 107.37L628.56 107.44L628.45 107.51L628.33 107.58L628.19 107.65L628.04 107.71L627.88 107.77L627.70 107.83L627.51 107.88L627.30 107.93L627.09 107.98L626.86 108.03L626.62 108.07L626.38 108.12L626.13 108.16L625.88 108.20L625.62 108.24L625.36 108.28L625.11 108.32L624.86 108.37L624.61 108.41L624.37 108.45L624.13 108.50L623.91 108.55L623.69 108.60L623.49 108.65L623.30 108.71L623.13 108.77L622.97 108.83L622.82 108.89L622.68 108.96L622.56 109.03L622.46 109.10L622.37 109.18L622.29 109.26L622.22 109.34L622.16 109.42L622.12 109.51L622.08 109.60L622.05 109.69L622.03 109.78L622.01 109.87L621.99 109.96L621.98 110.05L621.98 110.15L621.97 110.24L621.97 110.34L621.96 110.43L621.96 110.53L621.96 110.62L621.95 110.72L621.95 110.81L621.95 110.90L621.95 111.00L621.95 111.10L621.95 111.19L621.96 111.29L621.97 111.39L621.99 111.48L622.01 111.58L622.04 111.69L622.09 111.79L622.14 111.90L622.20 112.00L622.27 112.11L622.36 112.23L622.46 112.34L622.58 112.46L622.70 112.58L622.85 112.70L623.00 112.83L623.17 112.96L623.36 113.09L623.55 113.22L623.76 113.36L623.98 113.50L624.20 113.64L624.44 113.78L624.68 113.92L624.92 114.07L625.17 114.21L625.42 114.35L625.67 114.50L625.91 114.64L626.15 114.78L626.39 114.92L626.61 115.06L626.83 115.20L627.04 115.33L627.24 115.47L627.42 115.60L627.59 115.72L627.75 115.85L627.89 115.97L628.02 116.09L628.14 116.21L628.24 116.32L628.32 116.43L628.40 116.54L628.46 116.65L628.52 116.75L628.56 116.85L628.59 116.96L628.62 117.05L628.63 117.15L628.65 117.25L628.65 117.34L628.66 117.44L628.66 117.53L628.66 117.63L628.66 117.72L628.65 117.81L628.65 117.91L628.65 118.00L628.65 118.09L628.64 118.19L628.64 118.28L628.63 118.37L628.63 118.47L628.62 118.56L628.61 118.65L628.59 118.74L628.57 118.83L628.54 118.92L628.50 119.01L628.46 119.09L628.41 119.18L628.34 119.26L628.27 119.34L628.18 119.42L628.08 119.49L627.97 119.56L627.84 119.63L627.70 119.70L627.54 119.76L627.37 119.83L627.19 119.89L626.99 119.94L626.78 120.00L626.57 120.05L626.34 120.10L626.10 120.15L625.86 120.20L625.61 120.25L625.36 120.30L625.11 120.35L624.85 120.39L624.60 120.44L624.35 120.49L624.11 120.54L623.87 120.59L623.65 120.64L623.43 120.70L623.22 120.75L623.02 120.81L622.84 120.87L622.67 120.94L622.51 121.00L622.37 121.07L622.24 121.14L622.13 121.22L622.03 121.29L621.94 121.37L621.86 121.45L621.80 121.54L621.75 121.62L621.70 121.71L621.67 121.80L621.64 121.89L621.62 121.98L621.60 122.07L621.59 122.17L621.58 122.26L621.57 122.35L621.57 122.45L621.56 122.54L621.56 122.64L621.56 122.73L621.55 122.83L621.55 122.92L621.55 123.01L621.55 123.11L621.55 123.20L621.55 123.30L621.55 123.40L621.56 123.49L621.57 123.59L621.59 123.69L621.61 123.79L621.65 123.89L621.69 123.99L621.74 124.09L621.80 124.20L621.87 124.31L621.96 124.42L622.06 124.53L622.17 124.65L622.29 124.76L622.43 124.88L622.59 125.00L622.75 125.13L622.93 125.26L623.13 125.38L623.33 125.52L623.55 125.65L623.77 125.78L624.00 125.92L624.24 126.05L624.48 126.19L624.73 126.33L624.97 126.47L625.22 126.60L625.46 126.74L625.70 126.88L625.94 127.01L626.17 127.15L626.39 127.28L626.60 127.41L626.79 127.54L626.98 127.66L627.16 127.79L627.32 127.91L627.46 128.03L627.60 128.15L627.72 128.26L627.82 128.37L627.92 128.48L627.99 128.59L628.06 128.70L628.12 128.80L628.17 128.90L628.20 129.00L628.23 129.10L628.25 129.20L628.27 129.29L628.28 129.39L628.28 129.48L628.29 129.58L628.29 129.67L628.29 129.77L628.28 129.86L628.28 129.95L628.28 130.05L628.28 130.14L628.27 130.23L628.27 130.33L628.27 130.42L628.26 130.51L628.25 130.61L628.24 130.70L628.23 130.79L628.21 130.88L628.19 130.97L628.16 131.06L628.12 131.15L628.07 131.23L628.02 131.32L627.95 131.40L627.87 131.48L627.78 131.56L627.67 131.64L627.55 131.71L627.42 131.78L627.28 131.85L627.12 131.92L626.94 131.98L626.76 132.05L626.56 132.11L626.35 132.17L626.13 132.23L625.90 132.28L625.66 132.34L625.42 132.39L625.17 132.45L624.92 132.50L624.67 132.55L624.42 132.61L624.17 132.66L623.93 132.72L623.69 132.77L623.45 132.83L623.23 132.89L623.02 132.95L622.81 133.01L622.62 133.07L622.44 133.14L622.28 133.21L622.13 133.28L621.99 133.35L621.87 133.42L621.75 133.50L621.66 133.58L621.57 133.66L621.50 133.75L621.44 133.83L621.39 133.92L621.35 134.01L621.31 134.10L621.29 134.19L621.27 134.28L621.25 134.37L621.24 134.46L621.23 134.56L621.23 134.65L621.22 134.75L621.22 134.84L621.22 134.94L621.21 135.03L621.21 135.12L621.21 135.22L621.21 135.31L621.21 135.41L621.21 135.50L621.21 135.60L621.21 135.69L621.22 135.79L621.24 135.89L621.25 135.99L621.28 136.08L621.31 136.18L621.35 136.29L621.41 136.39L621.47 136.49L621.54 136.60L621.63 136.71L621.73 136.82L621.84 136.93L621.97 137.05L622.11 137.16L622.27 137.28L622.43 137.40L622.61 137.52L622.81 137.65L623.01 137.77L623.23 137.90L623.45 138.03L623.68 138.16L623.92 138.29L624.16 138.42L624.41 138.55L624.65 138.69L624.90 138.82L625.14 138.95L625.38 139.08L625.62 139.21L625.84 139.34L626.06 139.46L626.27 139.59L626.47 139.71L626.66 139.84L626.83 139.96L626.99 140.07L627.14 140.19L627.27 140.30L627.39 140.42L627.50 140.52L627.59 140.63L627.67 140.74L627.74 140.84L627.80 140.94L627.84 141.04L627.88 141.14L627.91 141.24L627.93 141.34L627.95 141.44L627.96 141.53L627.97 141.63L627.97 141.72L627.97 141.81L627.97 141.91L627.97 142.00L627.97 142.09L627.96 142.19L627.96 142.28L627.96 142.37L627.96 142.47L627.95 142.56L627.95 142.65L627.94 142.75L627.93 142.84L627.92 142.93L627.90 143.02L627.88 143.11L627.85 143.20L627.81 143.29L627.77 143.38L627.71 143.46L627.64 143.55L627.57 143.63L627.47 143.71L627.37 143.79L627.25 143.87L627.12 143.94L626.98 144.01L626.82 144.09L626.65 144.16L626.46 144.22L626.27 144.29L626.06 144.35L625.84 144.42L625.61 144.48L625.37 144.54L625.13 144.60L624.89 144.66L624.64 144.72L624.38 144.78L624.13 144.84L623.89 144.90L623.64 144.96L623.40 145.02L623.17 145.08L622.95 145.14L622.73 145.21L622.53 145.27L622.34 145.34L622.16 145.41L621.99 145.48L621.84 145.56L621.70 145.63L621.58 145.71L621.47 145.79L621.37 145.87L621.28 145.95L621.21 146.04L621.15 146.13L621.10 146.21L621.06 146.30L621.02 146.39L621.00 146.48L620.98 146.58L620.96 146.67L620.95 146.76L620.94 146.86L620.94 146.95L620.93 147.05L620.93 147.14L620.93 147.23L620.93 147.33L620.92 147.42L620.92 147.52L620.92 147.61L620.92 147.71L620.92 147.80L620.92 147.90L620.93 147.99L620.94 148.09L620.95 148.19L620.97 148.28L620.99 148.38L621.03 148.48L621.07 148.58L621.12 148.68L621.18 148.79L621.26 148.89L621.35 149.00L621.45 149.10L621.56 149.21L621.69 149.33L621.83 149.44L621.98 149.55L622.15 149.67L622.33 149.79L622.53 149.91L622.73 150.03L622.95 150.15L623.17 150.28L623.40 150.40L623.64 150.53L623.89 150.65L624.13 150.78L624.38 150.90L624.63 151.03L624.87 151.16L625.11 151.28L625.35 151.41L625.58 151.53L625.80 151.65L626.01 151.77L626.20 151.89L626.39 152.01L626.57 152.13L626.73 152.24L626.87 152.36L627.01 152.47L627.13 152.58L627.23 152.69L627.33 152.79L627.41 152.90L627.47 153.00L627.53 153.10L627.58 153.20L627.61 153.30L627.64 153.40L627.67 153.49L627.68 153.59L627.69 153.68L627.70 153.78L627.70 153.87L627.70 153.97L627.70 154.06L627.70 154.16L627.70 154.25L627.70 154.34L627.70 154.44L627.69 154.53L627.69 154.62L627.69 154.72L627.68 154.81L627.68 154.90L627.67 155.00L627.65 155.09L627.64 155.18L627.61 155.27L627.58 155.36L627.54 155.45L627.50 155.54L627.44 155.63L627.37 155.71L627.29 155.80L627.20 155.88L627.09 155.96L626.97 156.04L626.84 156.11L626.69 156.19L626.53 156.26L626.35 156.34L626.16 156.41L625.96 156.47L625.75 156.54L625.53 156.61L625.30 156.67L625.06 156.74L624.81 156.80L624.57 156.86L624.31 156.93L624.06 156.99L623.81 157.05L623.56 157.11L623.32 157.18L623.08 157.24L622.85 157.31L622.63 157.38L622.41 157.44L622.21 157.51L622.03 157.58L621.85 157.66L621.69 157.73L621.54 157.81L621.41 157.88L621.29 157.96L621.18 158.04L621.09 158.13L621.01 158.21L620.94 158.30L620.88 158.38L620.83 158.47L620.79 158.56L620.76 158.65L620.74 158.75L620.72 158.84L620.71 158.93L620.70 159.02L620.69 159.12L620.69 159.21L620.69 159.31L620.68 159.40L620.68 159.49L620.68 159.59L620.68 159.68L620.68 159.78L620.68 159.87L620.68 159.97L620.68 160.06L620.68 160.15L620.69 160.25L620.70 160.35L620.72 160.44L620.74 160.54L620.77 160.64L620.81 160.74L620.86 160.84L620.92 160.94L620.99 161.04L621.07 161.15L621.16 161.25L621.27 161.36L621.40 161.47L621.53 161.58L621.68 161.69L621.85 161.81L622.03 161.92L622.22 162.04L622.42 162.16L622.64 162.28L622.86 162.40L623.09 162.52L623.33 162.65L623.57 162.77L623.82 162.90L624.07 163.02L624.32 163.14L624.57 163.27L624.81 163.39L625.05 163.52L625.29 163.64L625.51 163.76L625.72 163.88L625.93 164.00L626.12 164.11L626.30 164.23L626.46 164.34L626.62 164.46L626.75 164.57L626.88 164.68L626.99 164.78L627.08 164.89L627.17 164.99L627.24 165.09L627.30 165.20L627.34 165.30L627.38 165.39L627.41 165.49L627.44 165.59L627.45 165.68L627.46 165.78L627.47 165.87L627.48 165.97L627.48 166.06L627.48 166.16L627.48 166.25L627.48 166.34L627.47 166.44L627.47 166.53L627.47 166.63L627.47 166.72L627.47 166.81L627.46 166.91L627.45 167.00L627.45 167.09L627.43 167.19L627.41 167.28L627.39 167.37L627.36 167.46L627.32 167.55L627.27 167.64L627.21 167.72L627.14 167.81L627.06 167.89L626.96 167.98L626.85 168.06L626.73 168.14L626.59 168.21L626.44 168.29L626.28 168.36L626.10 168.44L625.90 168.51L625.70 168.58L625.48 168.65L625.26 168.72L625.02 168.78L624.78 168.85L624.53 168.91L624.28 168.98L624.02 169.04L623.77 169.11L623.52 169.17L623.27 169.24L623.02 169.30L622.78 169.37L622.55 169.44L622.33 169.51L622.12 169.57L621.93 169.65L621.74 169.72L621.57 169.79L621.41 169.87L621.27 169.95L621.14 170.03L621.02 170.11L620.92 170.19L620.84 170.27L620.76 170.36L620.70 170.45L620.64 170.54L620.60 170.63L620.57 170.72L620.54 170.81L620.52 170.90L620.51 170.99L620.50 171.09L620.49 171.18L620.48 171.27L620.48 171.37L620.48 171.46L620.48 171.56L620.48 171.65L620.47 171.74L620.47 171.84L620.47 171.93L620.47 172.03L620.47 172.12L620.48 172.22L620.48 172.31L620.49 172.41L620.51 172.50L620.53 172.60L620.56 172.70L620.60 172.80L620.64 172.90L620.70 173.00L620.77 173.10L620.85 173.20L620.95 173.31L621.06 173.41L621.18 173.52L621.32 173.63L621.47 173.74L621.64 173.86L621.82 173.97L622.01 174.09L622.21 174.21L622.43 174.32L622.66 174.44L622.89 174.56L623.14 174.69L623.38 174.81L623.64 174.93L623.89 175.05L624.14 175.18L624.39 175.30L624.64 175.42L624.88 175.54L625.12 175.66L625.34 175.78L625.56 175.90L625.76 176.02L625.96 176.13L626.14 176.25L626.30 176.36L626.45 176.47L626.59 176.58L626.71 176.69L626.82 176.79L626.91 176.90L626.99 177.00L627.06 177.10L627.12 177.20L627.17 177.30L627.20 177.40L627.23 177.49L627.25 177.59L627.27 177.69L627.28 177.78L627.28 177.88L627.29 177.97L627.29 178.06L627.29 178.16L627.29 178.25L627.28 178.35L627.28 178.44L627.28 178.53L627.28 178.63L627.28 178.72L627.27 178.81L627.27 178.91L627.26 179.00L627.25 179.09L627.23 179.19L627.21 179.28L627.18 179.37L627.15 179.46L627.10 179.55L627.04 179.63L626.98 179.72L626.90 179.81L626.80 179.89L626.69 179.97L626.57 180.05L626.44 180.13L626.29 180.21L626.12 180.29L625.94 180.36L625.75 180.43L625.54 180.51L625.32 180.58L625.10 180.64L624.86 180.71L624.61 180.78L624.36 180.85L624.11 180.91L623.85 180.98L623.59 181.05L623.33 181.11L623.08 181.18L622.83 181.25L622.59 181.32L622.36 181.38L622.13 181.46L621.92 181.53L621.72 181.60L621.54 181.67L621.36 181.75L621.21 181.83L621.06 181.91L620.94 181.99L620.82 182.07L620.72 182.15L620.64 182.24L620.56 182.32L620.50 182.41L620.45 182.50L620.41 182.59L620.38 182.68L620.35 182.77L620.34 182.87L620.32 182.96L620.31 183.05L620.31 183.15L620.30 183.24L620.30 183.33L620.30 183.43L620.30 183.52L620.30 183.62L620.30 183.71L620.29 183.81L620.29 183.90L620.30 183.99L620.30 184.09L620.30 184.18L620.31 184.28L620.33 184.38L620.35 184.47L620.37 184.57L620.41 184.67L620.45 184.77L620.51 184.87L620.58 184.97L620.66 185.07L620.75 185.17L620.86 185.28L620.98 185.39L621.12 185.50L621.27 185.61L621.44 185.72L621.62 185.83L621.81 185.95L622.02 186.06L622.24 186.18L622.47 186.30L622.71 186.42L622.96 186.54L623.21 186.66L623.46 186.78L623.72 186.90L623.98 187.02L624.24 187.14L624.49 187.26L624.73 187.38L624.97 187.50L625.20 187.62L625.42 187.73L625.63 187.85L625.82 187.96L626.00 188.07L626.17 188.18L626.32 188.29L626.45 188.40L626.57 188.51L626.68 188.61L626.77 188.72L626.85 188.82L626.91 188.92L626.97 189.02L627.01 189.12L627.05 189.21L627.07 189.31L627.09 189.41L627.10 189.50L627.11 189.60L627.12 189.69L627.12 189.78L627.12 189.88L627.12 189.97L627.12 190.07L627.12 190.16L627.12 190.25L627.11 190.35L627.11 190.44L627.11 190.54L627.10 190.63L627.10 190.72L627.09 190.81L627.07 190.91L627.05 191.00L627.02 191.09L626.99 191.18L626.94 191.27L626.89 191.36L626.82 191.44L626.74 191.53L626.65 191.62L626.54 191.70L626.42 191.78L626.28 191.86L626.13 191.94L625.96 192.02L625.77 192.09L625.58 192.17L625.37 192.24L625.14 192.31L624.91 192.38L624.67 192.45L624.42 192.52L624.16 192.59L623.90 192.66L623.64 192.72L623.37 192.79L623.11 192.86L622.85 192.93L622.60 193.00L622.36 193.07L622.12 193.14L621.90 193.21L621.69 193.28L621.49 193.36L621.31 193.44L621.14 193.51L620.98 193.59L620.84 193.67L620.72 193.75L620.61 193.84L620.52 193.92L620.44 194.01L620.37 194.10L620.31 194.19L620.27 194.28L620.23 194.37L620.20 194.46L620.18 194.55L620.17 194.64L620.16 194.74L620.15 194.83L620.15 194.93L620.14 195.02L620.14 195.11L620.14 195.21L620.14 195.30L620.14 195.40L620.14 195.49L620.14 195.58L620.14 195.68L620.14 195.77L620.15 195.87L620.16 195.96L620.17 196.06L620.19 196.16L620.22 196.25L620.26 196.35L620.30 196.45L620.36 196.55L620.43 196.65L620.51 196.75L620.61 196.86L620.73 196.96L620.85 197.07L621.00 197.18L621.16 197.29L621.33 197.40L621.52 197.51L621.73 197.62L621.94 197.74L622.17 197.85L622.41 197.97L622.66 198.09L622.91 198.21L623.17 198.33L623.44 198.45L623.70 198.57L623.96 198.68L624.22 198.80L624.48 198.92L624.72 199.04L624.96 199.16L625.19 199.27L625.41 199.39L625.61 199.50L625.80 199.61L625.97 199.72L626.13 199.83L626.27 199.94L626.40 200.04L626.51 200.15L626.61 200.25L626.69 200.35L626.76 200.45L626.81 200.55L626.86 200.65L626.89 200.75L626.92 200.84L626.94 200.94L626.95 201.03L626.96 201.13L626.97 201.22L626.97 201.32L626.97 201.41L626.97 201.51L626.97 201.60L626.97 201.69L626.96 201.79L626.96 201.88L626.96 201.97L626.96 202.07L626.95 202.16L626.94 202.25L626.93 202.35L626.92 202.44L626.89 202.53L626.86 202.62L626.82 202.71L626.77 202.80L626.71 202.89L626.63 202.98L626.54 203.06L626.44 203.15L626.32 203.23L626.19 203.31L626.04 203.39L625.87 203.47L625.69 203.55L625.49 203.62L625.28 203.70L625.05 203.77L624.82 203.84L624.57 203.91L624.32 203.99L624.05 204.06L623.79 204.13L623.52 204.19L623.25 204.26L622.98 204.33L622.72 204.40L622.46 204.47L622.21 204.55L621.97 204.62L621.74 204.69L621.53 204.77L621.32 204.84L621.14 204.92L620.96 205.00L620.81 205.08L620.67 205.16L620.55 205.24L620.44 205.33L620.35 205.41L620.27 205.50L620.20 205.59L620.15 205.68L620.11 205.77L620.07 205.86L620.05 205.95L620.03 206.05L620.02 206.14L620.01 206.23L620.00 206.33L620.00 206.42L620.00 206.52L620.00 206.61L620.00 206.70L619.99 206.80L619.99 206.89L619.99 206.99L619.99 207.08L620.00 207.18L620.00 207.27L620.01 207.37L620.02 207.46L620.04 207.56L620.07 207.65L620.11 207.75L620.15 207.85L620.21 207.95L620.28 208.05L620.37 208.15L620.47 208.26L620.59 208.36L620.72 208.47L620.87 208.57L621.03 208.68L621.21 208.79L621.41 208.90L621.62 209.02L621.85 209.13L622.08 209.24L622.33 209.36L622.59 209.48L622.85 209.59L623.12 209.71L623.39 209.83L623.66 209.95L623.93 210.06L624.19 210.18L624.45 210.30L624.70 210.41L624.94 210.53L625.17 210.64L625.38 210.75L625.58 210.87L625.77 210.98L625.93 211.08L626.08 211.19L626.22 211.30L626.34 211.40L626.44 211.50L626.53 211.61L626.60 211.71L626.66 211.80L626.71 211.90L626.75 212.00L626.78 212.10L626.80 212.19L626.81 212.29L626.82 212.38L626.82 212.48L626.83 212.57L626.83 212.66L626.83 212.76L626.83 212.85L626.82 212.94L626.82 213.04L626.82 213.13L626.82 213.23L626.82 213.32L626.81 213.41L626.80 213.51L626.79 213.60L626.77 213.69L626.74 213.78L626.70 213.87L626.66 213.96L626.60 214.05L626.53 214.14L626.45 214.23L626.35 214.31L626.23 214.40L626.10 214.48L625.95 214.56L625.79 214.64L625.61 214.72L625.41 214.80L625.19 214.87L624.97 214.95L624.73 215.02L624.48 215.10L624.21 215.17L623.95 215.24L623.67 215.31L623.40 215.38L623.12 215.45L622.85 215.52L622.57 215.60L622.31 215.67L622.05 215.74L621.81 215.82L621.57 215.89L621.35 215.97L621.15 216.04L620.96 216.12L620.79 216.20L620.63 216.28L620.49 216.37L620.37 216.45L620.27 216.54L620.18 216.62L620.10 216.71L620.04 216.80L619.99 216.89L619.95 216.98L619.92 217.07L619.90 217.17L619.88 217.26L619.87 217.35L619.87 217.45L619.86 217.54L619.86 217.63L619.86 217.73L619.86 217.82L619.85 217.92L619.85 218.01L619.85 218.11L619.85 218.20L619.85 218.29L619.86 218.39L619.87 218.48L619.88 218.58L619.90 218.68L619.93 218.77L619.97 218.87L620.02 218.97L620.08 219.07L620.15 219.17L620.24 219.27L620.35 219.37L620.47 219.48L620.61 219.58L620.77 219.69L620.94 219.80L621.13 219.91L621.34 220.02L621.56 220.13L621.80 220.24L622.05 220.36L622.31 220.47L622.57 220.59L622.85 220.70L623.12 220.82L623.40 220.93L623.68 221.05L623.95 221.17L624.22 221.28L624.48 221.39L624.73 221.51L624.97 221.62L625.19 221.73L625.40 221.84L625.59 221.95L625.77 222.06L625.93 222.17L626.07 222.27L626.19 222.37L626.30 222.48L626.39 222.58L626.46 222.68L626.52 222.78L626.57 222.87L626.61 222.97L626.64 223.07L626.66 223.16L626.67 223.26L626.68 223.35L626.68 223.45L626.69 223.54L626.69 223.63L626.69 223.73L626.68 223.82L626.68 223.91L626.68 224.01L626.68 224.10L626.68 224.20L626.67 224.29L626.66 224.38L626.65 224.48L626.63 224.57L626.61 224.66L626.58 224.75L626.53 224.84L626.48 224.93L626.41 225.02L626.33 225.11L626.23 225.19L626.11 225.28L625.98 225.36L625.83 225.45L625.66 225.53L625.47 225.61L625.27 225.68L625.05 225.76L624.82 225.84L624.57 225.91L624.31 225.99L624.04 226.06L623.76 226.13L623.48 226.21L623.19 226.28L622.91 226.35L622.63 226.43L622.35 226.50L622.08 226.57L621.82 226.65L621.57 226.72L621.34 226.80L621.12 226.88L620.91 226.96L620.73 227.04L620.56 227.12L620.41 227.20L620.28 227.29L620.16 227.37L620.06 227.46L619.98 227.55L619.91 227.64L619.86 227.73L619.82 227.82L619.78 227.91L619.76 228.00L619.74 228.10L619.73 228.19L619.72 228.28L619.72 228.38L619.72 228.47L619.72 228.57L619.71 228.66L619.71 228.75L619.71 228.85L619.71 228.94L619.71 229.04L619.71 229.13L619.72 229.23L619.73 229.32L619.75 229.42L619.77 229.51L619.80 229.61L619.84 229.71L619.90 229.81L619.97 229.90L620.05 230.00L620.15 230.11L620.27 230.21L620.41 230.31L620.56 230.42L620.73 230.52L620.93 230.63L621.13 230.74L621.36 230.85L621.60 230.96L621.85 231.08L622.12 231.19L622.39 231.30L622.67 231.42L622.96 231.53L623.24 231.65L623.53 231.76L623.81 231.88L624.09 231.99L624.36 232.10L624.61 232.22L624.86 232.33L625.08 232.44L625.30 232.55L625.49 232.66L625.67 232.76L625.83 232.87L625.97 232.97L626.09 233.08L626.19 233.18L626.28 233.28L626.35 233.38L626.41 233.48L626.45 233.57L626.48 233.67L626.51 233.77L626.52 233.86L626.53 233.96L626.54 234.05L626.54 234.14L626.54 234.24L626.54 234.33L626.54 234.43L626.54 234.52L626.54 234.61L626.54 234.71L626.53 234.80L626.53 234.90L626.52 234.99L626.51 235.08L626.49 235.18L626.46 235.27L626.43 235.36L626.38 235.45L626.32 235.54L626.25 235.63L626.16 235.72L626.06 235.80L625.93 235.89L625.79 235.97L625.63 236.05L625.45 236.14L625.25 236.21L625.03 236.29L624.80 236.37L624.55 236.45L624.29 236.52L624.01 236.60L623.73 236.67L623.44 236.74L623.15 236.82L622.85 236.89L622.56 236.96L622.27 237.03L621.99 237.11L621.72 237.18L621.46 237.26L621.22 237.33L620.99 237.41L620.78 237.49L620.59 237.57L620.41 237.65L620.26 237.73L620.12 237.82L620.00 237.90L619.90 237.99L619.82 238.08L619.75 238.17L619.70 238.26L619.66 238.35L619.63 238.44L619.61 238.53L619.59 238.63L619.58 238.72L619.57 238.81L619.57 238.91L619.57 239.00L619.57 239.10L619.56 239.19L619.56 239.28L619.56 239.38L619.56 239.47L619.56 239.57L619.57 239.66L619.58 239.76L619.59 239.85L619.61 239.95L619.65 240.04L619.69 240.14L619.74 240.24L619.81 240.34L619.90 240.44L620.00 240.54L620.13 240.64L620.27 240.75L620.43 240.85L620.61 240.96L620.81 241.07L621.03 241.18L621.26 241.29L621.51 241.40L621.78 241.52L622.05 241.63L622.34 241.74L622.63 241.86L622.93 241.97L623.22 242.09L623.52 242.21L623.81 242.32L624.09 242.44L624.36 242.55L624.61 242.66L624.85 242.77L625.08 242.88L625.28 242.99L625.47 243.10L625.64 243.21L625.79 243.31L625.92 243.41L626.03 243.52L626.12 243.62L626.19 243.72L626.25 243.82L626.30 243.91L626.33 244.01L626.36 244.11L626.37 244.20L626.38 244.30L626.39 244.39L626.39 244.48L626.39 244.58L626.39 244.67L626.39 244.77L626.39 244.86L626.38 244.95L626.38 245.05L626.38 245.14L626.37 245.24L626.36 245.33L626.35 245.42L626.32 245.51L626.29 245.61L626.25 245.70L626.19 245.79L626.12 245.88L626.03 245.96L625.93 246.05L625.80 246.14L625.66 246.22L625.50 246.30L625.31 246.38L625.11 246.46L624.89 246.54L624.65 246.62L624.39 246.69L624.12 246.77L623.83 246.84L623.54 246.91L623.24 246.98L622.94 247.06L622.63 247.13L622.33 247.20L622.04 247.27L621.75 247.35L621.47 247.42L621.21 247.50L620.96 247.57L620.74 247.65L620.53 247.73L620.34 247.81L620.17 247.89L620.02 247.97L619.89 248.06L619.78 248.15L619.69 248.23L619.61 248.32L619.56 248.41L619.51 248.50L619.48 248.59L619.45 248.69L619.43 248.78L619.42 248.87L619.42 248.97L619.41 249.06L619.41 249.15L619.41 249.25L619.41 249.34L619.40 249.44L619.40 249.53L619.40 249.62L619.41 249.72L619.41 249.81L619.42 249.91L619.44 250.00L619.46 250.10L619.50 250.20L619.55 250.29L619.61 250.39L619.69 250.49L619.79 250.59L619.91 250.70L620.04 250.80L620.20 250.91L620.38 251.01L620.58 251.12L620.80 251.23L621.04 251.34L621.29 251.46L621.57 251.57L621.85 251.68L622.14 251.80L622.44 251.92L622.75 252.03L623.06 252.15L623.36 252.26L623.66 252.38L623.95 252.49L624.22 252.61L624.49 252.72" fill="none" stroke="#77AC30" stroke-width="3.30" stroke-linejoin="round" stroke-linecap="butt"/>
<path d="M592.07 441.14L592.43 441.33L592.81 441.53L593.19 441.74L593.59 441.95L594.00 442.17L594.41 442.39L594.82 442.61L595.24 442.83L595.65 443.06L596.06 443.29L596.46 443.51L596.86 443.74L597.24 443.96L597.61 444.18L597.97 444.40L598.31 444.61L598.63 444.82L598.94 445.03L599.23 445.23L599.49 445.43L599.74 445.62L599.97 445.81L600.18 445.99L600.36 446.16L600.53 446.33L600.69 446.50L600.82 446.66L600.94 446.82L601.04 446.98L601.13 447.13L601.21 447.27L601.27 447.41L601.32 447.55L601.36 447.69L601.39 447.82L601.41 447.95L601.41 448.08L601.41 448.20L601.39 448.32L601.37 448.43L601.33 448.54L601.28 448.65L601.22 448.75L601.15 448.85L601.06 448.94L600.96 449.03L600.84 449.11L600.70 449.18L600.54 449.25L600.37 449.31L600.18 449.37L599.97 449.41L599.74 449.45L599.49 449.48L599.22 449.51L598.93 449.52L598.63 449.53L598.31 449.53L597.97 449.53L597.62 449.52L597.26 449.50L596.88 449.48L596.50 449.46L596.11 449.43L595.71 449.40L595.32 449.36L594.92 449.33L594.53 449.29L594.14 449.25L593.75 449.21L593.38 449.18L593.02 449.15L592.67 449.11L592.33 449.09L592.01 449.06L591.71 449.04L591.43 449.03L591.16 449.01L590.92 449.01L590.69 449.01L590.48 449.01L590.29 449.02L590.12 449.03L589.97 449.05L589.83 449.07L589.71 449.10L589.61 449.13L589.52 449.16L589.45 449.20L589.38 449.24L589.34 449.29L589.30 449.34L589.27 449.39L589.26 449.44L589.25 449.50L589.26 449.56L589.27 449.63L589.30 449.70L589.34 449.77L589.38 449.85L589.44 449.93L589.51 450.01L589.60 450.10L589.70 450.19L589.81 450.29L589.94 450.40L590.09 450.51L590.25 450.63L590.43 450.75L590.63 450.89L590.85 451.03L591.09 451.17L591.34 451.33L591.62 451.49L591.91 451.65L592.23 451.83L592.55 452.01L592.90 452.20L593.26 452.39L593.63 452.59L594.01 452.80L594.40 453.01L594.80 453.22L595.21 453.44L595.62 453.66L596.02 453.88L596.43 454.10L596.83 454.32L597.23 454.55L597.62 454.77L598.00 454.99L598.37 455.20L598.72 455.42L599.06 455.63L599.38 455.84L599.68 456.04L599.97 456.24L600.24 456.44L600.49 456.63L600.72 456.81L600.93 456.99L601.13 457.17L601.30 457.34L601.46 457.51L601.60 457.67L601.73 457.83L601.84 457.98L601.94 458.13L602.02 458.28L602.09 458.42L602.15 458.56L602.19 458.70L602.23 458.83L602.25 458.96L602.27 459.09L602.27 459.21L602.27 459.34L602.25 459.45L602.23 459.57L602.19 459.68L602.14 459.78L602.08 459.89L602.00 459.98L601.92 460.07L601.81 460.16L601.69 460.24L601.56 460.32L601.41 460.39L601.24 460.45L601.05 460.50L600.85 460.55L600.62 460.59L600.38 460.63L600.12 460.65L599.84 460.68L599.54 460.69L599.22 460.70L598.89 460.70L598.55 460.69L598.19 460.68L597.82 460.66L597.45 460.64L597.06 460.62L596.67 460.59L596.28 460.56L595.88 460.53L595.49 460.49L595.10 460.46L594.71 460.43L594.34 460.39L593.97 460.36L593.61 460.33L593.27 460.31L592.94 460.28L592.63 460.26L592.33 460.25L592.05 460.23L591.79 460.22L591.54 460.22L591.32 460.22L591.11 460.23L590.93 460.24L590.76 460.25L590.61 460.27L590.47 460.30L590.35 460.32L590.25 460.36L590.16 460.39L590.08 460.43L590.02 460.47L589.97 460.52L589.93 460.57L589.90 460.62L589.88 460.68L589.88 460.74L589.88 460.80L589.89 460.86L589.91 460.93L589.95 461.00L589.99 461.08L590.04 461.16L590.11 461.24L590.19 461.33L590.28 461.42L590.39 461.52L590.51 461.62L590.64 461.73L590.79 461.84L590.96 461.96L591.15 462.09L591.35 462.22L591.58 462.36L591.82 462.51L592.08 462.66L592.36 462.82L592.65 462.99L592.97 463.16L593.30 463.34L593.64 463.53L594.00 463.72L594.37 463.92L594.75 464.12L595.15 464.33L595.54 464.54L595.95 464.75L596.35 464.97L596.76 465.19L597.16 465.41L597.57 465.63L597.96 465.85L598.35 466.06L598.73 466.28L599.10 466.50L599.45 466.71L599.80 466.92L600.12 467.12L600.43 467.33L600.72 467.52L601.00 467.72L601.25 467.91L601.49 468.09L601.71 468.27L601.91 468.45L602.10 468.62L602.26 468.79L602.41 468.95L602.55 469.11L602.67 469.27L602.77 469.42L602.86 469.57L602.94 469.71L603.01 469.85L603.06 469.99L603.10 470.12L603.14 470.25L603.16 470.38L603.17 470.51L603.18 470.63L603.17 470.75L603.15 470.87L603.13 470.98L603.09 471.09L603.04 471.20L602.98 471.30L602.91 471.39L602.82 471.49L602.72 471.57L602.60 471.65L602.47 471.73L602.32 471.80L602.15 471.86L601.97 471.92L601.77 471.97L601.55 472.02L601.31 472.05L601.05 472.08L600.78 472.11L600.49 472.12L600.18 472.14L599.86 472.14L599.52 472.14L599.17 472.13L598.81 472.12L598.43 472.10L598.05 472.08L597.67 472.06L597.28 472.03L596.88 472.01L596.49 471.98L596.10 471.94L595.71 471.91L595.33 471.88L594.96 471.85L594.60 471.83L594.25 471.80L593.91 471.78L593.59 471.76L593.28 471.74L592.99 471.73L592.72 471.72L592.46 471.71L592.22 471.71L592.00 471.72L591.80 471.72L591.61 471.74L591.45 471.75L591.30 471.77L591.16 471.80L591.05 471.83L590.94 471.86L590.85 471.90L590.78 471.94L590.72 471.98L590.66 472.03L590.63 472.08L590.60 472.13L590.58 472.19L590.57 472.25L590.57 472.31L590.58 472.38L590.60 472.44L590.63 472.51L590.67 472.59L590.72 472.67L590.78 472.75L590.86 472.83L590.94 472.92L591.05 473.02L591.16 473.12L591.29 473.22L591.43 473.33L591.59 473.45L591.77 473.57L591.97 473.70L592.18 473.84L592.41 473.98L592.66 474.13L592.93 474.28L593.21 474.44L593.52 474.61L593.83 474.79L594.17 474.97L594.52 475.15L594.88 475.35L595.25 475.54L595.64 475.74L596.03 475.95L596.43 476.16L596.83 476.37L597.24 476.58L597.64 476.80L598.05 477.01L598.45 477.23L598.85 477.45L599.23 477.66L599.61 477.88L599.98 478.09L600.34 478.30L600.68 478.51L601.01 478.71L601.32 478.91L601.61 479.11L601.89 479.30L602.15 479.49L602.39 479.67L602.62 479.85L602.82 480.03L603.01 480.20L603.18 480.37L603.34 480.53L603.48 480.69L603.60 480.84L603.71 481.00L603.81 481.14L603.89 481.29L603.96 481.43L604.02 481.57L604.07 481.70L604.11 481.84L604.14 481.97L604.16 482.09L604.17 482.22L604.17 482.34L604.16 482.45L604.14 482.57L604.11 482.68L604.07 482.79L604.02 482.89L603.95 482.99L603.88 483.09L603.79 483.18L603.68 483.26L603.56 483.34L603.43 483.42L603.27 483.49L603.11 483.55L602.92 483.61L602.72 483.66L602.50 483.70L602.26 483.74L602.00 483.77L601.73 483.80L601.43 483.82L601.13 483.83L600.80 483.83L600.47 483.84L600.12 483.83L599.76 483.82L599.39 483.81L599.01 483.79L598.62 483.77L598.23 483.75L597.84 483.72L597.45 483.69L597.06 483.66L596.67 483.64L596.29 483.61L595.92 483.58L595.55 483.55L595.20 483.53L594.86 483.51L594.53 483.49L594.22 483.47L593.92 483.46L593.64 483.45L593.38 483.45L593.13 483.45L592.90 483.45L592.69 483.46L592.50 483.47L592.33 483.49L592.17 483.51L592.03 483.53L591.90 483.56L591.79 483.59L591.69 483.63L591.61 483.67L591.54 483.71L591.48 483.76L591.44 483.80L591.40 483.86L591.38 483.91L591.36 483.97L591.36 484.03L591.36 484.09L591.37 484.16L591.40 484.23L591.43 484.30L591.47 484.37L591.53 484.45L591.59 484.53L591.67 484.62L591.76 484.71L591.86 484.81L591.98 484.91L592.11 485.01L592.26 485.12L592.42 485.24L592.60 485.36L592.79 485.49L593.01 485.62L593.24 485.76L593.49 485.91L593.76 486.06L594.04 486.22L594.34 486.39L594.66 486.56L594.99 486.74L595.34 486.92L595.70 487.11L596.08 487.30L596.46 487.50L596.85 487.70L597.25 487.91L597.66 488.12L598.06 488.33L598.47 488.54L598.88 488.75L599.28 488.97L599.69 489.18L600.08 489.40L600.46 489.61L600.84 489.82L601.20 490.03L601.55 490.24L601.89 490.44L602.21 490.64L602.51 490.84L602.80 491.03L603.07 491.22L603.33 491.41L603.56 491.59L603.78 491.76L603.98 491.94L604.17 492.11L604.33 492.27L604.48 492.43L604.62 492.59L604.74 492.74L604.85 492.89L604.94 493.04L605.02 493.18L605.09 493.32L605.15 493.46L605.20 493.59L605.24 493.72L605.27 493.85L605.28 493.98L605.29 494.10L605.29 494.22L605.28 494.34L605.27 494.45L605.24 494.56L605.20 494.67L605.15 494.77L605.08 494.87L605.01 494.97L604.92 495.06L604.82 495.14L604.70 495.23L604.57 495.30L604.42 495.37L604.26 495.44L604.08 495.49L603.88 495.55L603.66 495.59L603.43 495.63L603.18 495.67L602.91 495.69L602.63 495.71L602.33 495.73L602.02 495.74L601.69 495.74L601.35 495.74L600.99 495.74L600.63 495.72L600.26 495.71L599.88 495.69L599.50 495.67L599.11 495.65L598.73 495.62L598.34 495.60L597.96 495.57L597.58 495.54L597.21 495.52L596.84 495.49L596.49 495.47L596.15 495.45L595.82 495.43L595.51 495.41L595.21 495.40L594.92 495.39L594.65 495.39L594.40 495.38L594.17 495.39L593.96 495.39L593.76 495.40L593.58 495.42L593.41 495.44L593.26 495.46L593.13 495.49L593.02 495.52L592.91 495.55L592.83 495.59L592.75 495.63L592.69 495.67L592.64 495.72L592.60 495.77L592.57 495.82L592.55 495.88L592.54 495.94L592.54 496.00L592.55 496.06L592.57 496.13L592.60 496.20L592.64 496.27L592.69 496.35L592.74 496.42L592.81 496.51L592.89 496.59L592.99 496.68L593.09 496.78L593.21 496.88L593.35 496.98L593.49 497.09L593.66 497.21L593.84 497.33L594.04 497.46L594.25 497.59L594.48 497.73L594.73 497.87L594.99 498.02L595.28 498.18L595.58 498.34L595.89 498.51L596.22 498.69L596.57 498.87L596.92 499.06L597.29 499.25L597.68 499.44L598.07 499.64L598.46 499.85L598.87 500.05L599.27 500.26L599.68 500.47L600.09 500.68L600.49 500.90L600.90 501.11L601.29 501.32L601.68 501.53L602.06 501.75L602.43 501.95L602.79 502.16L603.14 502.36L603.47 502.57L603.78 502.76L604.08 502.96L604.37 503.15L604.63 503.33L604.88 503.51L605.11 503.69L605.33 503.87L605.53 504.04L605.71 504.20L605.87 504.36L606.02 504.52L606.16 504.68L606.28 504.83L606.39 504.98L606.49 505.12L606.57 505.26L606.64 505.40L606.71 505.53L606.76 505.67L606.80 505.80L606.83 505.93L606.86 506.05L606.87 506.17L606.88 506.29L606.88 506.41L606.86 506.52L606.84 506.63L606.81 506.74L606.76 506.84L606.71 506.94L606.64 507.03L606.56 507.12L606.46 507.21L606.35 507.29L606.23 507.37L606.09 507.44L605.94 507.50L605.76 507.56L605.58 507.61L605.37 507.66L605.15 507.70L604.91 507.73L604.65 507.76L604.38 507.78L604.09 507.80L603.79 507.81L603.47 507.81L603.14 507.81L602.80 507.81L602.45 507.80L602.09 507.79L601.73 507.77L601.35 507.75L600.98 507.73L600.61 507.71L600.23 507.68L599.86 507.66L599.49 507.63L599.13 507.61L598.78 507.58L598.43 507.56L598.10 507.54L597.78 507.52L597.47 507.50L597.18 507.49L596.90 507.48L596.63 507.48L596.39 507.48L596.16 507.48L595.95 507.48L595.75 507.49L595.57 507.51L595.41 507.53L595.27 507.55L595.14 507.57L595.02 507.60L594.92 507.64L594.83 507.68L594.76 507.72L594.70 507.76L594.65 507.81L594.61 507.85L594.58 507.91L594.56 507.96L594.56 508.02L594.56 508.08L594.56 508.14L594.58 508.21L594.61 508.28L594.65 508.35L594.69 508.42L594.75 508.50L594.81 508.58L594.89 508.66L594.98 508.75L595.08 508.84L595.19 508.94L595.32 509.04L595.46 509.15L595.61 509.26L595.79 509.38L595.97 509.50L596.18 509.63L596.40 509.77L596.63 509.91L596.89 510.05L597.16 510.21L597.44 510.37L597.75 510.53L598.07 510.70L598.40 510.88L598.75 511.06L599.10 511.25L599.48 511.44L599.86 511.63L600.24 511.83L600.64 512.04L601.04 512.24L601.44 512.45L601.85 512.66L602.25 512.87L602.65 513.08L603.05 513.30L603.44 513.51L603.82 513.72L604.20 513.93L604.56 514.14L604.91 514.34L605.25 514.54L605.57 514.74L605.88 514.94L606.17 515.13L606.45 515.32L606.71 515.50L606.95 515.69L607.18 515.86L607.38 516.03L607.58 516.20L607.75 516.37L607.91 516.53L608.06 516.69L608.19 516.84L608.30 516.99L608.41 517.14L608.50 517.28L608.58 517.42L608.64 517.56L608.70 517.70L608.75 517.83L608.79 517.96L608.82 518.09L608.84 518.21L608.85 518.33L608.85 518.45L608.84 518.57L608.82 518.68L608.80 518.79L608.76 518.90L608.71 519.00L608.65 519.10L608.58 519.19L608.49 519.29L608.40 519.37L608.29 519.45L608.16 519.53L608.02 519.60L607.86 519.67L607.69 519.72L607.50 519.78L607.29 519.83L607.06 519.87L606.82 519.90L606.57 519.93L606.29 519.96L606.00 519.97L605.70 519.98L605.38 519.99L605.05 519.99L604.71 519.99L604.36 519.98L603.99 519.97L603.63 519.95L603.25 519.94L602.88 519.92L602.50 519.89L602.12 519.87L601.75 519.85L601.37 519.82L601.01 519.80L600.65 519.77L600.30 519.75L599.96 519.73L599.63 519.71L599.31 519.70L599.01 519.68L598.73 519.67L598.45 519.67L598.20 519.67L597.96 519.67L597.74 519.67L597.54 519.68L597.35 519.69L597.18 519.71L597.02 519.73L596.88 519.76L596.76 519.79L596.65 519.82L596.55 519.86L596.47 519.90L596.40 519.94L596.34 519.98L596.30 520.03L596.26 520.08L596.24 520.14L596.22 520.19L596.21 520.25L596.21 520.31L596.23 520.38L596.25 520.45L596.27 520.52L596.31 520.59L596.36 520.67L596.42 520.75L596.49 520.83L596.57 520.91L596.66 521.01L596.76 521.10L596.88 521.20L597.01 521.30L597.16 521.41L597.32 521.53L597.49 521.65L597.69 521.77L597.90 521.91L598.12 522.04L598.36 522.19L598.62 522.34L598.90 522.49L599.19 522.65L599.50 522.82L599.82 522.99L600.16 523.17L600.51 523.36L600.87 523.55L601.24 523.74L601.62 523.94L602.01 524.14L602.41 524.34L602.81 524.55L603.21 524.76L603.61 524.97L604.01 525.18L604.41 525.39L604.80 525.60L605.18 525.81L605.56 526.02L605.93 526.23L606.28 526.44L606.63 526.64L606.96 526.84L607.27 527.04L607.57 527.23L607.85 527.42L608.12 527.61L608.37 527.79L608.60 527.97L608.82 528.15L609.02 528.32L609.21 528.49L609.37 528.65L609.53 528.81L609.66 528.96L609.79 529.12L609.90 529.27L610.00 529.41L610.08 529.55L610.15 529.69L610.22 529.83L610.27 529.96L610.31 530.10L610.35 530.22L610.37 530.35L610.39 530.47L610.39 530.60L610.39 530.71L610.38 530.83L610.36 530.94L610.32 531.05L610.28 531.15L610.23 531.26L610.17 531.35L610.09 531.45L610.00 531.54L609.90 531.62L609.78 531.70L609.65 531.78L609.50 531.85L609.34 531.91L609.16 531.97L608.96 532.02L608.74 532.06L608.51 532.10L608.27 532.14L608.00 532.16L607.72 532.19L607.43 532.20L607.12 532.21L606.80 532.22L606.46 532.22L606.12 532.21L605.76 532.20L605.40 532.19L605.03 532.17L604.65 532.16L604.27 532.13L603.89 532.11L603.51 532.09L603.14 532.06L602.77 532.04L602.40 532.01L602.04 531.99L601.69 531.97L601.35 531.95L601.03 531.93L600.72 531.92L600.42 531.91L600.13 531.90L599.87 531.89L599.61 531.89L599.38 531.89L599.16 531.90L598.96 531.91L598.78 531.93L598.61 531.94L598.46 531.97L598.32 531.99L598.20 532.02L598.09 532.06L597.99 532.09L597.91 532.13L597.85 532.18L597.79 532.22L597.74 532.27L597.71 532.33L597.68 532.38L597.66 532.44L597.66 532.50L597.66 532.56L597.67 532.63L597.69 532.69L597.72 532.76L597.76 532.84L597.80 532.92L597.86 533.00L597.93 533.08L598.01 533.17L598.10 533.26L598.21 533.36L598.33 533.46L598.46 533.56L598.61 533.67L598.77 533.79L598.95 533.91L599.14 534.04L599.35 534.17L599.58 534.31L599.82 534.46L600.08 534.61L600.36 534.77L600.65 534.93L600.96 535.10L601.29 535.28L601.62 535.46L601.97 535.64L602.34 535.83L602.71 536.03L603.09 536.23L603.48 536.43L603.87 536.63L604.26 536.84L604.66 537.05L605.06 537.26L605.46 537.47L605.85 537.68L606.23 537.90L606.61 538.11L606.98 538.32L607.34 538.52L607.69 538.73L608.02 538.93L608.34 539.13L608.65 539.33L608.94 539.52L609.21 539.71L609.47 539.90L609.71 540.08L609.93 540.26L610.14 540.43L610.33 540.60L610.50 540.77L610.66 540.93L610.80 541.09L610.93 541.24L611.04 541.39L611.15 541.54L611.23 541.69L611.31 541.83L611.37 541.97L611.43 542.10L611.47 542.23L611.51 542.36L611.53 542.49L611.55 542.62L611.55 542.74L611.55 542.86L611.54 542.98L611.52 543.09L611.49 543.20L611.45 543.31L611.40 543.41L611.33 543.51L611.26 543.61L611.17 543.70L611.07 543.79L610.96 543.87L610.83 543.95L610.68 544.02L610.52 544.09L610.35 544.15L610.15 544.20L609.94 544.25L609.72 544.29L609.47 544.33L609.21 544.36L608.93 544.38L608.64 544.40L608.33 544.42L608.01 544.42L607.68 544.42L607.33 544.42L606.97 544.41L606.61 544.40L606.23 544.39L605.85 544.37L605.47 544.35L605.09 544.33L604.70 544.30L604.32 544.28L603.94 544.25L603.56 544.23L603.20 544.20L602.84 544.18L602.49 544.16L602.15 544.14L601.83 544.12L601.52 544.11L601.22 544.10L600.94 544.09L600.68 544.09L600.43 544.09L600.20 544.10L599.99 544.10L599.79 544.12L599.62 544.13L599.45 544.15L599.31 544.18L599.17 544.21L599.06 544.24L598.96 544.27L598.87 544.31L598.79 544.36L598.73 544.40L598.67 544.45L598.63 544.50L598.60 544.55L598.58 544.61L598.56 544.67L598.56 544.73L598.56 544.79L598.58 544.86L598.60 544.93L598.64 545.00L598.68 545.08L598.73 545.16L598.80 545.24L598.87 545.33L598.96 545.42L599.06 545.52L599.17 545.61L599.30 545.72L599.44 545.83L599.60 545.94L599.77 546.07L599.96 546.19L600.17 546.32L600.39 546.46L600.63 546.61L600.89 546.76L601.16 546.92L601.46 547.08L601.76 547.25L602.08 547.42L602.42 547.60L602.77 547.79L603.13 547.98L603.50 548.17L603.88 548.37L604.27 548.57L604.67 548.78L605.06 548.99L605.46 549.20L605.86 549.41L606.26 549.62L606.65 549.84L607.04 550.05L607.42 550.26L607.79 550.47L608.16 550.68L608.51 550.88L608.84 551.09L609.17 551.29L609.47 551.49L609.77 551.68L610.04 551.87L610.30 552.06L610.54 552.24L610.77 552.42L610.97 552.59L611.16 552.76L611.34 552.93L611.50 553.09L611.64 553.25L611.77 553.41L611.88 553.56L611.98 553.70L612.07 553.85L612.15 553.99L612.21 554.13L612.27 554.27L612.31 554.40L612.34 554.53L612.37 554.66L612.38 554.78L612.39 554.90L612.39 555.02L612.37 555.14L612.35 555.25L612.32 555.36L612.28 555.47L612.22 555.58L612.16 555.67L612.08 555.77L611.99 555.86L611.89 555.95L611.77 556.03L611.64 556.10L611.49 556.17L611.33 556.24L611.14 556.30L610.95 556.35L610.73 556.40L610.50 556.44L610.25 556.47L609.98 556.50L609.70 556.52L609.40 556.54L609.08 556.55L608.76 556.55L608.42 556.55L608.06 556.55L607.70 556.54L607.33 556.52L606.95 556.51L606.57 556.49L606.18 556.46L605.80 556.44L605.41 556.41L605.03 556.39L604.65 556.36L604.27 556.33L603.91 556.31L603.55 556.29L603.21 556.27L602.87 556.25L602.56 556.23L602.25 556.22L601.96 556.21L601.69 556.20L601.44 556.20L601.20 556.20L600.98 556.21L600.78 556.22L600.59 556.23L600.42 556.25L600.27 556.27L600.13 556.30L600.01 556.33L599.90 556.36L599.81 556.40L599.73 556.44L599.66 556.48L599.61 556.53L599.56 556.58L599.53 556.63L599.51 556.69L599.49 556.74L599.49 556.81L599.49 556.87L599.51 556.93L599.53 557.00L599.56 557.08L599.61 557.15L599.66 557.23L599.72 557.31L599.80 557.40L599.89 557.49L599.99 557.58L600.10 557.68L600.23 557.78L600.37 557.89L600.53 558.01L600.71 558.13L600.90 558.26L601.11 558.39L601.34 558.53L601.58 558.67L601.84 558.82L602.12 558.98L602.41 559.14L602.73 559.31L603.05 559.49L603.39 559.67L603.75 559.86L604.12 560.05L604.49 560.24L604.88 560.45L605.28 560.65L605.68 560.86L606.08 561.07L606.48 561.28L606.89 561.49L607.29 561.70L607.69 561.92L608.09 562.13L608.47 562.35L608.85 562.56L609.21 562.77L609.57 562.97L609.90 563.18L610.23 563.38L610.54 563.58L610.83 563.77L611.11 563.96L611.36 564.15L611.60 564.33L611.83 564.51L612.03 564.68L612.22 564.85L612.39 565.02L612.55 565.18L612.69 565.34L612.81 565.49L612.92 565.64L613.02 565.79L613.11 565.94L613.18 566.08L613.24 566.22L613.29 566.35L613.33 566.48L613.36 566.61L613.38 566.74L613.39 566.86L613.39 566.99L613.38 567.10L613.36 567.22L613.34 567.33L613.30 567.44L613.25 567.54L613.19 567.65L613.11 567.74L613.03 567.84L612.93 567.92L612.81 568.01L612.68 568.08L612.54 568.16L612.37 568.22L612.19 568.28L612.00 568.34L611.78 568.38L611.55 568.43L611.30 568.46L611.03 568.49L610.75 568.51L610.45 568.53L610.13 568.54L609.80 568.54L609.45 568.54L609.10 568.53L608.73 568.52L608.35 568.51L607.97 568.49L607.58 568.47L607.19 568.45L606.79 568.42L606.40 568.39L606.01 568.36L605.62 568.34L605.24 568.31L604.87 568.28L604.51 568.26L604.15 568.24L603.82 568.21L603.49 568.20L603.18 568.18L602.89 568.17L602.61 568.17L602.36 568.16L602.12 568.16L601.89 568.17L601.69 568.18L601.50 568.19L601.33 568.21L601.17 568.23L601.04 568.26L600.92 568.29L600.81 568.32L600.72 568.36L600.64 568.40L600.57 568.44L600.51 568.49L600.47 568.54L600.44 568.59L600.42 568.65L600.40 568.71L600.40 568.77L600.41 568.83L600.42 568.90L600.45 568.97L600.49 569.04L600.53 569.12L600.59 569.20L600.66 569.28L600.74 569.37L600.83 569.46L600.94 569.56L601.06 569.66L601.20 569.77L601.35 569.88L601.52 570.00L601.71 570.12L601.91 570.25L602.13 570.39L602.37 570.53L602.63 570.68L602.91 570.84L603.20 571.00L603.51 571.17L603.84 571.35L604.18 571.53L604.53 571.72L604.90 571.91L605.28 572.11L605.67 572.31L606.07 572.51L606.47 572.72L606.88 572.93L607.29 573.15L607.70 573.36L608.11 573.58L608.52 573.79L608.91 574.01L609.30 574.22L609.69 574.44L610.06 574.65L610.41 574.86L610.76 575.06L611.08 575.27L611.39 575.47L611.69 575.66L611.97 575.85L612.22 576.04L612.47 576.22L612.69 576.40L612.89 576.58L613.08 576.75L613.25 576.91L613.40 577.08L613.54 577.24L613.66 577.39L613.77 577.54L613.87 577.69L613.95 577.83L614.02 577.97L614.07 578.11L614.12 578.25L614.16 578.38L614.18 578.51L614.20 578.63L614.20 578.76L614.20 578.88L614.19 578.99L614.16 579.11L614.13 579.22L614.08 579.33L614.03 579.43L613.96 579.53L613.88 579.62L613.78 579.71L613.67 579.80L613.54 579.88L613.40 579.95L613.24 580.02L613.06 580.08L612.87 580.13L612.66 580.18L612.43 580.23L612.18 580.26L611.91 580.29L611.62 580.31L611.32 580.33L611.00 580.34L610.67 580.34L610.32 580.34L609.95 580.33L609.58 580.32L609.20 580.30L608.81 580.28L608.41 580.26L608.01 580.23L607.61 580.21L607.21 580.18L606.81 580.15L606.42 580.12L606.03 580.09L605.66 580.06L605.29 580.03L604.93 580.01L604.59 579.98L604.26 579.97L603.95 579.95L603.66 579.94L603.38 579.93L603.12 579.93L602.88 579.93L602.66 579.93L602.45 579.94L602.27 579.95L602.10 579.97L601.95 579.99L601.82 580.02L601.70 580.05L601.60 580.08L601.51 580.12L601.43 580.16L601.37 580.21L601.32 580.25L601.28 580.30L601.26 580.36L601.24 580.41L601.23 580.47L601.24 580.54L601.25 580.60L601.27 580.67L601.31 580.74L601.35 580.81L601.41 580.89L601.47 580.98L601.55 581.06L601.65 581.15L601.75 581.25L601.87 581.35L602.01 581.46L602.17 581.57L602.34 581.69L602.52 581.81L602.73 581.94L602.96 582.08L603.20 582.22L603.46 582.37L603.74 582.53L604.04 582.69L604.36 582.87L604.69 583.04L605.04 583.23L605.41 583.41L605.79 583.61L606.18 583.81L606.58 584.01L606.98 584.22L607.40 584.43L607.82 584.65L608.24 584.86L608.66 585.08L609.07 585.30L609.49 585.52L609.89 585.74L610.29 585.95L610.68 586.17L611.05 586.38L611.41 586.59L611.76 586.80L612.09 587.00L612.40 587.20L612.69 587.40L612.97 587.59L613.22 587.78L613.46 587.96L613.68 588.14L613.88 588.31L614.07 588.48L614.23 588.65L614.38 588.81L614.51 588.97L614.63 589.12L614.73 589.27L614.82 589.42L614.89 589.56L614.96 589.70L615.01 589.84L615.05 589.97L615.08 590.10L615.10 590.23L615.11 590.35L615.11 590.47L615.10 590.59L615.08 590.71L615.05 590.82L615.00 590.92L614.95 591.03L614.88 591.13L614.80 591.22L614.70 591.31L614.59 591.40L614.46 591.47L614.31 591.55L614.15 591.61L613.97 591.67L613.77 591.73L613.55 591.77L613.31 591.81L613.06 591.85L612.78 591.87L612.49 591.89L612.17 591.90L611.85 591.91L611.50 591.91L611.14 591.90L610.77 591.89L610.39 591.87L610.00 591.85L609.60 591.83L609.20 591.80L608.79 591.77L608.38 591.74L607.98 591.71L607.58 591.68L607.18 591.64L606.80 591.61L606.42 591.58L606.06 591.55L605.71 591.53L605.37 591.50L605.05 591.48L604.75 591.47L604.47 591.46L604.20 591.45L603.96 591.45L603.73 591.45L603.53 591.46L603.34 591.47L603.18 591.48L603.03 591.50L602.90 591.53L602.78 591.56L602.68 591.59L602.60 591.62L602.53 591.66L602.48 591.71L602.43 591.75L602.40 591.80L602.38 591.86L602.38 591.91L602.38 591.97L602.39 592.03L602.42 592.10L602.45 592.17L602.50 592.24L602.56 592.32L602.63 592.39L602.71 592.48L602.81 592.57L602.91 592.66L603.04 592.76L603.18 592.86L603.34 592.97L603.51 593.09L603.71 593.21L603.92 593.34L604.15 593.47L604.40 593.61L604.68 593.76L604.97 593.92L605.28 594.08L605.61 594.25L605.96 594.43L606.32 594.61L606.70 594.80L607.10 595.00L607.50 595.20L607.92 595.41L608.35 595.62L608.79 595.83L609.22 596.05L609.67 596.27L610.11 596.49L610.55 596.71L610.98 596.93L611.41 597.15L611.83 597.37L612.23 597.59L612.63 597.80L613.01 598.02L613.37 598.23L613.72 598.43L614.05 598.63L614.36 598.83L614.65 599.03L614.92 599.21L615.17 599.40L615.40 599.58L615.61 599.75L615.81 599.92L615.98 600.09L616.14 600.25L616.28 600.41L616.40 600.56L616.52 600.71L616.61 600.85L616.69 601.00L616.77 601.14L616.82 601.27L616.87 601.40L616.91 601.53L616.93 601.66L616.95 601.78L616.95 601.90L616.95 602.02L616.93 602.13L616.90 602.24L616.86 602.35L616.80 602.45L616.73 602.54L616.65 602.63L616.55 602.72L616.43 602.79L616.29 602.87L616.14 602.93L615.96 602.99L615.77 603.04L615.56 603.09L615.32 603.13L615.07 603.16L614.79 603.18L614.50 603.20L614.19 603.21L613.86 603.21L613.51 603.20L613.15 603.19L612.78 603.18L612.40 603.16L612.00 603.13L611.60 603.11L611.20 603.07L610.79 603.04L610.38 603.01L609.98 602.97L609.58 602.93L609.19 602.90L608.81 602.86L608.44 602.83L608.08 602.80L607.74 602.77L607.41 602.75L607.11 602.73L606.82 602.71L606.55 602.70L606.30 602.70L606.07 602.70L605.87 602.70L605.68 602.71L605.51 602.72L605.36 602.74L605.23 602.76L605.12 602.79L605.02 602.82L604.94 602.85L604.87 602.89L604.82 602.93L604.78 602.98L604.75 603.03L604.74 603.08L604.74 603.13L604.74 603.19L604.76 603.25L604.79 603.32L604.83 603.39L604.88 603.46L604.95 603.54L605.02 603.62L605.11 603.70L605.22 603.79L605.34 603.89L605.47 603.99L605.62 604.09L605.79 604.20L605.98 604.32L606.19 604.45L606.42 604.58L606.67 604.72L606.94 604.87L607.23 605.03L607.54 605.19L607.87 605.36L608.22 605.54L608.58 605.72L608.97 605.91L609.37 606.11L609.78 606.31L610.21 606.52L610.65 606.73L611.09 606.95L611.54 607.17L611.99 607.39L612.44 607.61L612.88 607.84L613.33 608.06L613.76 608.29L614.19 608.51L614.60 608.73L615.00 608.95L615.38 609.17L615.75 609.38L616.10 609.59L616.43 609.79L616.74 609.99L617.02 610.19L617.29 610.38L617.54 610.56L617.76 610.74L617.97 610.92L618.15 611.09L618.32 611.25L618.47 611.41L618.60 611.57L618.72 611.72L618.82 611.87L618.90 612.02L618.97 612.16L619.03 612.29L619.08 612.43L619.12 612.56L619.14 612.69L619.15 612.81L619.16 612.94L619.15 613.05L619.12 613.17L619.09 613.28L619.04 613.38L618.98 613.48L618.90 613.58L618.81 613.67L618.70 613.75L618.57 613.83L618.42 613.90L618.26 613.97L618.07 614.03L617.86 614.08L617.63 614.12L617.38 614.15L617.11 614.18L616.82 614.20L616.51 614.21L616.17 614.21L615.82 614.21L615.46 614.20L615.08 614.19L614.68 614.17L614.28 614.14L613.86 614.11L613.44 614.08L613.02 614.04L612.59 614.00L612.17 613.96L611.75 613.93L611.34 613.89L610.94 613.85L610.55 613.81L610.18 613.78L609.82 613.75L609.47 613.72L609.15 613.69L608.84 613.67L608.56 613.66L608.30 613.65L608.06 613.65L607.84 613.65L607.64 613.65L607.46 613.66L607.30 613.68L607.17 613.70L607.05 613.72L606.94 613.75L606.86 613.79L606.79 613.82L606.74 613.87L606.69 613.91L606.67 613.96L606.65 614.01L606.65 614.07L606.66 614.12L606.68 614.19L606.71 614.25L606.75 614.32L606.81 614.40L606.88 614.47L606.96 614.56L607.06 614.64L607.17 614.74L607.30 614.83L607.45 614.94L607.61 615.05L607.80 615.17L608.00 615.29L608.23 615.42L608.48 615.56L608.75 615.71L609.04 615.87L609.36 616.03L609.69 616.20L610.05 616.38L610.43 616.57L610.82 616.76L611.23 616.96L611.65 617.17L612.09 617.38L612.54 617.60L612.99 617.82L613.45 618.04L613.91 618.27L614.37 618.50L614.83 618.73L615.28 618.95L615.72 619.18L616.15 619.41L616.57 619.63L616.97 619.85L617.36 620.07L617.73 620.29L618.07 620.50L618.40 620.70L618.70 620.90L618.98 621.09L619.24 621.28L619.48 621.47L619.70 621.65L619.89 621.82L620.07 621.99L620.22 622.15L620.36 622.31L620.48 622.47L620.58 622.62L620.67 622.77L620.74 622.91L620.80 623.05L620.85 623.19L620.88 623.32L620.90 623.45L620.92 623.57L620.91 623.70L620.90 623.81L620.87 623.93L620.83 624.04L620.78 624.14L620.71 624.24L620.62 624.34L620.52 624.42L620.40 624.51L620.26 624.58L620.10 624.65L619.92 624.71L619.71 624.76L619.48 624.81L619.24 624.85L618.96 624.87L618.67 624.90L618.35 624.91L618.02 624.91L617.66 624.91L617.29 624.90L616.90 624.88L616.49 624.86L616.07 624.83L615.65 624.80L615.21 624.76L614.78 624.72L614.34 624.68L613.90 624.64L613.47 624.59L613.04 624.55L612.63 624.51L612.22 624.47L611.83 624.43L611.46 624.40L611.11 624.36L610.78 624.34L610.46 624.32L610.18 624.30L609.91 624.29L609.66 624.28L609.44 624.28L609.24 624.29L609.07 624.30L608.91 624.31L608.77 624.33L608.66 624.36L608.56 624.39L608.48 624.42L608.41 624.46L608.36 624.50L608.33 624.55L608.31 624.59L608.30 624.65L608.30 624.70L608.32 624.76L608.35 624.83L608.39 624.90L608.44 624.97L608.51 625.05L608.59 625.13L608.69 625.21L608.80 625.31L608.93 625.40L609.08 625.51L609.25 625.62L609.44 625.74L609.66 625.87L609.89 626.00L610.15 626.14L610.43 626.29L610.74 626.45L611.07 626.62L611.42 626.80L611.79 626.98L612.18 627.18L612.59 627.37L613.02 627.58L613.46 627.79L613.92 628.01L614.38 628.23L614.85 628.46L615.32 628.69L615.80 628.92L616.27 629.15L616.74 629.39L617.20 629.62L617.64 629.85L618.08 630.08L618.49 630.31L618.89 630.53L619.27 630.75L619.63 630.96L619.97 631.17L620.28 631.37L620.57 631.57L620.84 631.76L621.08 631.95L621.30 632.13L621.50 632.31L621.68 632.48L621.84 632.64L621.97 632.80L622.09 632.96L622.19 633.11L622.28 633.26L622.35 633.40L622.41 633.54L622.45 633.68L622.48 633.81L622.50 633.94L622.50 634.06L622.49 634.19L622.47 634.30L622.44 634.41L622.39 634.52L622.32 634.62L622.24 634.72L622.14 634.81L622.02 634.89L621.88 634.97L621.72 635.04L621.53 635.10L621.33 635.15L621.10 635.20L620.84 635.23L620.56 635.26L620.26 635.28L619.93 635.29L619.59 635.29L619.22 635.28L618.83 635.27L618.42 635.25L618.00 635.22L617.57 635.19L617.13 635.15L616.68 635.11L616.23 635.07L615.78 635.02L615.33 634.97L614.88 634.92L614.45 634.87L614.02 634.83L613.61 634.79L613.22 634.75L612.85 634.71L612.50 634.68L612.17 634.65L611.86 634.63L611.58 634.61L611.32 634.60L611.08 634.59L610.87 634.59L610.68 634.60L610.52 634.61L610.37 634.63L610.25 634.65L610.15 634.68L610.06 634.71L610.00 634.75L609.94 634.79L609.91 634.83L609.89 634.88L609.88 634.93L609.88 634.99L609.90 635.05L609.93 635.11L609.97 635.18L610.03 635.25L610.11 635.33L610.20 635.41L610.30 635.50L610.43 635.60L610.57 635.70L610.73 635.81L610.92 635.92L611.13 636.05L611.36 636.18L611.61 636.32L611.89 636.47L612.20 636.63L612.53 636.80L612.88 636.97L613.26 637.16L613.66 637.35L614.08 637.55L614.52 637.76L614.97 637.98L615.43 638.20L615.91 638.43L616.39 638.66L616.88 638.89L617.37 639.13L617.85 639.36L618.33 639.60L618.80 639.84L619.25 640.07L619.70 640.31L620.12 640.54L620.52 640.76L620.91 640.98L621.27 641.20L621.60 641.41L621.91 641.61L622.20 641.81L622.46 642.00L622.70 642.19L622.91 642.37L623.10 642.55L623.27 642.72L623.41 642.88L623.54 643.04L623.64 643.20L623.73 643.35L623.81 643.49L623.86 643.64L623.91 643.77L623.94 643.91L623.95 644.04L623.95 644.17L623.94 644.29L623.92 644.40L623.88 644.52L623.82 644.62L623.75 644.73L623.65 644.82L623.54 644.91L623.41 644.99L623.26 645.07L623.08 645.13L622.88 645.19L622.66 645.24L622.40 645.28L622.13 645.31L621.83 645.33L621.50 645.34L621.15 645.35L620.77 645.34L620.37 645.33L619.96 645.31L619.53 645.28L619.08 645.24L618.62 645.20L618.15 645.16L617.68 645.11L617.21 645.06L616.74 645.01L616.28 644.95L615.82 644.90L615.38 644.85L614.95 644.80L614.54 644.76L614.15 644.72L613.78 644.68L613.44 644.65L613.12 644.62L612.82 644.60L612.55 644.59L612.31 644.58L612.09 644.58L611.90 644.59L611.73 644.60L611.59 644.61L611.46 644.64L611.36 644.66L611.27 644.69L611.21 644.73L611.16 644.77L611.12 644.82L611.10 644.87L611.10 644.92L611.11 644.98L611.13 645.04L611.17 645.10L611.22 645.17L611.28 645.25L611.37 645.33L611.47 645.42L611.59 645.51L611.73 645.61L611.89 645.72L612.08 645.84L612.29 645.96L612.52 646.10L612.78 646.24L613.07 646.39" fill="none" stroke="#D95319" stroke-width="3.30" stroke-linejoin="round" stroke-linecap="butt"/>
<path d="M416.11 217.66L415.80 217.75L415.49 217.84L415.16 217.93L414.84 218.02L414.52 218.12L414.20 218.21L413.88 218.30L413.58 218.39L413.28 218.48L413.00 218.58L412.73 218.67L412.48 218.76L412.25 218.86L412.03 218.96L411.83 219.05L411.65 219.15L411.50 219.25L411.36 219.35L411.24 219.45L411.13 219.55L411.05 219.66L410.98 219.76L410.92 219.86L410.87 219.97L410.84 220.07L410.82 220.18L410.80 220.29L410.79 220.39L410.78 220.50L410.78 220.60L410.78 220.71L410.78 220.82L410.78 220.93L410.78 221.03L410.78 221.14L410.78 221.25L410.78 221.35L410.79 221.46L410.79 221.57L410.80 221.67L410.82 221.78L410.84 221.89L410.87 222.00L410.91 222.11L410.96 222.22L411.02 222.32L411.10 222.44L411.19 222.55L411.30 222.66L411.43 222.77L411.58 222.89L411.75 223.00L411.93 223.12L412.14 223.23L412.36 223.35L412.60 223.47L412.86 223.59L413.14 223.71L413.43 223.83L413.73 223.95L414.04 224.07L414.36 224.19L414.68 224.32L415.01 224.44L415.33 224.56L415.65 224.68L415.97 224.81L416.28 224.93L416.57 225.05L416.86 225.17L417.13 225.29L417.38 225.41L417.62 225.53L417.84 225.64L418.04 225.76L418.22 225.88L418.38 225.99L418.53 226.10L418.65 226.22L418.75 226.33L418.84 226.44L418.92 226.55L418.98 226.66L419.02 226.77L419.06 226.88L419.09 226.98L419.11 227.09L419.12 227.20L419.13 227.31L419.13 227.41L419.14 227.52L419.14 227.63L419.14 227.73L419.14 227.84L419.14 227.95L419.14 228.05L419.14 228.16L419.14 228.27L419.14 228.37L419.13 228.48L419.12 228.59L419.10 228.69L419.07 228.80L419.03 228.90L418.99 229.01L418.93 229.11L418.85 229.22L418.76 229.32L418.66 229.42L418.53 229.52L418.39 229.62L418.22 229.72L418.04 229.82L417.84 229.91L417.62 230.01L417.38 230.11L417.12 230.20L416.85 230.29L416.56 230.39L416.27 230.48L415.96 230.57L415.64 230.66L415.32 230.75L415.00 230.84L414.68 230.94L414.36 231.03L414.04 231.12L413.74 231.21L413.44 231.30L413.16 231.40L412.89 231.49L412.63 231.58L412.40 231.68L412.18 231.78L411.98 231.87L411.80 231.97L411.64 232.07L411.49 232.17L411.37 232.27L411.27 232.37L411.18 232.48L411.11 232.58L411.05 232.68L411.00 232.79L410.97 232.89L410.94 233.00L410.92 233.10L410.91 233.21L410.90 233.32L410.90 233.42L410.90 233.53L410.90 233.64L410.90 233.74L410.90 233.85L410.90 233.96L410.90 234.06L410.91 234.17L410.91 234.28L410.91 234.39L410.92 234.49L410.94 234.60L410.96 234.71L410.98 234.82L411.02 234.92L411.07 235.03L411.13 235.14L411.21 235.25L411.30 235.36L411.40 235.48L411.53 235.59L411.67 235.70L411.84 235.82L412.02 235.93L412.22 236.05L412.44 236.17L412.68 236.29L412.94 236.40L413.21 236.52L413.49 236.64L413.79 236.77L414.10 236.89L414.42 237.01L414.74 237.13L415.06 237.25L415.39 237.38L415.71 237.50L416.03 237.62L416.34 237.74L416.64 237.86L416.92 237.98L417.20 238.10L417.46 238.22L417.70 238.34L417.92 238.46L418.12 238.58L418.31 238.69L418.47 238.81L418.62 238.92L418.75 239.03L418.85 239.15L418.95 239.26L419.02 239.37L419.09 239.48L419.14 239.59L419.17 239.69L419.20 239.80L419.22 239.91L419.24 240.02L419.25 240.13L419.25 240.23L419.26 240.34L419.26 240.45L419.26 240.55L419.26 240.66L419.26 240.77L419.26 240.87L419.26 240.98L419.26 241.09L419.26 241.19L419.25 241.30L419.24 241.41L419.22 241.51L419.20 241.62L419.17 241.72L419.12 241.83L419.06 241.93L418.99 242.03L418.91 242.14L418.81 242.24L418.69 242.34L418.55 242.44L418.39 242.54L418.21 242.64L418.01 242.74L417.80 242.83L417.56 242.93L417.31 243.02L417.04 243.12L416.76 243.21L416.47 243.30L416.16 243.39L415.85 243.48L415.53 243.58L415.21 243.67L414.89 243.76L414.57 243.85L414.25 243.94L413.94 244.03L413.64 244.13L413.36 244.22L413.08 244.31L412.82 244.41L412.58 244.50L412.36 244.60L412.15 244.69L411.97 244.79L411.80 244.89L411.66 244.99L411.53 245.09L411.42 245.19L411.32 245.30L411.25 245.40L411.19 245.50L411.14 245.61L411.10 245.71L411.07 245.82L411.05 245.92L411.04 246.03L411.03 246.14L411.02 246.24L411.02 246.35L411.02 246.46L411.02 246.56L411.02 246.67L411.02 246.78L411.03 246.88L411.03 246.99L411.03 247.10L411.03 247.20L411.04 247.31L411.05 247.42L411.07 247.53L411.10 247.63L411.13 247.74L411.18 247.85L411.23 247.96L411.30 248.07L411.39 248.18L411.49 248.29L411.61 248.41L411.75 248.52L411.90 248.63L412.08 248.75L412.27 248.86L412.49 248.98L412.72 249.10L412.97 249.22L413.24 249.34L413.52 249.46L413.81 249.58L414.12 249.70L414.43 249.82L414.75 249.95L415.08 250.07L415.40 250.19L415.72 250.31L416.04 250.43L416.35 250.56L416.66 250.68L416.95 250.80L417.23 250.92L417.49 251.04L417.74 251.16L417.97 251.27L418.18 251.39L418.37 251.51L418.54 251.62L418.69 251.74L418.83 251.85L418.94 251.96L419.04 252.07L419.12 252.18L419.19 252.29L419.24 252.40L419.28 252.51L419.32 252.62L419.34 252.73L419.36 252.84L419.37 252.94L419.37 253.05L419.38 253.16L419.38 253.26L419.38 253.37L419.38 253.48L419.39 253.59L419.39 253.69L419.39 253.80L419.39 253.91L419.38 254.01L419.38 254.12L419.37 254.22L419.36 254.33L419.33 254.44L419.30 254.54L419.26 254.65L419.21 254.75L419.15 254.85L419.07 254.96L418.97 255.06L418.86 255.16L418.73 255.26L418.58 255.36L418.41 255.46L418.22 255.56L418.01 255.65L417.78 255.75L417.54 255.85L417.28 255.94L417.00 256.03L416.71 256.13L416.41 256.22L416.10 256.31L415.79 256.40L415.47 256.49L415.15 256.58L414.82 256.68L414.51 256.77L414.19 256.86L413.89 256.95L413.60 257.04L413.32 257.14L413.06 257.23L412.81 257.33L412.58 257.42L412.36 257.52L412.17 257.62L412.00 257.71L411.84 257.81L411.70 257.91L411.59 258.01L411.49 258.12L411.40 258.22L411.34 258.32L411.28 258.43L411.24 258.53L411.21 258.64L411.18 258.74L411.17 258.85L411.16 258.95L411.15 259.06L411.15 259.17L411.15 259.27L411.15 259.38L411.15 259.49L411.15 259.59L411.15 259.70L411.15 259.81L411.15 259.91L411.16 260.02L411.16 260.13L411.17 260.24L411.19 260.34L411.21 260.45L411.24 260.56L411.28 260.67L411.33 260.78L411.39 260.89L411.47 261.00L411.56 261.11L411.67 261.22L411.80 261.33L411.95 261.45L412.12 261.56L412.30 261.68L412.51 261.80L412.73 261.91L412.97 262.03L413.23 262.15L413.51 262.27L413.79 262.39L414.09 262.51L414.40 262.63L414.72 262.76L415.04 262.88L415.37 263.00L415.69 263.12L416.01 263.25L416.32 263.37L416.63 263.49L416.93 263.61L417.21 263.73L417.49 263.85L417.74 263.97L417.98 264.09L418.20 264.20L418.40 264.32L418.58 264.44L418.74 264.55L418.88 264.67L419.01 264.78L419.12 264.89L419.21 265.00L419.28 265.11L419.34 265.22L419.39 265.33L419.43 265.44L419.45 265.55L419.47 265.65L419.49 265.76L419.50 265.87L419.50 265.98L419.51 266.08L419.51 266.19L419.51 266.30L419.51 266.40L419.51 266.51L419.51 266.62L419.51 266.72L419.51 266.83L419.51 266.94L419.50 267.04L419.49 267.15L419.47 267.26L419.45 267.36L419.41 267.47L419.37 267.57L419.31 267.68L419.24 267.78L419.15 267.88L419.05 267.98L418.93 268.08L418.79 268.18L418.63 268.28L418.45 268.38L418.26 268.48L418.04 268.57L417.81 268.67L417.55 268.77L417.29 268.86L417.00 268.95L416.71 269.04L416.41 269.14L416.09 269.23L415.78 269.32L415.45 269.41L415.13 269.50L414.81 269.59L414.50 269.69L414.19 269.78L413.89 269.87L413.61 269.96L413.33 270.06L413.08 270.15L412.83 270.25L412.61 270.34L412.41 270.44L412.22 270.54L412.06 270.64L411.91 270.74L411.78 270.84L411.67 270.94L411.58 271.04L411.50 271.14L411.44 271.25L411.39 271.35L411.35 271.46L411.32 271.56L411.30 271.67L411.29 271.77L411.28 271.88L411.28 271.99L411.27 272.09L411.27 272.20L411.27 272.31L411.27 272.41L411.28 272.52L411.28 272.63L411.28 272.73L411.28 272.84L411.29 272.95L411.29 273.05L411.31 273.16L411.32 273.27L411.35 273.38L411.38 273.49L411.42 273.59L411.48 273.70L411.55 273.81L411.63 273.92L411.73 274.04L411.85 274.15L411.98 274.26L412.14 274.38L412.31 274.49L412.50 274.61L412.72 274.72L412.95 274.84L413.19 274.96L413.46 275.08L413.74 275.20L414.03 275.32L414.33 275.44L414.64 275.56L414.96 275.69L415.29 275.81L415.61 275.93L415.93 276.05L416.25 276.18L416.56 276.30L416.87 276.42L417.16 276.54L417.44 276.66L417.70 276.78L417.95 276.90L418.18 277.02L418.40 277.13L418.59 277.25L418.77 277.37L418.92 277.48L419.06 277.59L419.18 277.71L419.28 277.82L419.36 277.93L419.43 278.04L419.49 278.15L419.53 278.26L419.56 278.36L419.59 278.47L419.61 278.58L419.62 278.69L419.63 278.79L419.63 278.90L419.64 279.01L419.64 279.12L419.64 279.22L419.64 279.33L419.64 279.44L419.64 279.54L419.64 279.65L419.64 279.76L419.64 279.86L419.63 279.97L419.61 280.08L419.59 280.18L419.57 280.29L419.53 280.39L419.48 280.50L419.42 280.60L419.34 280.70L419.25 280.81L419.14 280.91L419.02 281.01L418.87 281.11L418.71 281.21L418.53 281.30L418.32 281.40L418.10 281.50L417.86 281.59L417.61 281.69L417.34 281.78L417.05 281.87L416.75 281.97L416.45 282.06L416.13 282.15L415.81 282.24L415.49 282.33L415.17 282.42L414.85 282.52L414.54 282.61L414.24 282.70L413.94 282.79L413.66 282.88L413.39 282.98L413.14 283.07L412.90 283.17L412.68 283.26L412.48 283.36L412.30 283.46L412.14 283.56L412.00 283.66L411.88 283.76L411.77 283.86L411.69 283.96L411.61 284.07L411.55 284.17L411.51 284.28L411.47 284.38L411.45 284.49L411.43 284.59L411.42 284.70L411.41 284.80L411.40 284.91L411.40 285.02L411.40 285.12L411.40 285.23L411.40 285.34L411.41 285.45L411.41 285.55L411.41 285.66L411.41 285.77L411.42 285.87L411.43 285.98L411.44 286.09L411.46 286.20L411.48 286.30L411.52 286.41L411.57 286.52L411.62 286.63L411.70 286.74L411.78 286.85L411.89 286.96L412.01 287.08L412.15 287.19L412.31 287.30L412.48 287.42L412.68 287.54L412.90 287.65L413.13 287.77L413.38 287.89L413.65 288.01L413.93 288.13L414.22 288.25L414.53 288.37L414.84 288.49L415.16 288.62L415.48 288.74L415.81 288.86L416.13 288.98L416.45 289.10L416.76 289.23L417.06 289.35L417.35 289.47L417.62 289.59L417.88 289.71L418.13 289.83L418.36 289.94L418.57 290.06L418.76 290.18L418.93 290.29L419.08 290.41L419.21 290.52L419.33 290.63L419.42 290.74L419.51 290.85L419.57 290.96L419.63 291.07L419.67 291.18L419.70 291.29L419.72 291.40L419.74 291.51L419.75 291.61L419.76 291.72L419.76 291.83L419.77 291.93L419.77 292.04L419.77 292.15L419.77 292.25L419.77 292.36L419.77 292.47L419.77 292.57L419.77 292.68L419.76 292.79L419.76 292.89L419.74 293.00L419.72 293.11L419.69 293.21L419.65 293.32L419.60 293.42L419.54 293.52L419.46 293.63L419.37 293.73L419.26 293.83L419.13 293.93L418.98 294.03L418.81 294.13L418.63 294.23L418.42 294.32L418.20 294.42L417.96 294.52L417.70 294.61L417.43 294.70L417.14 294.80L416.84 294.89L416.53 294.98L416.22 295.07L415.90 295.16L415.58 295.26L415.26 295.35L414.94 295.44L414.63 295.53L414.33 295.62L414.03 295.71L413.75 295.81L413.49 295.90L413.24 296.00L413.00 296.09L412.79 296.19L412.59 296.29L412.41 296.38L412.26 296.48L412.12 296.58L412.00 296.68L411.89 296.79L411.81 296.89L411.74 296.99L411.68 297.10L411.63 297.20L411.60 297.31L411.57 297.41L411.56 297.52L411.54 297.62L411.54 297.73L411.53 297.84L411.53 297.94L411.53 298.05L411.53 298.16L411.53 298.26L411.54 298.37L411.54 298.48L411.54 298.58L411.54 298.69L411.55 298.80L411.56 298.91L411.57 299.01L411.59 299.12L411.62 299.23L411.65 299.34L411.70 299.45L411.76 299.56L411.83 299.67L411.92 299.78L412.03 299.89L412.15 300.00L412.29 300.12L412.45 300.23L412.63 300.34L412.82 300.46L413.04 300.58L413.28 300.70L413.53 300.82L413.80 300.94L414.08 301.06L414.37 301.18L414.68 301.30L414.99 301.42L415.31 301.54L415.63 301.66L415.95 301.79L416.27 301.91L416.59 302.03L416.90 302.15L417.20 302.27L417.49 302.39L417.77 302.51L418.03 302.63L418.27 302.75L418.50 302.87L418.70 302.99L418.89 303.10L419.06 303.22L419.21 303.33L419.34 303.44L419.46 303.56L419.55 303.67L419.64 303.78L419.70 303.89L419.75 304.00L419.80 304.11L419.83 304.22L419.85 304.32L419.87 304.43L419.88 304.54L419.89 304.65L419.89 304.75L419.89 304.86L419.89 304.97L419.89 305.07L419.90 305.18L419.90 305.29L419.90 305.39L419.90 305.50L419.89 305.61L419.89 305.71L419.88 305.82L419.87 305.93L419.84 306.03L419.82 306.14L419.78 306.24L419.73 306.35L419.66 306.45L419.58 306.55L419.49 306.66L419.38 306.76L419.25 306.86L419.10 306.96L418.94 307.06L418.75 307.15L418.54 307.25L418.32 307.35L418.08 307.44L417.82 307.54L417.55 307.63L417.26 307.72L416.97 307.81L416.66 307.91L416.34 308.00L416.03 308.09L415.71 308.18L415.39 308.27L415.07 308.36L414.76 308.46L414.45 308.55L414.16 308.64L413.88 308.73L413.61 308.83L413.36 308.92L413.13 309.02L412.91 309.11L412.71 309.21L412.54 309.31L412.38 309.41L412.24 309.51L412.12 309.61L412.01 309.71L411.93 309.81L411.85 309.92L411.80 310.02L411.75 310.13L411.71 310.23L411.69 310.34L411.67 310.44L411.66 310.55L411.65 310.66L411.65 310.76L411.65 310.87L411.65 310.98L411.65 311.08L411.65 311.19L411.65 311.30L411.65 311.40L411.65 311.51L411.65 311.62L411.66 311.72L411.67 311.83L411.68 311.94L411.70 312.05L411.73 312.15L411.76 312.26L411.81 312.37L411.86 312.48L411.94 312.59L412.02 312.70L412.13 312.81L412.25 312.93L412.39 313.04L412.54 313.15L412.72 313.27L412.92 313.39L413.13 313.50L413.36 313.62L413.61 313.74L413.88 313.86L414.16 313.98L414.45 314.10L414.76 314.22L415.07 314.34L415.39 314.47L415.71 314.59L416.03 314.71L416.35 314.83L416.67 314.95L416.98 315.08L417.28 315.20L417.57 315.32L417.84 315.44L418.11 315.56L418.35 315.68L418.58 315.79L418.79 315.91L418.98 316.03L419.15 316.14L419.30 316.26L419.44 316.37L419.55 316.48L419.65 316.59L419.73 316.70L419.80 316.81L419.86 316.92L419.90 317.03L419.93 317.14L419.95 317.25L419.97 317.36L419.98 317.46L419.99 317.57L420.00 317.68L420.00 317.78L420.00 317.89L420.00 318.00L420.00 318.11L420.00 318.21L420.00 318.32L420.00 318.43L420.00 318.53L420.00 318.64L419.99 318.75L419.98 318.85L419.96 318.96L419.93 319.06L419.89 319.17L419.84 319.27L419.78 319.38L419.70 319.48L419.61 319.58L419.51 319.68L419.38 319.78L419.24 319.88L419.07 319.98L418.89 320.08L418.69 320.18L418.47 320.27L418.23 320.37L417.98 320.46L417.71 320.56L417.42 320.65L417.13 320.74L416.82 320.83L416.51 320.93L416.19 321.02L415.87 321.11L415.55 321.20L415.24 321.29L414.92 321.38L414.62 321.48L414.32 321.57L414.04 321.66L413.77 321.76L413.52 321.85L413.28 321.95L413.07 322.04L412.87 322.14L412.68 322.24L412.52 322.34L412.38 322.44L412.26 322.54L412.15 322.64L412.06 322.74L411.98 322.84L411.92 322.95L411.88 323.05L411.84 323.16L411.81 323.26L411.79 323.37L411.78 323.47L411.77 323.58L411.77 323.69L411.77 323.79L411.77 323.90L411.77 324.01L411.77 324.11L411.77 324.22L411.77 324.33L411.78 324.43L411.78 324.54L411.78 324.65L411.79 324.76L411.80 324.86L411.82 324.97L411.85 325.08L411.88 325.19L411.92 325.30L411.98 325.41L412.05 325.52L412.13 325.63L412.23 325.74L412.35 325.85L412.48 325.96L412.64 326.08L412.81 326.19L413.00 326.31L413.21 326.43L413.44 326.54L413.69 326.66L413.95 326.78L414.23 326.90L414.52 327.02L414.82 327.14L415.13 327.27L415.45 327.39L415.77 327.51L416.09 327.63L416.41 327.75L416.73 327.88L417.04 328.00L417.35 328.12L417.64 328.24L417.92 328.36L418.19 328.48L418.44 328.60L418.67 328.72L418.88 328.83L419.08 328.95L419.26 329.07L419.41 329.18L419.55 329.29L419.67 329.41L419.78 329.52L419.86 329.63L419.94 329.74L419.99 329.85L420.04 329.96L420.08 330.07L420.10 330.17L420.12 330.28L420.14 330.39L420.15 330.50L420.16 330.60L420.16 330.71L420.16 330.82L420.17 330.92L420.17 331.03L420.17 331.14L420.17 331.24L420.18 331.35L420.18 331.46L420.17 331.56L420.17 331.67L420.16 331.78L420.14 331.88L420.12 331.99L420.09 332.09L420.04 332.20L419.99 332.30L419.92 332.41L419.83 332.51L419.73 332.61L419.61 332.71L419.48 332.81L419.32 332.91L419.15 333.01L418.95 333.11L418.74 333.20L418.51 333.30L418.26 333.39L417.99 333.49L417.72 333.58L417.42 333.67L417.12 333.76L416.81 333.86L416.50 333.95L416.18 334.04L415.86 334.13L415.54 334.22L415.22 334.31L414.92 334.41L414.62 334.50L414.33 334.59L414.06 334.69L413.80 334.78L413.56 334.87L413.33 334.97L413.13 335.07L412.94 335.17L412.77 335.26L412.62 335.36L412.49 335.46L412.38 335.57L412.28 335.67L412.21 335.77L412.14 335.87L412.09 335.98L412.05 336.08L412.02 336.19L412.00 336.29L411.99 336.40L411.98 336.51L411.98 336.61L411.98 336.72L411.98 336.83L411.98 336.93L411.98 337.04L411.98 337.15L411.99 337.25L411.99 337.36L411.99 337.47L412.00 337.57L412.01 337.68L412.02 337.79L412.04 337.90L412.06 338.00L412.10 338.11L412.14 338.22L412.19 338.33L412.26 338.44L412.34 338.55L412.43 338.66L412.55 338.77L412.68 338.89L412.83 339.00L413.00 339.12L413.19 339.23L413.40 339.35L413.62 339.46L413.87 339.58L414.13 339.70L414.41 339.82L414.70 339.94L415.01 340.06L415.32 340.18L415.64 340.31L415.97 340.43L416.30 340.55L416.63 340.67L416.96 340.80L417.28 340.92L417.59 341.04L417.90 341.16L418.19 341.28L418.47 341.40L418.74 341.52L418.98 341.64L419.21 341.76L419.42 341.87L419.61 341.99L419.79 342.10L419.94 342.22L420.07 342.33L420.19 342.44L420.29 342.55L420.37 342.66L420.44 342.77L420.50 342.88L420.54 342.99L420.58 343.10L420.60 343.21L420.62 343.31L420.64 343.42L420.65 343.53L420.66 343.64L420.66 343.74L420.67 343.85L420.67 343.96L420.68 344.06L420.69 344.17L420.69 344.28L420.69 344.38L420.70 344.49L420.70 344.60L420.69 344.70L420.68 344.81L420.66 344.91L420.64 345.02L420.60 345.12L420.55 345.23L420.49 345.33L420.41 345.44L420.32 345.54L420.21 345.64L420.08 345.74L419.93 345.84L419.77 345.94L419.58 346.04L419.37 346.13L419.15 346.23L418.91 346.32L418.65 346.42L418.37 346.51L418.08 346.60L417.78 346.70L417.47 346.79L417.15 346.88L416.83 346.97L416.51 347.06L416.19 347.16L415.87 347.25L415.55 347.34L415.24 347.43L414.95 347.52L414.67 347.62L414.40 347.71L414.14 347.81L413.91 347.90L413.69 348.00L413.49 348.09L413.31 348.19L413.15 348.29L413.01 348.39L412.89 348.49L412.79 348.59L412.70 348.70L412.63 348.80L412.58 348.90L412.53 349.01L412.50 349.11L412.48 349.22L412.46 349.33L412.46 349.43L412.45 349.54L412.45 349.64L412.45 349.75L412.46 349.86L412.46 349.97L412.47 350.07L412.47 350.18L412.48 350.29L412.48 350.39L412.49 350.50L412.50 350.61L412.51 350.71L412.53 350.82L412.55 350.93L412.58 351.04L412.62 351.15L412.67 351.25L412.73 351.36L412.81 351.47L412.90 351.58L413.01 351.70L413.13 351.81L413.28 351.92L413.44 352.04L413.63 352.15L413.83 352.27L414.05 352.38L414.30 352.50L414.56 352.62L414.83 352.74L415.12 352.86L415.43 352.98L415.75 353.10L416.07 353.22L416.40 353.35L416.74 353.47L417.08 353.59L417.42 353.71L417.75 353.83L418.08 353.96L418.40 354.08L418.70 354.20L419.00 354.32L419.28 354.44L419.54 354.56L419.79 354.67L420.01 354.79L420.22 354.91L420.41 355.02L420.58 355.14L420.73 355.25L420.86 355.36L420.97 355.48L421.07 355.59L421.15 355.70L421.21 355.81L421.26 355.91L421.31 356.02L421.34 356.13L421.37 356.24L421.39 356.35L421.40 356.45L421.41 356.56L421.42 356.67L421.43 356.77L421.44 356.88L421.44 356.99L421.45 357.09L421.46 357.20L421.46 357.31L421.47 357.42L421.47 357.52L421.47 357.63L421.46 357.73L421.45 357.84L421.43 357.95L421.40 358.05L421.36 358.16L421.31 358.26L421.24 358.36L421.16 358.47L421.05 358.57L420.94 358.67L420.80 358.77L420.64 358.87L420.47 358.97L420.27 359.06L420.05 359.16L419.82 359.26L419.56 359.35L419.29 359.45L419.01 359.54L418.71 359.63L418.40 359.72L418.08 359.82L417.76 359.91L417.43 360.00L417.10 360.09L416.77 360.18L416.45 360.27L416.13 360.37L415.83 360.46L415.53 360.55L415.25 360.64L414.98 360.74L414.73 360.83L414.50 360.93L414.28 361.03L414.09 361.12L413.92 361.22L413.76 361.32L413.63 361.42L413.51 361.52L413.41 361.63L413.33 361.73L413.27 361.83L413.21 361.94L413.17 362.04L413.15 362.15L413.13 362.25L413.11 362.36L413.11 362.46L413.11 362.57L413.11 362.68L413.11 362.78L413.12 362.89L413.12 363.00L413.13 363.10L413.13 363.21L413.14 363.32L413.15 363.42L413.15 363.53L413.16 363.64L413.18 363.75L413.20 363.85L413.23 363.96L413.26 364.07L413.30 364.18L413.36 364.29L413.43 364.40L413.51 364.51L413.61 364.62L413.72 364.73L413.86 364.84L414.01 364.96L414.19 365.07L414.38 365.19L414.60 365.30L414.83 365.42L415.08 365.54L415.35 365.66L415.64 365.78L415.94 365.90L416.26 366.02L416.58 366.14L416.92 366.26L417.26 366.38L417.61 366.50L417.95 366.63L418.29 366.75L418.63 366.87L418.97 366.99L419.29 367.11L419.60 367.23L419.90 367.35L420.18 367.47L420.44 367.59L420.69 367.71L420.91 367.83L421.12 367.94L421.31 368.06L421.47 368.17L421.62 368.28L421.75 368.40L421.86 368.51L421.95 368.62L422.03 368.73L422.10 368.84L422.15 368.95L422.19 369.06L422.22 369.16L422.25 369.27L422.27 369.38L422.28 369.49L422.30 369.59L422.31 369.70L422.32 369.81L422.32 369.91L422.33 370.02L422.34 370.13L422.35 370.23L422.36 370.34L422.36 370.45L422.36 370.55L422.36 370.66L422.36 370.77L422.34 370.87L422.32 370.98L422.29 371.08L422.25 371.19L422.19 371.29L422.12 371.39L422.04 371.50L421.93 371.60L421.81 371.70L421.66 371.80L421.50 371.90L421.32 372.00L421.12 372.09L420.89 372.19L420.65 372.29L420.39 372.38L420.11 372.47L419.82 372.57L419.52 372.66L419.20 372.75L418.88 372.84L418.55 372.94L418.22 373.03L417.88 373.12L417.55 373.21L417.23 373.30L416.91 373.39L416.60 373.49L416.30 373.58L416.02 373.67L415.75 373.77L415.50 373.86L415.27 373.96L415.06 374.06L414.87 374.15L414.70 374.25L414.55 374.35L414.42 374.45L414.30 374.55L414.21 374.66L414.13 374.76L414.07 374.86L414.02 374.97L413.99 375.07L413.96 375.18L413.95 375.28L413.94 375.39L413.93 375.50L413.94 375.60L413.94 375.71L413.95 375.82L413.95 375.92L413.96 376.03L413.97 376.14L413.98 376.24L413.99 376.35L414.00 376.46L414.01 376.56L414.02 376.67L414.04 376.78L414.06 376.89L414.09 376.99L414.13 377.10L414.18 377.21L414.24 377.32L414.32 377.43L414.41 377.54L414.51 377.65L414.64 377.76L414.78 377.88L414.95 377.99L415.13 378.10L415.33 378.22L415.56 378.34L415.80 378.45L416.06 378.57L416.34 378.69L416.64 378.81L416.95 378.93L417.28 379.05L417.62 379.17L417.96 379.29L418.31 379.42L418.67 379.54L419.02 379.66L419.37 379.78L419.72 379.91L420.06 380.03L420.39 380.15L420.70 380.27L421.01 380.39L421.29 380.51L421.56 380.63L421.81 380.74L422.04 380.86L422.26 380.98L422.45 381.09L422.62 381.20L422.77 381.32L422.90 381.43L423.01 381.54L423.10 381.65L423.19 381.76L423.25 381.87L423.31 381.98L423.35 382.09L423.38 382.20L423.41 382.30L423.43 382.41L423.45 382.52L423.46 382.63L423.48 382.73L423.49 382.84L423.50 382.95L423.51 383.05L423.52 383.16L423.53 383.27L423.54 383.37L423.55 383.48L423.55 383.59L423.55 383.69L423.55 383.80L423.54 383.90L423.51 384.01L423.48 384.11L423.44 384.22L423.39 384.32L423.31 384.43L423.23 384.53L423.12 384.63L422.99 384.73L422.85 384.83L422.68 384.93L422.50 385.03L422.29 385.13L422.06 385.22L421.82 385.32L421.55 385.41L421.27 385.51L420.97 385.60L420.66 385.69L420.34 385.78L420.02 385.88L419.68 385.97L419.34 386.06L419.01 386.15L418.67 386.24L418.34 386.33L418.02 386.43L417.71 386.52L417.41 386.61L417.12 386.71L416.85 386.80L416.60 386.89L416.37 386.99L416.15 387.09L415.96 387.19L415.79 387.28L415.64 387.38L415.51 387.49L415.40 387.59L415.30 387.69L415.23 387.79L415.16 387.90L415.12 388.00L415.08 388.10L415.06 388.21L415.04 388.32L415.04 388.42L415.04 388.53L415.04 388.63L415.04 388.74L415.05 388.85L415.06 388.95L415.07 389.06L415.08 389.17L415.09 389.28L415.10 389.38L415.11 389.49L415.12 389.60L415.14 389.70L415.16 389.81L415.18 389.92L415.22 390.03L415.26 390.13L415.31 390.24L415.37 390.35L415.45 390.46L415.54 390.57L415.65 390.68L415.78 390.80L415.92 390.91L416.09 391.02L416.28 391.14L416.49 391.25L416.72 391.37L416.97 391.49L417.23 391.60L417.52 391.72L417.82 391.84L418.14 391.96L418.48 392.08L418.82 392.21L419.17 392.33L419.53 392.45L419.89 392.57L420.25 392.69L420.61 392.82L420.96 392.94L421.31 393.06L421.65 393.18L421.97 393.30L422.28 393.42L422.57 393.54L422.85 393.66L423.10 393.78L423.34 393.89L423.55 394.01L423.75 394.12L423.92 394.24L424.08 394.35L424.21 394.46L424.33 394.57L424.43 394.68L424.51 394.79L424.58 394.90L424.63 395.01L424.68 395.12L424.71 395.23L424.74 395.34L424.76 395.44L424.78 395.55L424.80 395.66L424.81 395.76L424.82 395.87L424.83 395.98L424.84 396.08L424.85 396.19L424.87 396.30L424.87 396.41L424.88 396.51L424.89 396.62L424.89 396.72L424.88 396.83L424.87 396.94L424.85 397.04L424.82 397.15L424.78 397.25L424.72 397.36L424.65 397.46L424.56 397.56L424.46 397.66L424.33 397.76L424.18 397.86L424.02 397.96L423.83 398.06L423.62 398.16L423.39 398.25L423.14 398.35L422.87 398.45L422.59 398.54L422.29 398.63L421.97 398.73L421.65 398.82L421.31 398.91L420.97 399.00L420.63 399.09L420.29 399.18L419.94 399.28L419.61 399.37L419.28 399.46L418.96 399.55L418.65 399.64L418.36 399.74L418.08 399.83L417.82 399.93L417.58 400.02L417.36 400.12L417.17 400.22L416.99 400.32L416.83 400.42L416.70 400.52L416.58 400.62L416.48 400.72L416.40 400.82L416.34 400.93L416.29 401.03L416.25 401.14L416.22 401.24L416.21 401.35L416.20 401.45L416.19 401.56L416.20 401.67L416.20 401.77L416.21 401.88L416.22 401.99L416.23 402.09L416.23 402.20L416.24 402.31L416.25 402.41L416.26 402.52L416.28 402.63L416.29 402.74L416.31 402.84L416.33 402.95L416.36 403.06L416.40 403.17L416.45 403.27L416.51 403.38L416.59 403.49L416.68 403.60L416.79 403.71L416.91 403.83L417.06 403.94L417.22 404.05L417.41 404.17L417.62 404.28L417.85 404.40L418.10 404.52L418.37 404.63L418.65 404.75L418.96 404.87L419.28 404.99L419.62 405.11L419.96 405.23L420.32 405.36L420.68 405.48L421.05 405.60L421.41 405.72L421.78 405.85L422.14 405.97L422.49 406.09L422.83 406.21L423.16 406.33L423.48 406.45L423.78 406.57L424.06 406.69L424.33 406.81L424.57 406.92L424.79 407.04L424.99 407.15L425.17 407.27L425.33 407.38L425.47 407.49L425.59 407.60L425.69 407.72L425.78 407.83L425.85 407.94L425.91 408.04L425.96 408.15L425.99 408.26L426.02 408.37L426.04 408.48L426.06 408.58L426.08 408.69L426.09 408.80L426.10 408.90L426.11 409.01L426.12 409.12L426.13 409.22L426.14 409.33L426.15 409.44L426.16 409.54L426.16 409.65L426.16 409.76L426.16 409.86L426.15 409.97L426.13 410.07L426.10 410.18L426.06 410.28L426.00 410.39L425.93 410.49L425.85 410.59L425.74 410.70L425.62 410.80L425.47 410.90L425.31 411.00L425.12 411.10L424.91 411.19L424.68 411.29L424.43 411.39L424.16 411.48L423.87 411.57L423.57 411.67L423.25 411.76L422.92 411.85L422.59 411.95L422.24 412.04L421.89 412.13L421.54 412.22L421.19 412.31L420.85 412.40L420.51 412.50L420.18 412.59L419.86 412.68L419.56 412.77L419.27 412.87L419.01 412.96L418.76 413.06L418.53 413.16L418.32 413.25L418.13 413.35L417.97 413.45L417.82 413.55L417.70 413.65L417.59 413.75L417.51 413.86L417.43 413.96L417.38 414.07L417.34 414.17L417.31 414.28L417.29 414.38L417.28 414.49L417.27 414.59L417.27 414.70L417.28 414.81L417.28 414.91L417.29 415.02L417.30 415.13L417.31 415.23L417.32 415.34L417.32 415.45L417.33 415.55L417.35 415.66L417.36 415.77L417.38 415.87L417.40 415.98L417.43 416.09L417.47 416.20L417.51 416.31L417.57 416.42L417.64 416.52L417.73 416.63L417.83 416.75L417.96 416.86L418.10 416.97L418.26 417.08L418.44 417.20L418.65 417.31L418.87 417.43L419.12 417.55L419.39 417.66L419.68 417.78L419.98 417.90L420.30 418.02L420.64 418.14L420.99 418.26L421.35 418.38L421.71 418.51L422.08 418.63L422.46 418.75L422.83 418.87L423.20 418.99L423.56 419.12L423.91 419.24L424.25 419.36L424.58 419.48L424.89 419.60L425.18 419.72L425.46 419.83L425.71 419.95L425.95 420.07L426.16 420.18L426.35 420.30L426.52 420.41L426.67 420.52L426.79 420.64L426.91 420.75L427.00 420.86L427.08 420.97L427.14 421.08L427.19 421.18L427.23 421.29L427.26 421.40L427.29 421.51L427.31 421.61L427.33 421.72L427.34 421.83L427.35 421.94L427.36 422.04L427.37 422.15L427.38 422.26L427.39 422.36L427.40 422.47L427.41 422.58L427.42 422.68L427.42 422.79L427.42 422.90L427.41 423.00L427.39 423.11L427.36 423.21L427.33 423.32L427.28 423.42L427.21 423.53L427.13 423.63L427.03 423.73L426.91 423.83L426.77 423.93L426.61 424.03L426.43 424.13L426.22 424.23L426.00 424.33L425.75 424.42L425.48 424.52L425.20 424.61L424.90 424.71L424.58 424.80L424.25 424.89L423.91 424.98L423.56 425.08L423.21 425.17L422.85 425.26L422.49 425.35L422.14 425.44L421.79 425.53L421.45 425.63L421.12 425.72L420.81 425.81L420.51 425.91L420.23 426.00L419.97 426.10L419.73 426.19L419.51 426.29L419.31 426.39L419.13 426.49L418.97 426.59L418.84 426.69L418.72 426.79L418.63 426.89L418.55 426.99L418.49 427.10L418.44 427.20L418.40 427.31L418.38 427.41L418.36 427.52L418.35 427.63L418.35 427.73L418.35 427.84L418.36 427.94L418.37 428.05L418.37 428.16L418.38 428.27L418.39 428.37L418.40 428.48L418.41 428.59L418.42 428.69L418.43 428.80L418.45 428.91L418.47 429.01L418.49 429.12L418.53 429.23L418.57 429.34L418.62 429.45L418.69 429.56L418.77 429.67L418.87 429.78L418.99 429.89L419.12 430.00L419.27 430.11L419.45 430.23L419.65 430.34L419.87 430.46L420.11 430.57L420.37 430.69L420.65 430.81L420.95 430.93L421.27 431.05L421.61 431.17L421.96 431.29L422.32 431.41L422.69 431.53L423.06 431.65L423.44 431.78L423.82 431.90L424.20 432.02L424.57 432.14L424.93 432.26L425.28 432.38L425.62 432.50L425.95 432.62L426.26 432.74L426.54 432.86L426.81 432.98L427.06 433.10L427.28 433.21L427.49 433.33L427.67 433.44L427.83 433.55L427.97 433.67L428.09 433.78L428.20 433.89L428.28 434.00L428.36 434.11L428.41 434.22L428.46 434.32L428.50 434.43L428.53 434.54L428.55 434.65L428.57 434.75L428.58 434.86L428.59 434.97L428.60 435.07L428.61 435.18L428.62 435.29L428.63 435.39L428.64 435.50L428.65 435.61L428.66 435.72L428.66 435.82L428.66 435.93L428.66 436.03L428.65 436.14L428.62 436.25L428.59 436.35L428.55 436.46L428.49 436.56L428.41 436.66L428.32 436.77L428.21 436.87L428.08 436.97L427.93 437.07L427.75 437.17L427.56 437.27L427.34 437.36L427.10 437.46L426.84 437.56L426.56 437.65L426.26 437.74L425.95 437.84L425.62 437.93L425.28 438.02L424.93 438.12L424.57 438.21L424.20 438.30L423.84 438.39L423.48 438.48L423.12 438.57L422.77 438.67L422.43 438.76L422.10 438.85L421.79 438.95L421.49 439.04L421.22 439.13L420.96 439.23L420.72 439.33L420.51 439.42L420.31 439.52L420.14 439.62L419.99 439.72L419.86 439.82L419.75 439.93L419.66 440.03L419.59 440.13L419.53 440.24L419.48 440.34L419.45 440.45L419.43 440.55L419.42 440.66L419.41 440.76L419.41 440.87L419.41 440.98L419.42 441.08L419.43 441.19L419.44 441.30L419.44 441.40L419.45 441.51L419.46 441.62L419.47 441.72L419.48 441.83L419.50 441.94L419.51 442.05L419.53 442.15L419.56 442.26L419.60 442.37L419.65 442.48L419.71 442.59L419.78 442.70L419.87 442.81L419.97 442.92L420.10 443.03L420.24 443.14L420.41 443.25L420.59 443.37L420.80 443.48L421.03 443.60L421.28 443.72L421.56 443.83L421.85 443.95L422.17 444.07L422.50 444.19L422.84 444.31L423.20 444.43L423.57 444.55L423.95 444.68L424.33 444.80L424.72 444.92L425.10 445.04L425.48 445.16L425.85 445.29L426.22 445.41L426.57 445.53L426.91 445.65L427.24 445.77L427.54 445.89L427.83 446.00L428.09 446.12L428.33 446.24L428.56 446.35L428.76 446.47L428.93 446.58L429.09 446.69L429.22 446.81L429.34 446.92L429.44 447.03L429.52 447.14L429.59 447.25L429.64 447.35L429.69 447.46L429.72 447.57L429.75 447.68L429.77 447.79L429.78 447.89L429.80 448.00L429.81 448.11L429.82 448.21L429.83 448.32L429.84 448.43L429.85 448.53L429.86 448.64L429.86 448.75L429.87 448.85L429.87 448.96L429.87 449.07L429.86 449.17L429.85 449.28L429.82 449.38L429.78 449.49L429.73 449.59L429.67 449.70L429.59 449.80L429.49 449.90L429.37 450.00L429.23 450.11L429.07 450.21L428.88 450.30L428.68 450.40L428.45 450.50L428.20 450.60L427.93 450.69L427.64 450.79L427.33 450.88L427.00 450.97L426.66 451.07L426.31 451.16L425.95 451.25L425.59 451.34L425.22 451.43L424.85 451.53L424.48 451.62L424.12 451.71L423.76 451.80L423.42 451.89L423.09 451.99L422.78 452.08L422.48 452.18L422.20 452.27L421.94 452.37" fill="none" stroke="#EDB120" stroke-width="3.30" stroke-linejoin="round" stroke-linecap="butt"/>
<path d="M438.85 65.80L438.37 68.74L437.90 71.69L437.44 74.63L436.98 77.57L436.53 80.51L436.08 83.46L435.64 86.40M433.69 99.90L433.28 102.84L432.88 105.79L432.48 108.73L432.09 111.67L431.71 114.61L431.33 117.56L430.96 120.50M429.32 134.00L428.98 136.94L428.64 139.89L428.31 142.83L427.99 145.77L427.67 148.71L427.36 151.66L427.05 154.60M425.72 168.10L425.44 171.04L425.17 173.99L424.91 176.93L424.65 179.87L424.40 182.81L424.15 185.76L423.91 188.70M422.87 202.20L422.66 205.14L422.45 208.09L422.25 211.03L422.06 213.97L421.87 216.91L421.68 219.86L421.50 222.80M420.76 236.30L420.61 239.24L420.47 242.19L420.33 245.13L420.20 248.07L420.07 251.01L419.95 253.96L419.83 256.90M419.37 270.40L419.28 273.34L419.20 276.29L419.13 279.23L419.06 282.17L418.99 285.11L418.93 288.06L418.88 291.00M418.70 304.50L418.68 307.44L418.66 310.39L418.64 313.33L418.63 316.27L418.63 319.21L418.63 322.16L418.64 325.10M418.74 338.60L418.77 341.54L418.81 344.49L418.86 347.43L418.91 350.37L418.97 353.31L419.03 356.26L419.10 359.20M419.47 372.70L419.57 375.64L419.67 378.59L419.78 381.53L419.89 384.47L420.01 387.41L420.13 390.36L420.26 393.30M420.91 406.80L421.06 409.74L421.22 412.69L421.39 415.63L421.56 418.57L421.74 421.51L421.92 424.46L422.11 427.40M423.04 440.90L423.25 443.84L423.47 446.79L423.70 449.73L423.93 452.67L424.17 455.61L424.41 458.56L424.66 461.50M425.86 475.00L426.14 477.94L426.42 480.89L426.70 483.83L427.00 486.77L427.29 489.71L427.60 492.66L427.90 495.60M429.38 509.10L429.72 512.04L430.06 514.99L430.41 517.93L430.76 520.87L431.12 523.81L431.48 526.76L431.85 529.70M433.61 543.20L434.01 546.14L434.41 549.09L434.82 552.03L435.23 554.97L435.65 557.91L436.07 560.86L436.50 563.80M438.54 577.30L438.57 577.49L438.60 577.67L438.63 577.86L438.66 578.04L438.69 578.23L438.72 578.41L438.75 578.60" fill="none" stroke="#D95319" stroke-width="2.8"/>
<text x="81.00" y="653.90" font-size="24.3" text-anchor="end">0</text>
<text x="77.40" y="565.73" font-size="24.3" text-anchor="end">100</text>
<text x="77.40" y="477.56" font-size="24.3" text-anchor="end">200</text>
<text x="77.40" y="389.39" font-size="24.3" text-anchor="end">300</text>
<text x="77.40" y="301.22" font-size="24.3" text-anchor="end">400</text>
<text x="77.40" y="213.05" font-size="24.3" text-anchor="end">500</text>
<text x="77.40" y="124.88" font-size="24.3" text-anchor="end">600</text>
<text x="77.40" y="36.71" font-size="24.3" text-anchor="end">700</text>
<text x="134.88" y="686.4" font-size="24.3" text-anchor="middle">-100</text>
<text x="226.80" y="686.4" font-size="24.3" text-anchor="middle">0</text>
<text x="313.32" y="686.4" font-size="24.3" text-anchor="middle">100</text>
<text x="400.94" y="686.4" font-size="24.3" text-anchor="middle">200</text>
<text x="489.76" y="686.4" font-size="24.3" text-anchor="middle">300</text>
<text x="576.98" y="686.4" font-size="24.3" text-anchor="middle">400</text>
<text x="666.30" y="686.4" font-size="24.3" text-anchor="middle">500</text>
<text x="374.7" y="726" font-size="32" text-anchor="middle">ymm)</text>
<text transform="translate(23,328.8) rotate(-90)" font-size="32" text-anchor="middle">x(mm)</text>
<text x="243.45" y="275.80" font-size="32.0">M</text>
<text x="269.70" y="282.00" font-size="21.4">31</text>
<text x="564.45" y="276.90" font-size="32.0">M</text>
<text x="591.00" y="283.10" font-size="21.4">33</text>
<text x="361.35" y="482.40" font-size="32.0">M</text>
<text x="387.60" y="488.60" font-size="21.4">22</text>
<text x="238.65" y="614.60" font-size="32.0">M</text>
<text x="264.90" y="620.80" font-size="21.4">11</text>
<text x="541.05" y="618.70" font-size="32.0">M</text>
<text x="567.80" y="624.90" font-size="21.4">13</text>
</svg></body></html>
